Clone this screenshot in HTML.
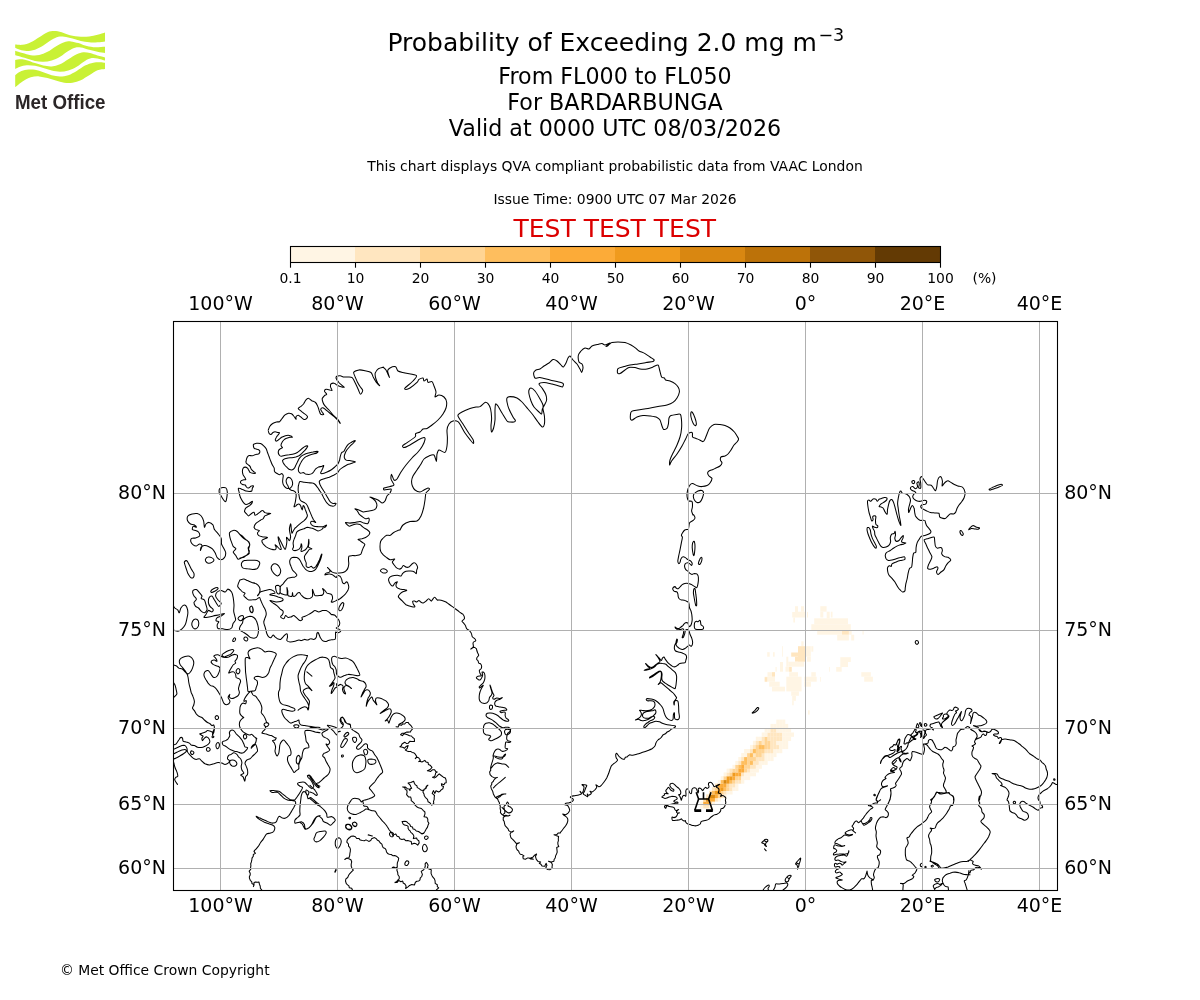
<!DOCTYPE html>
<html lang="en"><head><meta charset="utf-8"><title>Probability of Exceeding 2.0 mg m-3</title>
<style>
html,body{margin:0;padding:0;background:#fff}
body{width:1200px;height:1000px;overflow:hidden;position:relative}
svg{position:absolute;left:0;top:0;display:block;will-change:transform;-webkit-font-smoothing:antialiased}
text{font-family:"DejaVu Sans","Liberation Sans",sans-serif;fill:#000}
.logo text{font-family:"Liberation Sans","DejaVu Sans",sans-serif;font-weight:700;fill:#2b2627}
.ax text{font-size:19px}
.grid line{stroke:#b0b0b0;stroke-width:1;shape-rendering:crispEdges}
.coast{fill:none;stroke:#000;stroke-width:1.05;stroke-linejoin:round;stroke-linecap:round}
</style></head><body>
<svg width="1200" height="1000" viewBox="0 0 1200 1000">
<g class="logo"><g fill="#c9f135"><path d="M15.2 44.5C16.4 44.5 19.9 45.1 22.5 44.8C25.1 44.4 28.1 43.5 30.8 42.2C33.6 41.0 36.4 38.9 39.2 37.2C41.9 35.6 45.0 33.3 47.5 32.2C50.0 31.2 51.8 31.0 54.2 31.0C56.5 31.0 59.0 31.6 61.7 32.2C64.3 32.9 66.8 34.4 70.0 35.2C73.2 35.9 77.6 36.5 80.8 36.7C84.0 36.9 86.4 36.7 89.2 36.4C91.9 36.1 94.9 35.4 97.5 34.8C100.1 34.1 103.8 32.9 105.0 32.5L105.0 41.4C103.8 41.6 100.1 42.1 97.5 42.2C94.9 42.4 91.9 42.5 89.2 42.2C86.4 42.0 83.6 41.6 80.8 41.0C78.1 40.4 75.3 39.2 72.5 38.5C69.7 37.8 66.5 36.9 64.2 36.7C61.8 36.4 60.4 36.3 58.3 36.8C56.2 37.3 54.2 38.3 51.7 39.8C49.2 41.2 46.1 43.9 43.3 45.6C40.6 47.2 37.8 48.8 35.0 49.8C32.2 50.7 29.2 51.0 26.7 51.0C24.2 51.0 21.9 50.3 20.0 49.8C18.1 49.2 16.0 48.2 15.2 47.8Z"/><path d="M15.2 50.8C16.4 51.2 19.9 52.4 22.5 53.1C25.1 53.8 28.1 54.8 30.8 55.2C33.6 55.5 36.4 55.6 39.2 55.0C41.9 54.4 44.7 53.3 47.5 51.8C50.3 50.4 53.1 48.0 55.8 46.4C58.6 44.8 61.7 43.1 64.2 42.2C66.7 41.4 68.5 41.3 70.8 41.4C73.2 41.6 76.0 42.4 78.3 43.1C80.7 43.8 82.5 44.9 85.0 45.6C87.5 46.3 90.0 47.0 93.3 47.2C96.7 47.5 103.1 46.9 105.0 46.8L105.0 53.1C103.8 52.9 100.1 52.4 97.5 51.8C94.9 51.3 91.9 50.5 89.2 49.8C86.4 49.0 83.2 47.8 80.8 47.5C78.5 47.2 77.1 47.2 75.0 47.8C72.9 48.4 70.8 49.5 68.3 51.0C65.8 52.5 62.8 55.2 60.0 56.8C57.2 58.4 54.4 59.8 51.7 60.6C48.9 61.4 46.1 61.8 43.3 61.8C40.6 61.9 37.8 61.6 35.0 61.0C32.2 60.4 29.4 59.3 26.7 58.5C23.9 57.7 20.3 56.6 18.3 56.0C16.4 55.4 15.7 55.3 15.2 55.2Z"/><path d="M15.2 60.0C16.1 59.9 18.9 59.3 20.8 59.3C22.8 59.4 24.3 59.5 26.7 60.2C29.0 60.8 32.2 62.2 35.0 63.1C37.8 64.0 40.6 65.0 43.3 65.6C46.1 66.1 48.9 66.6 51.7 66.4C54.4 66.2 57.2 65.5 60.0 64.3C62.8 63.2 65.6 61.0 68.3 59.3C71.1 57.7 74.2 55.5 76.7 54.3C79.2 53.2 81.1 52.5 83.3 52.2C85.6 52.0 87.6 52.5 90.0 53.1C92.4 53.6 95.0 54.8 97.5 55.6C100.0 56.3 103.8 57.2 105.0 57.5L105.0 60.6C103.8 60.2 99.7 58.9 97.5 58.5C95.3 58.1 93.8 57.7 91.7 58.1C89.6 58.5 87.5 59.5 85.0 61.0C82.5 62.5 79.4 65.2 76.7 66.8C73.9 68.4 71.1 69.8 68.3 70.6C65.6 71.4 62.8 71.8 60.0 71.8C57.2 71.8 54.4 71.2 51.7 70.6C48.9 70.0 46.1 68.9 43.3 68.1C40.6 67.3 37.8 66.3 35.0 65.8C32.2 65.3 29.2 65.0 26.7 65.2C24.2 65.3 21.9 66.2 20.0 66.8C18.1 67.5 16.0 68.6 15.2 68.9Z"/><path d="M15.2 75.2C16.0 74.6 18.1 72.7 20.0 71.8C21.9 70.9 24.2 70.1 26.7 69.8C29.2 69.4 32.2 69.3 35.0 69.8C37.8 70.2 40.6 71.3 43.3 72.2C46.1 73.2 48.9 74.5 51.7 75.2C54.4 75.9 57.2 76.4 60.0 76.4C62.8 76.4 65.6 76.1 68.3 75.2C71.1 74.3 73.9 72.6 76.7 71.0C79.4 69.4 82.2 67.0 85.0 65.6C87.8 64.2 90.8 63.2 93.3 62.7C95.8 62.1 98.1 62.2 100.0 62.2C101.9 62.2 104.2 62.6 105.0 62.7L105.0 68.9C103.8 69.1 100.1 69.1 97.5 70.2C94.9 71.2 91.9 73.5 89.2 75.2C86.4 76.8 83.6 78.9 80.8 80.2C78.1 81.4 75.3 82.2 72.5 82.7C69.7 83.1 66.9 83.0 64.2 82.7C61.4 82.3 58.6 81.3 55.8 80.6C53.1 79.8 50.3 78.8 47.5 78.1C44.7 77.4 41.9 76.6 39.2 76.4C36.4 76.3 33.6 76.4 30.8 77.2C28.1 78.1 25.1 79.7 22.5 81.4C19.9 83.1 16.4 86.3 15.2 87.2Z"/></g>
<text x="15" y="108.9" font-size="20.6" textLength="90.5" lengthAdjust="spacingAndGlyphs">Met Office</text></g>
<g class="ttl" text-anchor="middle">
<text x="615.8" y="51" font-size="25">Probability of Exceeding 2.0 mg m<tspan dy="-10.2" dx="1.5" font-size="17.5">−3</tspan></text>
<text x="615" y="83.6" font-size="22.2">From FL000 to FL050</text>
<text x="615" y="109.8" font-size="22.2">For BARDARBUNGA</text>
<text x="615" y="136.4" font-size="22.2">Valid at 0000 UTC 08/03/2026</text>
<text x="615" y="171" font-size="13.9">This chart displays QVA compliant probabilistic data from VAAC London</text>
<text x="615" y="204.2" font-size="13.9">Issue Time: 0900 UTC 07 Mar 2026</text>
<text x="614.8" y="237" font-size="25" style="fill:#dc0000">TEST TEST TEST</text>
</g>
<g class="cb"><rect x="290.5" y="246.5" width="65.5" height="16.0" fill="#fff5e4"/><rect x="355.0" y="246.5" width="66.0" height="16.0" fill="#ffe6c0"/><rect x="420.0" y="246.5" width="66.0" height="16.0" fill="#ffd493"/><rect x="485.0" y="246.5" width="66.0" height="16.0" fill="#febe5e"/><rect x="550.0" y="246.5" width="66.0" height="16.0" fill="#fcab38"/><rect x="615.0" y="246.5" width="66.0" height="16.0" fill="#f09b1e"/><rect x="680.0" y="246.5" width="66.0" height="16.0" fill="#d98711"/><rect x="745.0" y="246.5" width="66.0" height="16.0" fill="#bc7209"/><rect x="810.0" y="246.5" width="66.0" height="16.0" fill="#905608"/><rect x="875.0" y="246.5" width="66.0" height="16.0" fill="#633a04"/><rect x="290.5" y="246.5" width="650.0" height="16.0" fill="none" stroke="#000" stroke-width="1.1"/><line x1="290.5" y1="262.5" x2="290.5" y2="267.7" stroke="#000" stroke-width="1.1"/><text x="290.5" y="283" font-size="13.9" text-anchor="middle">0.1</text><line x1="355.5" y1="262.5" x2="355.5" y2="267.7" stroke="#000" stroke-width="1.1"/><text x="355.5" y="283" font-size="13.9" text-anchor="middle">10</text><line x1="420.5" y1="262.5" x2="420.5" y2="267.7" stroke="#000" stroke-width="1.1"/><text x="420.5" y="283" font-size="13.9" text-anchor="middle">20</text><line x1="485.5" y1="262.5" x2="485.5" y2="267.7" stroke="#000" stroke-width="1.1"/><text x="485.5" y="283" font-size="13.9" text-anchor="middle">30</text><line x1="550.5" y1="262.5" x2="550.5" y2="267.7" stroke="#000" stroke-width="1.1"/><text x="550.5" y="283" font-size="13.9" text-anchor="middle">40</text><line x1="615.5" y1="262.5" x2="615.5" y2="267.7" stroke="#000" stroke-width="1.1"/><text x="615.5" y="283" font-size="13.9" text-anchor="middle">50</text><line x1="680.5" y1="262.5" x2="680.5" y2="267.7" stroke="#000" stroke-width="1.1"/><text x="680.5" y="283" font-size="13.9" text-anchor="middle">60</text><line x1="745.5" y1="262.5" x2="745.5" y2="267.7" stroke="#000" stroke-width="1.1"/><text x="745.5" y="283" font-size="13.9" text-anchor="middle">70</text><line x1="810.5" y1="262.5" x2="810.5" y2="267.7" stroke="#000" stroke-width="1.1"/><text x="810.5" y="283" font-size="13.9" text-anchor="middle">80</text><line x1="875.5" y1="262.5" x2="875.5" y2="267.7" stroke="#000" stroke-width="1.1"/><text x="875.5" y="283" font-size="13.9" text-anchor="middle">90</text><line x1="940.5" y1="262.5" x2="940.5" y2="267.7" stroke="#000" stroke-width="1.1"/><text x="940.5" y="283" font-size="13.9" text-anchor="middle">100</text><text x="984.5" y="283" font-size="13.9" text-anchor="middle">(%)</text></g>
<g class="ax"><text x="220.5" y="310" text-anchor="middle">100°W</text><text x="220.5" y="912" text-anchor="middle">100°W</text><text x="337.5" y="310" text-anchor="middle">80°W</text><text x="337.5" y="912" text-anchor="middle">80°W</text><text x="454.5" y="310" text-anchor="middle">60°W</text><text x="454.5" y="912" text-anchor="middle">60°W</text><text x="571.5" y="310" text-anchor="middle">40°W</text><text x="571.5" y="912" text-anchor="middle">40°W</text><text x="688.5" y="310" text-anchor="middle">20°W</text><text x="688.5" y="912" text-anchor="middle">20°W</text><text x="805.5" y="310" text-anchor="middle">0°</text><text x="805.5" y="912" text-anchor="middle">0°</text><text x="922.5" y="310" text-anchor="middle">20°E</text><text x="922.5" y="912" text-anchor="middle">20°E</text><text x="1039.5" y="310" text-anchor="middle">40°E</text><text x="1039.5" y="912" text-anchor="middle">40°E</text><text x="166" y="873.7" text-anchor="end">60°N</text><text x="1064.2" y="873.7">60°N</text><text x="166" y="809.7" text-anchor="end">65°N</text><text x="1064.2" y="809.7">65°N</text><text x="166" y="733.7" text-anchor="end">70°N</text><text x="1064.2" y="733.7">70°N</text><text x="166" y="635.7" text-anchor="end">75°N</text><text x="1064.2" y="635.7">75°N</text><text x="166" y="498.7" text-anchor="end">80°N</text><text x="1064.2" y="498.7">80°N</text></g>
<clipPath id="mc"><rect x="173.5" y="321.5" width="884.0" height="569.0"/></clipPath>
<g clip-path="url(#mc)">
<g class="pl"><rect x="700.2" y="804.9" width="3.1" height="3.6" fill="#fff5e4"/><rect x="700.2" y="801.5" width="3.1" height="3.6" fill="#fff5e4"/><rect x="703.2" y="804.9" width="3.1" height="3.6" fill="#ffe6c0"/><rect x="703.2" y="801.5" width="3.1" height="3.6" fill="#fcab38"/><rect x="703.2" y="797.9" width="3.1" height="3.7" fill="#ffd493"/><rect x="706.1" y="804.9" width="3.1" height="3.6" fill="#ffe6c0"/><rect x="706.1" y="801.5" width="3.1" height="3.6" fill="#fcab38"/><rect x="706.1" y="797.9" width="3.1" height="3.7" fill="#d88812"/><rect x="706.1" y="794.4" width="3.1" height="3.7" fill="#ffe6c0"/><rect x="709.0" y="804.9" width="3.1" height="3.6" fill="#fff5e4"/><rect x="709.0" y="801.5" width="3.1" height="3.6" fill="#ffd493"/><rect x="709.0" y="797.9" width="3.1" height="3.7" fill="#fcab38"/><rect x="709.0" y="794.4" width="3.1" height="3.7" fill="#d88812"/><rect x="709.0" y="790.8" width="3.1" height="3.7" fill="#ffe6c0"/><rect x="711.9" y="801.5" width="3.1" height="3.6" fill="#fff5e4"/><rect x="711.9" y="797.9" width="3.1" height="3.7" fill="#fcab38"/><rect x="711.9" y="794.4" width="3.1" height="3.7" fill="#d88812"/><rect x="711.9" y="790.8" width="3.1" height="3.7" fill="#febe5e"/><rect x="711.9" y="787.2" width="3.1" height="3.8" fill="#ffe6c0"/><rect x="714.9" y="797.9" width="3.1" height="3.7" fill="#ffe6c0"/><rect x="714.9" y="794.4" width="3.1" height="3.7" fill="#fcab38"/><rect x="714.9" y="790.8" width="3.1" height="3.7" fill="#f09b1e"/><rect x="714.9" y="787.2" width="3.1" height="3.8" fill="#ffd493"/><rect x="714.9" y="783.6" width="3.1" height="3.8" fill="#ffe6c0"/><rect x="717.8" y="797.9" width="3.1" height="3.7" fill="#fff5e4"/><rect x="717.8" y="794.4" width="3.1" height="3.7" fill="#ffd493"/><rect x="717.8" y="790.8" width="3.1" height="3.7" fill="#f09b1e"/><rect x="717.8" y="787.2" width="3.1" height="3.8" fill="#fcab38"/><rect x="717.8" y="783.6" width="3.1" height="3.8" fill="#fcab38"/><rect x="717.8" y="779.9" width="3.1" height="3.8" fill="#fff5e4"/><rect x="720.7" y="794.4" width="3.1" height="3.7" fill="#ffe6c0"/><rect x="720.7" y="790.8" width="3.1" height="3.7" fill="#ffd493"/><rect x="720.7" y="787.2" width="3.1" height="3.8" fill="#f09b1e"/><rect x="720.7" y="783.6" width="3.1" height="3.8" fill="#fcab38"/><rect x="720.7" y="779.9" width="3.1" height="3.8" fill="#febe5e"/><rect x="720.7" y="776.2" width="3.1" height="3.9" fill="#fff5e4"/><rect x="723.6" y="794.4" width="3.1" height="3.7" fill="#fff5e4"/><rect x="723.6" y="790.8" width="3.1" height="3.7" fill="#ffe6c0"/><rect x="723.6" y="787.2" width="3.1" height="3.8" fill="#febe5e"/><rect x="723.6" y="783.6" width="3.1" height="3.8" fill="#fcab38"/><rect x="723.6" y="779.9" width="3.1" height="3.8" fill="#d88812"/><rect x="723.6" y="776.2" width="3.1" height="3.9" fill="#ffd493"/><rect x="723.6" y="772.4" width="3.1" height="3.9" fill="#fff5e4"/><rect x="726.6" y="790.8" width="3.1" height="3.7" fill="#fff5e4"/><rect x="726.6" y="787.2" width="3.1" height="3.8" fill="#ffd493"/><rect x="726.6" y="783.6" width="3.1" height="3.8" fill="#ffd493"/><rect x="726.6" y="779.9" width="3.1" height="3.8" fill="#f09b1e"/><rect x="726.6" y="776.2" width="3.1" height="3.9" fill="#f09b1e"/><rect x="726.6" y="772.4" width="3.1" height="3.9" fill="#ffe6c0"/><rect x="726.6" y="768.6" width="3.1" height="3.9" fill="#fff5e4"/><rect x="729.5" y="790.8" width="3.1" height="3.7" fill="#fff5e4"/><rect x="729.5" y="787.2" width="3.1" height="3.8" fill="#ffe6c0"/><rect x="729.5" y="783.6" width="3.1" height="3.8" fill="#ffe6c0"/><rect x="729.5" y="779.9" width="3.1" height="3.8" fill="#febe5e"/><rect x="729.5" y="776.2" width="3.1" height="3.9" fill="#f09b1e"/><rect x="729.5" y="772.4" width="3.1" height="3.9" fill="#ffd493"/><rect x="729.5" y="768.6" width="3.1" height="3.9" fill="#ffe6c0"/><rect x="732.4" y="787.2" width="3.1" height="3.8" fill="#fff5e4"/><rect x="732.4" y="783.6" width="3.1" height="3.8" fill="#ffe6c0"/><rect x="732.4" y="779.9" width="3.1" height="3.8" fill="#ffd493"/><rect x="732.4" y="776.2" width="3.1" height="3.9" fill="#fcab38"/><rect x="732.4" y="772.4" width="3.1" height="3.9" fill="#f09b1e"/><rect x="732.4" y="768.6" width="3.1" height="3.9" fill="#ffd493"/><rect x="732.4" y="764.8" width="3.1" height="4.0" fill="#fff5e4"/><rect x="735.3" y="787.2" width="3.1" height="3.8" fill="#fff5e4"/><rect x="735.3" y="783.6" width="3.1" height="3.8" fill="#fff5e4"/><rect x="735.3" y="779.9" width="3.1" height="3.8" fill="#ffe6c0"/><rect x="735.3" y="776.2" width="3.1" height="3.9" fill="#ffd493"/><rect x="735.3" y="772.4" width="3.1" height="3.9" fill="#fcab38"/><rect x="735.3" y="768.6" width="3.1" height="3.9" fill="#ffd493"/><rect x="735.3" y="764.8" width="3.1" height="4.0" fill="#ffd493"/><rect x="735.3" y="760.9" width="3.1" height="4.0" fill="#fff5e4"/><rect x="738.3" y="779.9" width="3.1" height="3.8" fill="#ffe6c0"/><rect x="738.3" y="776.2" width="3.1" height="3.9" fill="#ffd493"/><rect x="738.3" y="772.4" width="3.1" height="3.9" fill="#fcab38"/><rect x="738.3" y="768.6" width="3.1" height="3.9" fill="#fcab38"/><rect x="738.3" y="764.8" width="3.1" height="4.0" fill="#febe5e"/><rect x="738.3" y="760.9" width="3.1" height="4.0" fill="#ffe6c0"/><rect x="738.3" y="757.0" width="3.1" height="4.1" fill="#fff5e4"/><rect x="741.2" y="779.9" width="3.1" height="3.8" fill="#fff5e4"/><rect x="741.2" y="776.2" width="3.1" height="3.9" fill="#fff5e4"/><rect x="741.2" y="772.4" width="3.1" height="3.9" fill="#ffe6c0"/><rect x="741.2" y="768.6" width="3.1" height="3.9" fill="#fcab38"/><rect x="741.2" y="764.8" width="3.1" height="4.0" fill="#fcab38"/><rect x="741.2" y="760.9" width="3.1" height="4.0" fill="#febe5e"/><rect x="741.2" y="757.0" width="3.1" height="4.1" fill="#ffe6c0"/><rect x="741.2" y="753.0" width="3.1" height="4.1" fill="#fff5e4"/><rect x="744.1" y="776.2" width="3.1" height="3.9" fill="#fff5e4"/><rect x="744.1" y="772.4" width="3.1" height="3.9" fill="#fff5e4"/><rect x="744.1" y="768.6" width="3.1" height="3.9" fill="#ffd493"/><rect x="744.1" y="764.8" width="3.1" height="4.0" fill="#ffd493"/><rect x="744.1" y="760.9" width="3.1" height="4.0" fill="#febe5e"/><rect x="744.1" y="757.0" width="3.1" height="4.1" fill="#febe5e"/><rect x="744.1" y="753.0" width="3.1" height="4.1" fill="#fff5e4"/><rect x="744.1" y="749.0" width="3.1" height="4.2" fill="#fff5e4"/><rect x="747.1" y="776.2" width="3.1" height="3.9" fill="#fff5e4"/><rect x="747.1" y="772.4" width="3.1" height="3.9" fill="#fff5e4"/><rect x="747.1" y="768.6" width="3.1" height="3.9" fill="#ffe6c0"/><rect x="747.1" y="764.8" width="3.1" height="4.0" fill="#ffd493"/><rect x="747.1" y="760.9" width="3.1" height="4.0" fill="#ffd493"/><rect x="747.1" y="757.0" width="3.1" height="4.1" fill="#ffd493"/><rect x="747.1" y="753.0" width="3.1" height="4.1" fill="#ffd493"/><rect x="747.1" y="749.0" width="3.1" height="4.2" fill="#fff5e4"/><rect x="750.0" y="772.4" width="3.1" height="3.9" fill="#fff5e4"/><rect x="750.0" y="768.6" width="3.1" height="3.9" fill="#fff5e4"/><rect x="750.0" y="764.8" width="3.1" height="4.0" fill="#ffe6c0"/><rect x="750.0" y="760.9" width="3.1" height="4.0" fill="#febe5e"/><rect x="750.0" y="757.0" width="3.1" height="4.1" fill="#ffd493"/><rect x="750.0" y="753.0" width="3.1" height="4.1" fill="#febe5e"/><rect x="750.0" y="749.0" width="3.1" height="4.2" fill="#ffe6c0"/><rect x="750.0" y="744.9" width="3.1" height="4.2" fill="#fff5e4"/><rect x="752.9" y="772.4" width="3.1" height="3.9" fill="#fff5e4"/><rect x="752.9" y="768.6" width="3.1" height="3.9" fill="#fff5e4"/><rect x="752.9" y="764.8" width="3.1" height="4.0" fill="#ffe6c0"/><rect x="752.9" y="760.9" width="3.1" height="4.0" fill="#ffe6c0"/><rect x="752.9" y="757.0" width="3.1" height="4.1" fill="#ffd493"/><rect x="752.9" y="753.0" width="3.1" height="4.1" fill="#ffe6c0"/><rect x="752.9" y="749.0" width="3.1" height="4.2" fill="#febe5e"/><rect x="752.9" y="744.9" width="3.1" height="4.2" fill="#ffe6c0"/><rect x="752.9" y="740.8" width="3.1" height="4.3" fill="#fff5e4"/><rect x="755.8" y="768.6" width="3.1" height="3.9" fill="#fff5e4"/><rect x="755.8" y="764.8" width="3.1" height="4.0" fill="#fff5e4"/><rect x="755.8" y="760.9" width="3.1" height="4.0" fill="#ffe6c0"/><rect x="755.8" y="757.0" width="3.1" height="4.1" fill="#ffe6c0"/><rect x="755.8" y="753.0" width="3.1" height="4.1" fill="#ffd493"/><rect x="755.8" y="749.0" width="3.1" height="4.2" fill="#ffd493"/><rect x="755.8" y="744.9" width="3.1" height="4.2" fill="#ffd493"/><rect x="755.8" y="740.8" width="3.1" height="4.3" fill="#ffe6c0"/><rect x="755.8" y="736.7" width="3.1" height="4.3" fill="#fff5e4"/><rect x="758.8" y="764.8" width="3.1" height="4.0" fill="#fff5e4"/><rect x="758.8" y="760.9" width="3.1" height="4.0" fill="#fff5e4"/><rect x="758.8" y="757.0" width="3.1" height="4.1" fill="#ffe6c0"/><rect x="758.8" y="753.0" width="3.1" height="4.1" fill="#ffd493"/><rect x="758.8" y="749.0" width="3.1" height="4.2" fill="#ffd493"/><rect x="758.8" y="744.9" width="3.1" height="4.2" fill="#febe5e"/><rect x="758.8" y="740.8" width="3.1" height="4.3" fill="#ffd493"/><rect x="758.8" y="736.7" width="3.1" height="4.3" fill="#fff5e4"/><rect x="761.7" y="760.9" width="3.1" height="4.0" fill="#fff5e4"/><rect x="761.7" y="757.0" width="3.1" height="4.1" fill="#ffe6c0"/><rect x="761.7" y="753.0" width="3.1" height="4.1" fill="#ffe6c0"/><rect x="761.7" y="749.0" width="3.1" height="4.2" fill="#ffd493"/><rect x="761.7" y="744.9" width="3.1" height="4.2" fill="#febe5e"/><rect x="761.7" y="740.8" width="3.1" height="4.3" fill="#ffe6c0"/><rect x="761.7" y="736.7" width="3.1" height="4.3" fill="#ffe6c0"/><rect x="761.7" y="732.5" width="3.1" height="4.3" fill="#fff5e4"/><rect x="764.6" y="760.9" width="3.1" height="4.0" fill="#fff5e4"/><rect x="764.6" y="757.0" width="3.1" height="4.1" fill="#fff5e4"/><rect x="764.6" y="753.0" width="3.1" height="4.1" fill="#fff5e4"/><rect x="764.6" y="749.0" width="3.1" height="4.2" fill="#ffe6c0"/><rect x="764.6" y="744.9" width="3.1" height="4.2" fill="#ffd493"/><rect x="764.6" y="740.8" width="3.1" height="4.3" fill="#ffd493"/><rect x="764.6" y="736.7" width="3.1" height="4.3" fill="#ffd493"/><rect x="764.6" y="732.5" width="3.1" height="4.3" fill="#fff5e4"/><rect x="764.6" y="728.2" width="3.1" height="4.4" fill="#fff5e4"/><rect x="767.5" y="757.0" width="3.1" height="4.1" fill="#fff5e4"/><rect x="767.5" y="753.0" width="3.1" height="4.1" fill="#fff5e4"/><rect x="767.5" y="749.0" width="3.1" height="4.2" fill="#ffe6c0"/><rect x="767.5" y="744.9" width="3.1" height="4.2" fill="#ffd493"/><rect x="767.5" y="740.8" width="3.1" height="4.3" fill="#ffd493"/><rect x="767.5" y="736.7" width="3.1" height="4.3" fill="#ffe6c0"/><rect x="767.5" y="732.5" width="3.1" height="4.3" fill="#ffe6c0"/><rect x="767.5" y="728.2" width="3.1" height="4.4" fill="#fff5e4"/><rect x="770.5" y="757.0" width="3.1" height="4.1" fill="#fff5e4"/><rect x="770.5" y="753.0" width="3.1" height="4.1" fill="#fff5e4"/><rect x="770.5" y="749.0" width="3.1" height="4.2" fill="#ffe6c0"/><rect x="770.5" y="744.9" width="3.1" height="4.2" fill="#ffe6c0"/><rect x="770.5" y="740.8" width="3.1" height="4.3" fill="#ffe6c0"/><rect x="770.5" y="736.7" width="3.1" height="4.3" fill="#ffe6c0"/><rect x="770.5" y="732.5" width="3.1" height="4.3" fill="#ffe6c0"/><rect x="770.5" y="728.2" width="3.1" height="4.4" fill="#ffe6c0"/><rect x="770.5" y="723.9" width="3.1" height="4.4" fill="#fff5e4"/><rect x="773.4" y="753.0" width="3.1" height="4.1" fill="#fff5e4"/><rect x="773.4" y="749.0" width="3.1" height="4.2" fill="#fff5e4"/><rect x="773.4" y="744.9" width="3.1" height="4.2" fill="#ffe6c0"/><rect x="773.4" y="740.8" width="3.1" height="4.3" fill="#ffe6c0"/><rect x="773.4" y="736.7" width="3.1" height="4.3" fill="#ffe6c0"/><rect x="773.4" y="732.5" width="3.1" height="4.3" fill="#ffe6c0"/><rect x="773.4" y="728.2" width="3.1" height="4.4" fill="#ffe6c0"/><rect x="773.4" y="723.9" width="3.1" height="4.4" fill="#fff5e4"/><rect x="776.3" y="749.0" width="3.1" height="4.2" fill="#fff5e4"/><rect x="776.3" y="744.9" width="3.1" height="4.2" fill="#ffe6c0"/><rect x="776.3" y="740.8" width="3.1" height="4.3" fill="#fff5e4"/><rect x="776.3" y="736.7" width="3.1" height="4.3" fill="#ffe6c0"/><rect x="776.3" y="732.5" width="3.1" height="4.3" fill="#ffe6c0"/><rect x="776.3" y="728.2" width="3.1" height="4.4" fill="#fff5e4"/><rect x="776.3" y="723.9" width="3.1" height="4.4" fill="#fff5e4"/><rect x="776.3" y="719.6" width="3.1" height="4.5" fill="#fff5e4"/><rect x="779.2" y="749.0" width="3.1" height="4.2" fill="#fff5e4"/><rect x="779.2" y="744.9" width="3.1" height="4.2" fill="#fff5e4"/><rect x="779.2" y="740.8" width="3.1" height="4.3" fill="#fff5e4"/><rect x="779.2" y="736.7" width="3.1" height="4.3" fill="#ffe6c0"/><rect x="779.2" y="732.5" width="3.1" height="4.3" fill="#ffe6c0"/><rect x="779.2" y="728.2" width="3.1" height="4.4" fill="#fff5e4"/><rect x="779.2" y="723.9" width="3.1" height="4.4" fill="#fff5e4"/><rect x="779.2" y="719.6" width="3.1" height="4.5" fill="#fff5e4"/><rect x="782.2" y="744.9" width="3.1" height="4.2" fill="#fff5e4"/><rect x="782.2" y="740.8" width="3.1" height="4.3" fill="#fff5e4"/><rect x="782.2" y="736.7" width="3.1" height="4.3" fill="#fff5e4"/><rect x="782.2" y="732.5" width="3.1" height="4.3" fill="#fff5e4"/><rect x="782.2" y="728.2" width="3.1" height="4.4" fill="#fff5e4"/><rect x="782.2" y="723.9" width="3.1" height="4.4" fill="#fff5e4"/><rect x="782.2" y="719.6" width="3.1" height="4.5" fill="#fff5e4"/><rect x="785.1" y="744.9" width="3.1" height="4.2" fill="#fff5e4"/><rect x="785.1" y="740.8" width="3.1" height="4.3" fill="#fff5e4"/><rect x="785.1" y="736.7" width="3.1" height="4.3" fill="#fff5e4"/><rect x="785.1" y="732.5" width="3.1" height="4.3" fill="#fff5e4"/><rect x="785.1" y="728.2" width="3.1" height="4.4" fill="#fff5e4"/><rect x="785.1" y="723.9" width="3.1" height="4.4" fill="#fff5e4"/><rect x="788.0" y="736.7" width="3.1" height="4.3" fill="#fff5e4"/><rect x="788.0" y="732.5" width="3.1" height="4.3" fill="#fff5e4"/><rect x="788.0" y="728.2" width="3.1" height="4.4" fill="#fff5e4"/><rect x="790.9" y="732.5" width="3.1" height="4.3" fill="#fff5e4"/><rect x="795.0" y="606.2" width="3.0" height="11.3" fill="#fff5e4"/><rect x="798.0" y="611.7" width="7.0" height="5.8" fill="#fff5e4"/><rect x="801.0" y="606.2" width="3.0" height="5.5" fill="#fff5e4"/><rect x="792.2" y="612.0" width="2.8" height="5.5" fill="#fff5e4"/><rect x="793.3" y="617.5" width="1.7" height="5.0" fill="#fff5e4"/><rect x="807.0" y="612.0" width="1.0" height="5.5" fill="#fff5e4"/><rect x="820.3" y="606.2" width="6.3" height="5.5" fill="#fff5e4"/><rect x="820.3" y="611.7" width="3.0" height="5.8" fill="#fff5e4"/><rect x="826.7" y="611.7" width="3.0" height="6.7" fill="#fff5e4"/><rect x="830.8" y="611.7" width="1.7" height="5.8" fill="#fff5e4"/><rect x="814.2" y="618.3" width="33.8" height="5.8" fill="#fff5e4"/><rect x="811.3" y="624.2" width="39.5" height="5.8" fill="#fff5e4"/><rect x="817.2" y="630.0" width="34.5" height="4.7" fill="#fff5e4"/><rect x="837.2" y="634.7" width="11.7" height="5.8" fill="#fff5e4"/><rect x="851.2" y="634.7" width="3.0" height="5.8" fill="#fff5e4"/><rect x="842.0" y="630.8" width="6.8" height="3.8" fill="#ffe6c0"/><rect x="862.5" y="630.8" width="1.2" height="3.8" fill="#fff5e4"/><rect x="805.0" y="646.2" width="5.8" height="10.5" fill="#fff5e4"/><rect x="801.3" y="641.3" width="2.3" height="4.8" fill="#fff5e4"/><rect x="811.3" y="646.2" width="2.0" height="5.5" fill="#fff5e4"/><rect x="807.0" y="656.7" width="3.8" height="5.0" fill="#fff5e4"/><rect x="798.0" y="646.2" width="7.0" height="15.5" fill="#ffe6c0"/><rect x="791.2" y="652.5" width="6.8" height="4.2" fill="#ffe6c0"/><rect x="795.0" y="656.7" width="9.2" height="5.0" fill="#ffe6c0"/><rect x="767.2" y="652.2" width="2.5" height="4.5" fill="#fff5e4"/><rect x="773.0" y="652.2" width="1.7" height="4.5" fill="#fff5e4"/><rect x="782.2" y="646.2" width="0.8" height="10.5" fill="#fff5e4"/><rect x="786.3" y="656.7" width="2.0" height="10.0" fill="#fff5e4"/><rect x="788.3" y="661.7" width="15.8" height="5.0" fill="#fff5e4"/><rect x="780.0" y="662.0" width="3.0" height="9.7" fill="#fff5e4"/><rect x="775.5" y="667.0" width="1.2" height="4.7" fill="#fff5e4"/><rect x="785.5" y="666.7" width="6.2" height="5.0" fill="#fff5e4"/><rect x="789.2" y="667.0" width="2.5" height="4.7" fill="#ffe6c0"/><rect x="767.5" y="672.2" width="7.5" height="4.5" fill="#fff5e4"/><rect x="772.0" y="672.2" width="3.0" height="4.5" fill="#ffe6c0"/><rect x="764.7" y="676.7" width="10.3" height="5.0" fill="#fff5e4"/><rect x="764.7" y="677.2" width="2.5" height="4.5" fill="#ffe6c0"/><rect x="769.2" y="681.7" width="10.5" height="5.0" fill="#fff5e4"/><rect x="772.0" y="686.7" width="13.0" height="4.7" fill="#fff5e4"/><rect x="789.2" y="672.2" width="8.8" height="4.5" fill="#fff5e4"/><rect x="786.3" y="676.7" width="15.3" height="14.7" fill="#fff5e4"/><rect x="791.2" y="691.3" width="7.7" height="4.5" fill="#fff5e4"/><rect x="792.2" y="695.8" width="3.7" height="5.0" fill="#fff5e4"/><rect x="792.2" y="700.8" width="1.5" height="4.5" fill="#fff5e4"/><rect x="804.2" y="676.7" width="12.5" height="5.0" fill="#fff5e4"/><rect x="811.3" y="672.2" width="4.5" height="4.5" fill="#fff5e4"/><rect x="804.2" y="681.7" width="6.7" height="5.0" fill="#fff5e4"/><rect x="820.0" y="677.0" width="0.8" height="4.7" fill="#fff5e4"/><rect x="840.3" y="657.2" width="10.5" height="4.8" fill="#fff5e4"/><rect x="840.3" y="662.0" width="7.7" height="5.0" fill="#fff5e4"/><rect x="836.2" y="667.0" width="5.5" height="4.7" fill="#fff5e4"/><rect x="829.2" y="667.0" width="0.8" height="4.7" fill="#fff5e4"/><rect x="861.3" y="672.2" width="9.5" height="4.5" fill="#fff5e4"/><rect x="864.2" y="676.7" width="8.7" height="5.0" fill="#fff5e4"/><rect x="808.0" y="710.3" width="1.7" height="4.3" fill="#fff5e4"/></g>
<path class="coast" d="M383.0 367.2C383.4 367.6 385.1 368.5 386.0 370.0C386.9 371.5 389.2 377.3 389.4 377.4C389.6 377.5 387.5 372.3 387.6 371.0C387.7 369.7 388.9 368.6 390.0 368.0C391.1 367.4 394.5 366.4 395.6 366.8C396.7 367.2 396.7 370.1 398.0 371.0C399.3 371.9 402.4 372.3 405.0 373.0C407.6 373.7 415.3 374.5 416.4 375.6C417.5 376.7 414.6 379.2 413.0 381.0C411.4 382.8 406.0 386.8 405.0 388.0C404.0 389.2 405.3 389.4 406.0 389.4C406.7 389.4 408.4 389.0 410.0 388.0C411.6 387.0 415.7 383.6 417.0 382.4C418.3 381.2 418.1 380.0 419.0 379.4C419.9 378.8 422.3 377.8 423.0 378.0C423.7 378.2 423.4 380.9 424.0 381.0C424.6 381.1 426.4 378.8 427.0 379.0C427.6 379.2 427.3 382.0 428.0 382.4C428.7 382.8 431.1 381.1 432.0 381.6C432.9 382.1 433.4 384.5 434.0 386.0C434.6 387.5 435.9 390.4 436.0 392.0C436.1 393.6 434.6 396.6 435.0 397.0C435.4 397.4 437.7 395.0 439.0 395.0C440.3 395.0 442.9 396.0 444.0 397.0C445.1 398.0 446.3 400.4 446.6 402.0C446.9 403.6 446.5 406.3 446.0 408.0C445.5 409.7 444.1 412.3 443.0 414.0C441.9 415.7 439.6 418.4 438.0 420.0C436.4 421.6 433.6 423.8 432.0 425.0C430.4 426.2 428.3 427.8 427.0 428.4C425.7 429.0 424.0 428.5 423.0 429.0C422.0 429.5 421.1 431.3 420.0 432.0C418.9 432.7 416.3 432.9 415.6 433.6C414.9 434.3 416.5 435.5 415.0 437.0C413.5 438.5 406.8 442.7 405.0 444.0C403.2 445.3 402.7 445.5 402.6 446.0C402.5 446.5 402.9 447.7 404.0 447.6C405.1 447.5 408.0 446.1 410.0 445.0C412.0 443.9 416.0 441.1 418.0 440.0C420.0 438.9 423.0 437.7 424.0 437.6C425.0 437.5 425.2 438.4 425.0 439.6C424.8 440.8 423.4 444.2 422.4 446.0C421.4 447.8 419.5 450.3 418.0 452.0C416.5 453.7 413.7 456.1 412.0 458.0C410.3 459.9 407.6 463.0 406.0 465.0C404.4 467.0 402.3 470.0 401.0 472.0C399.7 474.0 398.0 477.9 397.0 479.0C396.0 480.1 394.8 480.7 394.0 480.0C393.2 479.3 392.0 474.5 391.6 474.4C391.2 474.3 390.7 477.5 391.0 479.0C391.3 480.5 394.1 483.9 394.0 485.0C393.9 486.1 391.4 486.0 390.0 486.4C388.6 486.8 384.8 487.5 384.0 488.0C383.2 488.5 383.4 489.9 384.4 490.0C385.4 490.1 390.2 488.6 391.0 489.0C391.8 489.4 390.6 492.0 390.0 493.0C389.4 494.0 387.7 494.9 387.0 496.0C386.3 497.1 385.7 500.0 385.0 501.0C384.3 502.0 383.0 503.1 382.0 503.0C381.0 502.9 379.3 500.7 378.0 500.0C376.7 499.3 374.1 498.4 373.0 498.0C371.9 497.6 370.4 497.1 370.0 497.0M400.0 530.0C400.4 529.3 401.6 526.2 403.0 525.0C404.4 523.8 408.0 522.2 410.0 521.6C412.0 521.0 415.4 521.8 417.0 521.0C418.6 520.2 420.1 517.9 421.0 516.0C421.9 514.1 423.0 510.3 423.6 508.0C424.2 505.7 424.7 502.1 425.0 500.0C425.3 497.9 425.4 494.5 426.0 493.0C426.6 491.5 429.1 490.1 429.4 489.4C429.7 488.7 428.8 487.9 428.0 488.0C427.2 488.1 425.1 489.4 424.0 490.0C422.9 490.6 421.3 492.0 420.0 492.0C418.7 492.0 416.1 490.9 415.0 490.0C413.9 489.1 412.9 487.3 412.4 486.0C411.9 484.7 411.5 482.4 411.6 481.0C411.7 479.6 412.2 477.6 413.0 476.0C413.8 474.4 415.9 471.7 417.0 470.0C418.1 468.3 420.0 465.6 421.0 464.0C422.0 462.4 422.9 460.1 424.0 459.0C425.1 457.9 427.6 456.6 429.0 456.0C430.4 455.4 432.9 454.2 434.0 455.0C435.1 455.8 436.0 461.5 436.4 461.4C436.8 461.3 436.6 455.6 437.0 454.0C437.4 452.4 437.9 450.2 439.0 450.0C440.1 449.8 443.9 453.0 445.0 452.4C446.1 451.8 446.7 448.1 447.0 446.0C447.3 443.9 447.4 440.3 447.4 438.0C447.4 435.7 446.8 432.0 447.0 430.0C447.2 428.0 448.1 425.3 449.0 424.0C449.9 422.7 451.7 421.3 453.0 421.0C454.3 420.7 456.9 420.9 458.0 421.6C459.1 422.3 460.0 424.4 461.0 426.0C462.0 427.6 463.7 431.1 465.0 433.0C466.3 434.9 468.8 438.1 470.0 439.6C471.2 441.1 473.0 443.4 473.4 443.4C473.8 443.4 473.8 441.2 473.0 439.6C472.2 438.0 469.4 434.2 468.0 432.0C466.6 429.8 464.3 426.0 463.0 424.0C461.7 422.0 459.7 419.3 459.0 418.0C458.3 416.7 457.6 415.9 458.0 415.0C458.4 414.1 460.3 412.9 462.0 412.0C463.7 411.1 468.0 409.3 470.0 408.6C472.0 407.9 474.6 407.3 476.0 407.0C477.4 406.7 478.7 407.3 480.0 406.6C481.3 405.9 483.9 402.8 485.0 402.4C486.1 402.0 487.2 402.7 488.0 403.6C488.8 404.5 490.1 406.9 490.6 409.0C491.1 411.1 491.5 415.6 491.6 418.0C491.7 420.4 491.0 424.0 491.0 426.0C491.0 428.0 491.2 431.7 491.6 432.0C492.0 432.3 493.1 429.7 493.6 428.0C494.1 426.3 494.8 422.6 495.0 420.0C495.2 417.4 494.9 412.3 495.0 410.0C495.1 407.7 495.2 404.6 495.6 404.0C496.0 403.4 497.1 404.7 498.0 406.0C498.9 407.3 500.7 410.9 502.0 413.0C503.3 415.1 505.9 419.7 507.0 421.0C508.1 422.3 509.0 421.9 510.0 422.0C511.0 422.1 513.2 422.2 514.0 422.0C514.8 421.8 515.5 421.3 515.4 420.6C515.3 419.9 513.9 418.7 513.0 417.0C512.1 415.3 509.9 411.1 509.0 409.0C508.1 406.9 507.3 403.6 507.0 402.0C506.7 400.4 506.6 398.8 507.0 398.0C507.4 397.2 508.6 396.6 510.0 396.6C511.4 396.6 515.3 397.2 517.0 398.0C518.7 398.8 520.4 400.4 522.0 402.0C523.6 403.6 526.4 407.1 528.0 409.0C529.6 410.9 531.6 413.1 533.0 415.0C534.4 416.9 536.7 420.3 538.0 422.0C539.3 423.7 541.5 426.7 542.4 427.0C543.3 427.3 544.1 425.6 544.4 424.0C544.7 422.4 544.6 418.1 544.4 416.0C544.2 413.9 543.2 410.6 543.0 409.0C542.8 407.4 543.4 406.4 543.0 405.0C542.6 403.6 541.1 401.0 540.0 399.0C538.9 397.0 536.3 392.6 535.0 391.0C533.7 389.4 531.9 388.1 531.0 388.0C530.1 387.9 529.3 389.1 529.0 390.0C528.7 390.9 528.7 392.4 529.0 394.0C529.3 395.6 530.3 399.1 531.0 401.0C531.7 402.9 532.9 405.4 534.0 407.0C535.1 408.6 537.9 411.0 539.0 412.0C540.1 413.0 541.1 414.4 541.6 414.0C542.1 413.6 541.9 410.4 542.4 409.0C542.9 407.6 544.4 405.3 545.0 404.0C545.6 402.7 546.5 401.4 546.6 400.0C546.7 398.6 546.3 395.7 545.6 394.0C544.9 392.3 542.9 389.4 542.0 388.0C541.1 386.6 538.7 384.8 539.0 384.0C539.3 383.2 542.1 382.4 544.0 382.4C545.9 382.4 549.9 383.5 552.0 384.0C554.1 384.5 557.5 385.6 559.0 386.0C560.5 386.4 561.8 387.3 562.4 387.0C563.0 386.7 563.6 384.7 563.4 384.0C563.2 383.3 562.9 383.0 561.0 382.4C559.1 381.8 553.0 380.7 550.0 380.0C547.0 379.3 542.1 377.9 540.0 377.6C537.9 377.3 535.9 378.7 535.0 378.0C534.1 377.3 533.5 374.1 533.6 373.0C533.7 371.9 535.1 370.6 536.0 370.0C536.9 369.4 538.9 369.6 540.0 369.0C541.1 368.4 542.7 366.9 544.0 366.0C545.3 365.1 547.7 363.9 549.0 363.0C550.3 362.1 551.9 359.9 553.0 359.6C554.1 359.3 555.9 360.2 557.0 361.0C558.1 361.8 560.1 364.1 561.0 365.0C561.9 365.9 562.7 367.3 563.4 367.0C564.1 366.7 565.3 364.3 566.0 363.0C566.7 361.7 567.4 359.0 568.0 358.0C568.6 357.0 569.3 355.7 570.0 356.0C570.7 356.3 572.0 358.9 573.0 360.0C574.0 361.1 576.0 362.7 577.0 364.0C578.0 365.3 579.3 367.8 580.0 369.0C580.7 370.2 581.2 372.5 581.6 372.4C582.0 372.3 582.9 369.2 583.0 368.0C583.1 366.8 582.6 364.9 582.0 364.0C581.4 363.1 579.5 363.3 579.0 362.0C578.5 360.7 578.1 356.6 578.4 355.0C578.7 353.4 580.1 352.0 581.0 351.0C581.9 350.0 583.9 348.3 585.0 348.0C586.1 347.7 588.0 349.3 589.0 349.0C590.0 348.7 590.7 346.7 592.0 346.0C593.3 345.3 596.6 344.7 598.0 344.4C599.4 344.1 601.0 343.5 602.0 343.6C603.0 343.7 603.9 345.1 605.0 345.0C606.1 344.9 609.3 343.3 610.0 343.0M610.0 343.0C609.7 343.4 608.6 345.1 608.0 345.6C607.4 346.1 605.9 346.6 606.0 346.4C606.1 346.2 608.1 344.9 609.0 344.4C609.9 343.9 610.7 342.9 612.0 342.6C613.3 342.3 616.1 342.0 618.0 342.0C619.9 342.0 623.1 342.0 625.0 342.4C626.9 342.8 629.4 344.1 631.0 345.0C632.6 345.9 634.9 347.5 636.0 348.4C637.1 349.3 637.7 350.3 639.0 351.0C640.3 351.7 643.4 352.7 645.0 353.6C646.6 354.5 648.7 356.1 650.0 357.0C651.3 357.9 653.6 359.0 654.0 359.6C654.4 360.2 654.1 361.0 653.0 361.4C651.9 361.8 648.1 362.2 646.0 362.6C643.9 363.0 640.3 363.7 638.0 364.0C635.7 364.3 632.0 364.6 630.0 365.0C628.0 365.4 625.7 366.1 624.0 366.6C622.3 367.1 618.9 367.7 618.0 368.6C617.1 369.5 617.3 372.3 617.6 373.0C617.9 373.7 618.9 374.0 620.0 373.6C621.1 373.2 623.7 370.9 625.0 370.0C626.3 369.1 627.6 367.7 629.0 367.4C630.4 367.1 633.4 367.4 635.0 367.6C636.6 367.8 638.3 368.8 640.0 369.0C641.7 369.2 645.1 369.3 647.0 369.0C648.9 368.7 651.4 367.6 653.0 367.0C654.6 366.4 657.1 364.6 658.0 365.0C658.9 365.4 659.1 368.3 659.6 370.0C660.1 371.7 660.9 375.9 661.6 377.0C662.3 378.1 663.8 377.6 664.4 378.0C665.0 378.4 664.8 379.6 665.6 380.0C666.4 380.4 668.7 380.5 670.0 381.0C671.3 381.5 673.8 382.7 675.0 383.6C676.2 384.5 677.8 386.4 678.4 387.6C679.0 388.8 679.6 390.5 679.4 392.0C679.2 393.5 677.9 396.5 677.0 398.0C676.1 399.5 674.4 401.4 673.0 402.4C671.6 403.4 669.1 404.4 667.0 405.0C664.9 405.6 660.7 406.1 658.0 406.6C655.3 407.1 650.9 407.9 648.0 408.4C645.1 408.9 640.3 409.6 638.0 410.0C635.7 410.4 632.7 410.7 631.6 411.4C630.5 412.1 630.5 413.9 630.4 415.0C630.3 416.1 630.3 418.7 630.6 419.4C630.9 420.1 631.5 420.3 632.4 420.0C633.3 419.7 635.5 417.6 637.0 417.0C638.5 416.4 641.1 415.7 643.0 415.6C644.9 415.5 648.0 415.7 650.0 416.0C652.0 416.3 655.6 416.8 657.0 417.4C658.4 418.0 659.3 418.8 660.0 420.0C660.7 421.2 661.5 424.7 662.0 426.0C662.5 427.3 662.9 429.1 663.6 429.4C664.3 429.7 666.3 429.2 667.0 428.4C667.7 427.6 668.1 425.5 668.4 424.0C668.7 422.5 668.6 419.2 669.0 418.0C669.4 416.8 669.9 416.1 671.0 415.6C672.1 415.1 675.7 414.6 677.0 414.4C678.3 414.2 679.8 413.7 680.4 414.4C681.0 415.1 681.2 417.1 681.4 419.0C681.6 420.9 681.8 425.4 681.6 428.0C681.4 430.6 680.7 434.6 680.0 437.0C679.3 439.4 678.0 442.7 677.0 445.0C676.0 447.3 674.0 450.9 673.0 453.0C672.0 455.1 670.5 458.3 670.0 460.0C669.5 461.7 669.4 464.9 669.6 465.0C669.8 465.1 670.5 462.6 671.6 461.0C672.7 459.4 675.5 456.1 677.0 454.0C678.5 451.9 680.8 448.1 682.0 446.0C683.2 443.9 684.7 440.7 685.6 439.0C686.5 437.3 687.3 434.9 688.0 434.0C688.7 433.1 689.8 432.5 690.4 432.4C691.0 432.3 692.1 432.3 692.4 433.0C692.7 433.7 692.1 436.2 692.6 437.0C693.1 437.8 695.1 438.0 696.0 438.4C696.9 438.8 698.0 439.1 699.0 439.6C700.0 440.1 702.1 441.7 703.0 441.6C703.9 441.5 704.4 440.1 705.0 439.0C705.6 437.9 706.3 435.6 707.0 434.0C707.7 432.4 708.6 429.4 709.6 428.0C710.6 426.6 712.5 424.9 714.0 424.4C715.5 423.9 718.4 424.4 720.0 424.6C721.6 424.8 723.6 425.1 725.0 425.6C726.4 426.1 728.7 427.1 730.0 428.0C731.3 428.9 733.4 430.9 734.4 432.0C735.4 433.1 736.4 435.0 737.0 436.0C737.6 437.0 738.6 438.1 738.6 439.0C738.6 439.9 737.7 441.1 737.0 442.0C736.3 442.9 734.9 443.9 734.0 445.0C733.1 446.1 731.9 448.7 731.0 450.0C730.1 451.3 728.9 453.1 728.0 454.0C727.1 454.9 726.0 455.6 725.0 456.0C724.0 456.4 721.7 456.4 721.0 457.0C720.3 457.6 720.3 459.1 720.4 460.0C720.5 460.9 722.1 462.1 722.0 463.0C721.9 463.9 720.9 465.3 720.0 466.0C719.1 466.7 717.0 467.5 716.0 468.0C715.0 468.5 714.0 469.2 713.0 469.6C712.0 470.0 709.8 470.5 709.0 471.0C708.2 471.5 707.6 472.3 707.6 473.0C707.6 473.7 708.4 475.2 709.0 476.0C709.6 476.8 711.9 477.4 712.0 478.4C712.1 479.4 710.7 482.0 710.0 483.0C709.3 484.0 708.1 485.1 707.0 485.6C705.9 486.1 703.3 486.5 702.0 486.6C700.7 486.7 699.4 486.4 698.0 486.0C696.6 485.6 693.5 483.7 692.4 483.6C691.3 483.5 690.6 484.2 690.0 485.0C689.4 485.8 688.4 487.7 688.0 489.0C687.6 490.3 687.1 492.6 687.0 494.0C686.9 495.4 687.3 498.0 687.6 499.0C687.9 500.0 688.4 500.6 689.0 501.0C689.6 501.4 691.5 500.7 692.0 501.6C692.5 502.5 692.5 505.7 692.4 507.0C692.3 508.3 691.5 509.9 691.6 511.0C691.7 512.1 692.8 514.4 693.0 515.0M691.0 412.4C691.2 411.7 691.8 411.6 692.4 412.4C693.0 413.2 694.4 416.3 695.0 418.0C695.6 419.7 696.4 422.9 696.4 424.0C696.4 425.1 695.5 425.7 695.0 425.6C694.5 425.5 693.6 424.2 693.0 423.0C692.4 421.8 691.3 418.5 691.0 417.0C690.7 415.5 690.8 413.1 691.0 412.4ZM694.0 494.0C694.7 493.1 696.9 491.5 698.0 491.0C699.1 490.5 701.2 490.3 702.0 490.6C702.8 490.9 703.5 491.9 703.6 493.0C703.7 494.1 702.9 496.7 702.4 498.0C701.9 499.3 700.8 501.4 700.0 502.0C699.2 502.6 697.8 502.7 697.0 502.4C696.2 502.1 694.9 500.8 694.4 500.0C693.9 499.2 693.5 497.9 693.4 497.0C693.3 496.1 693.3 494.9 694.0 494.0ZM693.0 514.6C693.1 514.7 693.5 514.5 693.8 515.0C694.1 515.5 695.1 517.2 695.0 518.0C694.9 518.8 694.0 519.7 693.2 520.4C692.4 521.1 690.2 521.9 689.6 522.8C689.0 523.7 689.0 526.1 688.8 527.0C688.6 527.9 688.7 528.7 688.2 529.2C687.6 529.6 685.6 529.5 684.8 530.0C684.0 530.5 682.9 532.2 682.4 533.0C681.9 533.8 681.4 534.8 681.4 535.4C681.4 536.0 682.4 536.2 682.4 537.2C682.4 538.2 681.8 540.8 681.4 542.6C681.1 544.4 680.4 547.8 680.0 549.8C679.6 551.8 678.9 554.8 678.6 556.4C678.3 558.0 677.8 560.2 677.8 561.2C677.9 562.2 678.5 563.4 678.8 563.6C679.1 563.8 679.7 563.1 680.0 562.4C680.3 561.7 680.5 559.6 681.0 558.8C681.4 558.0 682.4 556.9 683.0 556.8C683.6 556.6 684.7 557.2 685.4 557.6C686.1 558.0 687.0 559.1 687.8 559.6C688.6 560.2 690.2 560.6 690.8 561.2C691.4 561.8 692.2 563.0 692.2 563.6C692.3 564.2 691.8 565.4 691.4 565.4C691.0 565.4 690.2 564.0 689.6 563.6C689.0 563.2 687.9 562.7 687.2 562.8C686.5 562.8 685.4 563.7 685.0 564.2C684.7 564.7 684.5 565.8 684.6 566.6C684.7 567.4 685.2 568.9 685.8 569.6C686.3 570.3 687.6 570.9 688.2 571.4C688.7 571.9 689.1 572.8 689.6 573.2C690.1 573.6 691.3 574.4 692.0 574.4C692.7 574.4 693.7 573.5 694.4 573.4C695.1 573.4 696.3 573.4 696.8 573.8C697.3 574.2 698.0 575.3 698.2 576.2C698.5 577.1 698.4 579.2 698.4 580.4C698.3 581.6 698.0 583.6 697.8 584.6C697.5 585.6 697.3 587.3 696.8 587.6C696.3 587.9 695.2 586.8 694.4 586.4C693.6 586.0 692.3 585.0 691.4 584.6C690.5 584.2 689.3 583.6 688.4 583.4C687.5 583.2 685.7 583.2 684.8 583.4C683.9 583.6 682.8 584.1 682.2 584.6C681.5 585.1 680.6 586.4 680.0 587.0C679.4 587.6 678.7 588.6 678.2 588.8C677.7 589.0 676.9 588.5 676.4 588.2C675.9 587.9 675.4 586.7 675.0 586.6C674.5 586.6 673.5 587.2 673.2 587.6C672.9 588.0 672.6 588.9 672.8 589.4C673.0 589.9 673.8 591.1 674.4 591.4C674.9 591.8 676.1 591.5 676.6 591.8C677.1 592.1 677.6 592.9 677.8 593.6C678.1 594.3 678.0 595.8 678.2 596.6C678.4 597.4 678.9 598.5 679.4 599.0C679.9 599.5 680.8 599.8 681.4 600.0C682.1 600.1 683.5 600.0 684.2 600.2C684.9 600.4 686.0 600.9 686.6 601.2C687.2 601.5 688.3 601.8 688.6 602.4C689.0 602.9 689.0 604.2 689.1 605.0C689.3 605.8 689.3 607.1 689.6 608.0C689.9 608.9 690.7 610.1 691.0 611.0C691.3 611.9 691.7 614.1 691.8 614.6M693.4 541.6C693.7 541.4 694.2 541.0 694.4 541.6C694.6 542.3 695.0 544.7 695.0 546.2C695.0 547.7 694.8 550.9 694.6 552.2C694.5 553.5 694.0 555.4 693.8 555.6C693.6 555.7 693.2 554.6 693.0 553.4C692.7 552.2 692.3 548.9 692.2 547.4C692.2 545.9 692.4 544.0 692.6 543.2C692.8 542.4 693.2 541.9 693.4 541.6ZM701.0 557.4C701.3 557.2 701.9 557.4 702.0 558.0C702.0 558.5 701.9 560.3 701.6 561.2C701.3 562.1 700.6 563.5 700.2 564.0C699.7 564.4 698.8 564.4 698.6 564.2C698.4 564.0 698.4 563.1 698.6 562.4C698.8 561.7 699.5 559.9 699.8 559.2C700.1 558.4 700.7 557.5 701.0 557.4ZM693.8 589.2C694.0 588.6 694.7 588.1 695.0 588.8C695.3 589.5 695.6 592.4 695.8 594.2C696.1 596.0 696.5 599.8 696.6 601.4C696.7 603.0 696.7 605.1 696.6 605.6C696.4 606.1 695.9 605.9 695.6 605.0C695.3 604.1 694.7 600.7 694.4 599.0C694.1 597.3 693.5 594.4 693.4 593.0C693.4 591.6 693.6 589.8 693.8 589.2ZM694.6 622.8C694.9 621.9 695.7 621.3 696.2 621.2C696.7 621.1 697.5 621.9 698.0 621.8C698.5 621.7 699.1 620.4 699.4 620.4C699.8 620.3 700.2 620.6 700.4 621.2C700.6 621.8 700.7 624.1 701.0 624.8C701.3 625.5 702.4 625.6 702.8 626.0C703.2 626.4 703.6 627.3 703.6 627.8C703.6 628.3 703.4 629.0 702.8 629.2C702.2 629.5 700.2 629.6 699.2 629.6C698.2 629.6 696.3 629.6 695.6 629.2C694.9 628.9 694.5 628.1 694.4 627.2C694.3 626.3 694.4 623.6 694.6 622.8ZM691.8 614.6C691.9 615.4 692.2 618.5 692.2 619.8C692.1 621.1 691.8 623.0 691.4 624.0C691.1 625.0 690.2 626.5 689.8 626.6C689.3 626.8 688.8 625.7 688.6 625.2C688.3 624.7 688.3 623.6 688.0 623.2C687.7 622.8 686.9 622.4 686.4 622.4C685.9 622.5 685.1 623.0 684.6 623.4C684.1 623.8 683.3 625.0 682.8 625.6C682.3 626.1 681.5 626.6 681.0 627.0C680.5 627.4 679.8 628.3 679.2 628.4C678.6 628.6 677.4 628.4 676.8 628.2C676.2 628.0 675.0 626.8 675.0 627.0C675.0 627.2 676.4 629.0 677.0 629.4C677.7 629.8 679.0 629.7 679.8 629.6C680.6 629.6 682.2 628.7 682.8 628.8C683.4 628.9 683.7 629.3 683.8 630.0C683.8 630.7 683.6 632.5 683.4 633.6C683.2 634.7 682.2 636.9 682.2 637.4C682.2 638.0 683.1 637.7 683.4 637.2C683.7 636.7 684.3 635.1 684.6 634.2C684.9 633.3 685.1 631.3 685.4 630.6C685.8 629.9 686.5 629.6 687.0 629.6C687.5 629.6 688.4 629.9 688.8 630.6C689.2 631.3 689.6 633.1 690.0 634.2C690.4 635.3 691.4 637.3 691.8 638.4C692.2 639.5 692.6 641.1 692.6 642.0C692.7 642.9 692.4 644.4 692.2 645.0C691.9 645.6 691.4 646.4 691.0 646.4C690.6 646.4 689.9 645.0 689.4 645.0C688.9 645.0 688.2 646.0 687.6 646.4C687.0 646.9 685.9 647.9 685.2 648.4C684.5 648.8 683.6 649.4 682.8 649.4C682.0 649.5 680.6 649.0 679.8 648.6C679.0 648.2 677.6 647.0 677.0 646.4C676.5 645.8 676.0 645.0 676.0 644.4C676.0 643.8 676.8 642.7 677.0 642.0C677.2 641.3 677.5 640.0 677.4 639.6C677.3 639.2 676.8 638.9 676.6 639.4C676.4 639.8 676.2 641.7 676.0 642.6C675.7 643.5 674.9 644.7 674.6 645.6C674.4 646.5 674.3 647.8 674.4 648.6C674.5 649.4 675.0 650.5 675.6 651.0C676.2 651.5 677.6 651.7 678.6 652.0C679.6 652.3 681.8 652.7 682.8 653.2C683.8 653.6 685.3 654.3 685.8 654.8C686.3 655.4 686.6 656.5 686.6 657.2C686.6 658.0 686.0 659.6 685.8 660.4C685.6 661.1 685.6 662.3 685.2 662.6C684.8 663.0 683.6 662.9 682.8 663.0C682.0 663.1 680.6 663.3 679.8 663.6C679.0 663.9 678.1 664.9 677.4 665.4C676.7 665.9 675.7 666.7 675.0 666.8C674.3 667.0 673.4 666.7 672.6 666.4C671.8 666.0 670.4 664.9 669.6 664.2C668.8 663.5 667.8 662.5 667.2 661.8C666.6 661.1 665.9 660.1 665.4 659.4C664.9 658.7 664.4 657.2 664.0 657.0C663.5 656.8 662.8 657.7 662.4 658.2C662.0 658.7 661.9 660.3 661.4 660.4C661.0 660.4 659.9 659.0 659.4 658.4C658.9 657.9 658.1 656.9 657.6 656.4C657.1 655.9 655.7 654.4 655.8 654.6C655.9 654.8 657.6 656.7 658.2 657.6C658.8 658.5 660.0 660.4 660.0 661.2C660.0 662.0 658.8 662.5 658.2 663.0C657.6 663.5 656.5 664.3 655.8 664.8C655.1 665.3 654.1 666.2 653.4 666.6C652.7 667.0 651.6 667.4 651.0 667.4C650.4 667.4 650.0 667.1 649.2 666.6C648.4 666.1 645.8 663.6 645.6 663.6C645.4 663.6 647.4 665.9 648.0 666.6C648.6 667.3 650.0 668.0 649.8 668.4C649.6 668.8 647.6 669.0 646.8 669.2C646.0 669.5 644.2 670.1 644.2 670.2C644.2 670.3 645.8 670.2 646.8 670.0C647.8 669.8 649.9 669.2 651.0 668.8C652.1 668.3 653.7 667.5 654.6 666.8C655.5 666.2 656.3 664.9 657.0 664.4C657.7 663.9 658.6 663.5 659.4 663.4C660.2 663.2 661.5 663.3 662.4 663.4C663.3 663.4 664.5 663.5 665.4 664.0C666.3 664.4 667.5 665.8 668.4 666.6C669.3 667.4 671.0 668.7 672.0 669.6C673.0 670.5 674.7 671.7 675.4 672.6C676.0 673.5 676.4 674.8 676.6 676.2C676.7 677.6 676.5 680.7 676.3 682.2C676.2 683.7 675.8 686.1 675.6 687.0C675.4 687.9 675.4 688.7 675.0 688.8C674.6 688.9 673.5 688.1 672.6 687.6C671.7 687.1 669.5 685.9 668.4 685.2C667.3 684.5 665.7 683.5 664.8 682.8C663.9 682.1 662.6 681.2 662.2 680.4C661.7 679.6 661.8 678.3 661.8 677.4C661.8 676.5 662.2 674.7 662.0 673.8C661.9 672.9 661.4 671.7 661.0 671.4C660.5 671.1 659.7 671.5 658.8 672.0C657.9 672.5 655.7 674.2 654.6 675.0C653.5 675.8 651.7 677.0 651.0 677.4C650.3 677.8 649.5 678.1 649.4 678.0C649.4 677.9 649.7 677.3 650.4 676.8C651.1 676.3 652.9 675.1 654.0 674.4C655.1 673.7 657.3 672.1 658.2 671.6C659.1 671.2 660.1 670.9 660.6 671.2C661.1 671.5 661.4 672.7 661.4 673.8C661.5 674.9 661.2 677.4 661.0 678.6C660.8 679.8 660.4 681.4 660.0 682.2C659.6 683.0 658.3 684.2 658.2 684.4C658.1 684.6 659.0 683.9 659.4 683.6C659.8 683.4 660.2 682.5 661.0 682.8C661.7 683.1 663.6 684.8 664.8 685.8C666.0 686.8 668.4 689.0 669.6 690.0C670.8 691.0 672.4 692.2 673.2 693.0C674.0 693.8 674.5 694.7 675.0 695.4C675.5 696.1 676.6 697.1 676.6 697.8C676.6 698.5 675.4 699.6 675.0 700.2C674.6 700.8 673.9 701.3 673.8 702.0C673.7 702.7 674.0 705.1 674.2 705.0C674.3 704.9 674.3 702.1 674.6 701.4C674.9 700.7 675.7 700.4 676.2 700.4C676.7 700.4 677.7 700.6 678.0 701.4C678.3 702.2 678.5 704.7 678.6 706.2C678.7 707.7 678.7 710.7 678.8 712.2C679.0 713.7 679.5 716.0 679.4 717.0C679.4 718.0 679.1 718.8 678.6 719.2C678.1 719.5 676.8 719.8 676.2 719.6C675.6 719.5 674.9 719.2 674.6 718.2C674.4 717.2 674.6 713.3 674.4 712.8C674.2 712.3 673.6 713.7 673.4 714.6C673.2 715.5 673.3 718.6 673.0 719.4C672.7 720.2 672.1 720.4 671.4 720.4C670.7 720.4 669.2 719.9 668.4 719.4C667.6 718.9 666.6 717.9 666.0 717.0C665.4 716.1 664.6 714.0 664.2 712.8C663.8 711.6 663.5 709.7 663.0 708.6C662.5 707.5 661.4 705.9 660.6 705.0C659.8 704.1 658.5 702.7 657.6 702.0C656.7 701.3 655.5 700.4 654.6 700.0C653.7 699.5 652.0 699.2 651.0 699.0C650.0 698.8 648.1 698.6 647.4 698.6C646.7 698.7 646.2 699.3 646.2 699.6C646.2 699.9 646.7 700.6 647.4 700.8C648.1 701.0 650.1 700.7 651.0 700.8C651.9 700.9 653.4 701.1 654.0 701.6C654.6 702.2 655.0 703.6 655.0 704.4C655.0 705.2 654.5 706.7 654.0 707.4C653.5 708.1 652.5 709.1 651.6 709.6C650.7 710.0 649.2 710.5 648.0 710.6C646.8 710.8 644.4 710.7 643.2 710.6C642.0 710.6 639.9 710.0 639.6 710.2C639.3 710.3 640.5 711.3 640.8 712.0C641.1 712.6 641.5 713.9 641.4 714.6C641.3 715.3 640.7 716.4 640.2 717.0C639.7 717.6 638.5 718.4 637.8 718.8C637.1 719.2 635.3 719.9 635.4 720.0C635.5 720.1 637.5 719.1 638.4 719.2C639.3 719.2 640.5 720.4 641.4 720.6C642.3 720.8 644.1 720.5 645.0 720.4C645.9 720.2 647.1 719.8 648.0 719.4C648.9 719.0 650.1 718.2 651.0 717.6C651.9 717.0 653.3 715.9 654.0 715.2C654.7 714.5 655.6 713.6 655.8 712.8C656.0 712.0 655.5 710.1 655.2 709.8C654.9 709.5 654.1 710.2 653.4 710.4C652.7 710.6 651.3 710.8 650.4 711.0C649.5 711.2 647.7 711.3 646.8 711.6C645.9 711.9 644.4 712.4 643.8 712.8C643.2 713.2 642.7 714.0 642.6 714.6C642.5 715.2 642.5 716.5 643.0 717.0C643.4 717.5 644.7 718.1 645.6 718.2C646.5 718.3 648.3 718.2 649.2 718.0C650.1 717.7 651.4 716.5 652.2 716.4C653.0 716.3 654.4 716.6 654.6 717.0C654.8 717.4 654.0 718.9 653.4 719.4C652.8 719.9 651.2 720.2 650.4 720.6C649.6 721.0 648.7 721.9 648.0 722.4C647.3 722.9 646.2 723.6 645.6 724.2C645.0 724.8 643.9 726.1 643.8 726.6C643.7 727.1 644.2 727.9 644.6 727.8C645.1 727.7 646.1 726.6 646.8 726.0C647.5 725.4 648.4 724.1 649.2 723.6C650.0 723.1 651.3 722.7 652.2 722.4C653.1 722.1 654.8 721.3 655.8 721.2C656.8 721.1 658.4 721.5 659.4 721.8C660.4 722.1 661.9 723.2 663.0 723.6C664.1 724.0 666.0 724.6 667.2 724.8C668.4 725.0 670.2 725.0 671.4 725.2C672.6 725.3 674.9 725.6 675.4 726.0C675.8 726.4 675.0 727.4 674.4 727.8C673.8 728.2 672.1 728.6 671.4 729.0C670.7 729.4 670.2 730.4 669.6 730.8C669.0 731.2 667.8 731.6 667.2 732.0C666.6 732.4 666.0 733.4 665.4 733.8C664.8 734.2 663.3 734.8 663.0 735.0M662.9 734.9C662.6 735.4 661.4 737.3 660.7 738.0C660.0 738.7 658.7 739.3 658.0 740.0C657.3 740.7 656.4 741.8 656.0 742.7C655.6 743.5 655.5 745.1 654.9 746.0C654.4 746.9 653.0 748.0 652.0 748.7C651.0 749.3 649.3 749.9 648.0 750.4C646.7 750.9 644.2 751.8 642.7 752.3C641.1 752.8 638.8 753.6 637.3 754.0C635.9 754.4 633.8 755.2 632.7 755.3C631.5 755.5 630.1 754.7 629.3 754.9C628.6 755.1 627.9 756.3 627.3 756.7C626.8 757.0 625.8 757.0 625.3 757.3C624.9 757.7 624.9 759.1 624.4 759.3C623.9 759.5 622.7 759.0 622.0 758.7C621.3 758.3 620.1 757.4 619.3 756.7C618.6 755.9 617.2 753.6 616.7 753.3C616.2 753.1 615.8 754.3 615.7 754.9C615.7 755.6 616.0 757.3 616.3 758.0C616.5 758.7 617.6 759.4 617.6 760.0C617.6 760.6 616.6 761.4 616.0 762.0C615.4 762.6 614.0 763.4 613.3 764.0C612.7 764.6 611.8 765.2 611.3 766.0C610.9 766.8 610.4 768.3 610.0 769.3C609.6 770.4 609.1 772.1 608.7 773.3C608.2 774.6 607.3 776.8 606.7 778.0C606.0 779.2 604.8 781.0 604.0 782.0C603.2 783.0 602.1 784.7 601.3 785.3C600.6 786.0 599.4 786.8 598.7 786.7C597.9 786.6 596.3 784.6 596.0 784.7C595.7 784.8 596.9 786.6 596.7 787.3C596.5 788.1 595.3 789.3 594.7 790.0C594.0 790.7 592.7 791.8 592.0 792.0C591.3 792.2 590.1 791.1 590.0 791.3C589.9 791.5 591.5 792.8 591.3 793.3C591.1 793.9 589.2 795.2 588.7 795.3C588.1 795.4 587.5 793.8 587.3 794.0C587.2 794.2 588.0 796.5 587.7 796.7C587.4 796.9 586.0 795.7 585.3 795.3C584.7 795.0 583.4 794.7 583.3 794.0C583.2 793.3 584.3 791.6 584.7 790.7C585.0 789.7 585.7 788.1 586.0 787.3C586.3 786.6 587.0 785.7 586.7 785.3C586.4 785.0 584.7 784.8 584.0 784.7C583.3 784.6 582.0 784.4 582.0 784.7C582.0 785.0 583.8 785.8 584.0 786.7C584.2 787.5 583.6 789.7 583.3 790.7C583.0 791.6 582.5 793.2 582.0 793.3C581.5 793.4 580.1 791.2 580.0 791.3C579.9 791.4 581.5 793.5 581.3 794.0C581.1 794.5 579.6 794.7 578.7 794.9C577.7 795.2 575.7 795.5 574.7 795.7C573.6 795.9 571.9 796.0 571.3 796.3C570.7 796.5 570.2 797.0 570.4 797.3C570.6 797.7 572.2 798.2 572.7 798.7C573.1 799.1 573.5 799.8 573.3 800.3C573.1 800.7 572.0 801.6 571.3 802.0C570.7 802.4 569.4 802.7 568.7 802.9C567.9 803.1 566.6 803.1 566.0 803.3C565.4 803.6 564.5 804.4 564.7 804.7C564.9 805.0 566.7 804.9 567.3 805.3C568.0 805.8 568.7 807.2 569.1 808.0C569.4 808.8 569.8 809.9 569.6 810.7C569.4 811.4 568.6 812.5 568.0 813.1C567.4 813.6 566.1 814.5 565.3 814.7C564.6 814.8 562.8 813.8 562.7 814.0C562.6 814.2 564.0 815.2 564.7 815.7C565.3 816.3 566.9 817.2 567.3 818.0C567.8 818.8 567.9 820.3 567.7 821.3C567.5 822.4 566.6 824.3 566.0 825.3C565.4 826.4 564.0 827.8 563.3 828.7C562.7 829.5 561.8 830.7 561.3 831.3C560.9 832.0 560.2 832.8 560.0 833.1M560.0 832.9L558.1 833.1L556.8 834.6L554.0 834.8L556.6 835.7L558.6 836.4L558.3 838.5L558.4 840.7L557.8 842.6L558.0 844.7L558.8 846.6L556.7 847.4L557.0 850.1L557.2 852.1L556.5 854.0L555.6 855.9L555.2 858.0L554.1 859.5L553.9 861.3L551.3 861.9L548.5 861.3L551.4 862.6L552.4 864.7L552.1 866.3L552.1 868.0L550.0 869.7L547.3 869.4L545.8 867.3L546.9 865.4L546.2 863.3L544.7 866.2L542.0 865.9L540.9 864.3L539.3 863.3L540.6 861.9L538.0 861.4L536.3 859.4L535.5 856.6L536.6 854.0L534.6 855.2L532.7 857.3L530.6 857.9L533.3 859.3L530.7 859.0L529.2 858.0L527.3 858.1L525.4 859.2L523.3 858.8L522.8 856.6L524.0 855.9L522.0 854.6L520.3 854.2L519.2 852.8L518.7 851.1L517.3 850.0L516.4 848.4L516.0 846.7L516.8 844.0L519.4 842.8L517.7 843.3L516.0 843.2L514.6 841.4L512.7 839.3L511.3 838.2L510.6 836.7L510.0 834.0L511.4 832.0L513.7 830.9L512.3 832.0L510.6 831.9L508.7 830.6L508.1 828.8L506.7 827.3L505.1 825.6L504.5 823.3L504.2 821.5L503.2 819.9L503.3 817.3L505.9 815.9L508.1 816.1L510.0 815.3L508.0 815.9L506.0 815.2L503.9 815.7L502.1 814.6L500.4 812.7L500.7 810.6L500.1 808.7L500.3 806.0L499.5 804.4L499.4 802.7L498.4 801.0L497.8 799.3L496.0 797.3L498.6 795.9L500.4 795.3L501.9 794.2L503.9 794.0L505.8 793.9L504.2 794.1L502.7 794.6L501.2 795.4L500.0 796.7L498.4 797.3L497.3 798.7L495.9 797.8L494.7 796.6L493.4 794.0L492.7 791.3L491.3 788.7L490.7 786.0L491.7 784.5L491.8 782.6L493.2 781.5L493.9 780.0L495.5 778.4L497.4 777.4L494.6 777.9L492.0 776.6L490.1 774.6L489.6 772.0L490.8 770.1M493.3 788.0C493.8 787.5 495.6 785.6 496.7 784.7C497.7 783.7 499.4 782.4 500.7 781.3C501.9 780.3 504.7 777.9 505.3 777.3M502.0 807.3C502.4 807.7 503.8 809.2 504.7 810.0C505.5 810.8 507.0 812.4 508.0 812.7C509.0 813.0 510.7 812.5 511.3 812.0C512.0 811.5 512.5 810.0 512.4 809.3C512.3 808.7 511.3 807.8 510.7 807.3C510.0 806.9 508.3 806.5 508.0 806.0C507.7 805.5 508.8 804.6 508.7 804.0C508.6 803.4 507.7 801.9 507.3 802.0C507.0 802.1 506.5 804.0 506.0 804.7C505.5 805.3 504.2 805.5 504.0 806.7C503.8 807.8 505.1 811.5 504.9 812.7C504.7 813.8 503.0 814.4 502.7 814.7M490.7 770.0C490.7 769.6 490.5 768.4 490.7 767.3C490.9 766.3 491.6 764.0 492.0 762.7C492.4 761.3 493.2 759.0 493.3 758.0C493.5 757.0 492.9 756.3 493.1 755.3C493.3 754.4 494.2 752.2 494.7 751.3C495.2 750.5 496.0 749.6 496.7 749.3C497.3 749.0 498.6 749.0 499.3 749.3C500.1 749.6 501.1 751.1 502.0 751.3C502.9 751.5 504.5 751.0 505.3 750.7C506.2 750.3 507.7 749.0 507.7 748.7C507.7 748.3 505.7 748.6 505.3 748.0C505.0 747.4 505.2 745.5 505.3 744.7C505.4 743.8 505.4 742.3 506.0 742.0C506.6 741.7 508.7 742.5 509.3 742.4C510.0 742.3 510.9 741.8 510.7 741.6C510.5 741.4 508.6 741.1 508.0 740.7C507.4 740.2 506.7 739.7 506.7 738.7C506.6 737.6 507.3 734.4 507.7 733.3C508.2 732.3 509.6 732.0 510.0 731.3C510.4 730.7 510.7 729.2 510.4 728.7C510.1 728.1 508.7 727.5 508.0 727.3C507.3 727.1 506.1 727.3 505.3 727.3C504.6 727.4 503.5 727.9 502.7 727.7C501.8 727.5 500.2 726.6 499.3 726.0C498.5 725.4 497.5 724.1 496.7 723.3C495.8 722.6 494.3 721.3 493.3 720.7C492.4 720.0 490.9 719.1 490.0 718.7C489.1 718.2 487.9 717.8 487.3 717.3C486.8 716.9 486.0 715.9 486.0 715.3C486.0 714.8 486.7 713.7 487.3 713.3C488.0 713.0 489.6 713.0 490.7 713.1C491.7 713.2 493.6 713.6 494.7 714.0C495.7 714.4 497.1 715.2 498.0 715.7C498.9 716.3 499.9 717.4 500.7 718.0C501.4 718.6 502.5 719.5 503.3 720.0C504.2 720.5 505.9 721.2 506.7 721.3C507.4 721.4 508.5 721.0 508.7 720.7C508.9 720.4 508.4 719.7 508.0 719.3C507.6 719.0 506.4 718.6 506.0 718.0C505.6 717.4 505.2 716.1 505.1 715.3C505.0 714.6 505.5 713.1 505.3 712.7C505.2 712.2 504.6 712.0 504.0 712.0C503.4 712.0 501.9 712.8 501.3 712.7C500.8 712.6 499.8 711.7 500.0 711.3C500.2 711.0 501.7 710.6 502.7 710.4C503.6 710.2 506.3 710.3 506.7 710.0C507.0 709.7 506.0 708.4 505.3 708.0C504.7 707.6 503.0 707.5 502.0 707.3C501.0 707.1 499.6 706.9 498.7 706.7C497.8 706.5 496.3 706.4 495.7 706.0C495.2 705.6 494.7 704.6 494.7 704.0C494.6 703.4 495.0 702.2 495.3 701.6C495.7 701.0 496.7 700.3 497.3 700.0C498.0 699.7 499.3 699.7 500.0 699.3C500.7 699.0 502.3 697.7 502.3 697.6C502.3 697.5 500.8 698.3 500.0 698.4C499.2 698.5 497.5 697.9 496.7 698.0C495.8 698.1 494.6 699.3 494.0 699.3C493.4 699.3 492.7 698.6 492.7 698.0C492.7 697.4 494.0 696.1 494.0 695.3C494.0 694.6 493.0 693.6 492.7 692.7C492.3 691.7 491.7 689.8 491.3 688.7C491.0 687.6 490.1 685.2 490.0 685.1C489.9 685.0 490.4 686.9 490.7 688.0C491.0 689.1 491.9 691.6 492.0 692.7C492.1 693.7 491.7 694.7 491.3 695.3C491.0 696.0 490.0 696.6 489.6 697.3C489.2 698.1 489.1 699.9 488.7 700.7C488.2 701.5 487.4 702.6 486.7 702.9C485.9 703.3 484.2 703.5 483.3 703.3C482.5 703.2 481.2 702.6 480.7 702.0C480.1 701.4 479.5 700.3 479.3 699.3C479.1 698.4 479.2 696.4 479.3 695.3C479.4 694.3 479.7 693.0 480.0 692.0C480.3 691.0 480.9 689.6 481.3 688.7C481.8 687.7 483.3 685.6 483.3 685.3C483.3 685.0 481.8 686.3 481.3 686.7C480.8 687.0 480.0 688.0 479.7 688.0C479.4 688.0 479.1 687.1 479.3 686.7C479.6 686.2 480.8 685.2 481.3 684.7C481.9 684.1 482.9 683.4 483.3 682.7C483.8 681.9 484.4 680.4 484.7 679.3C484.9 678.3 485.0 676.3 484.9 675.3C484.8 674.4 484.4 673.1 484.0 672.7C483.6 672.2 482.2 671.7 482.0 672.0C481.8 672.3 482.7 674.1 482.7 674.9C482.6 675.8 482.0 677.3 481.6 678.0C481.2 678.7 480.5 679.8 480.0 680.0C479.5 680.2 478.5 679.7 478.0 679.3C477.5 679.0 476.3 678.2 476.3 677.7C476.3 677.3 477.3 676.6 478.0 676.3C478.7 676.0 481.0 676.2 481.3 675.7C481.6 675.3 480.3 674.1 480.0 673.3C479.7 672.6 479.2 671.3 479.3 670.7C479.5 670.0 480.7 669.3 481.1 668.7C481.4 668.0 481.7 666.7 481.6 666.0C481.5 665.3 481.1 664.4 480.7 664.0C480.2 663.6 479.0 663.4 478.7 662.9C478.3 662.5 478.3 661.2 478.0 660.7C477.7 660.2 476.8 659.8 476.7 659.3C476.6 658.8 477.0 657.6 477.3 657.1C477.6 656.5 478.6 656.0 478.7 655.3C478.7 654.7 477.9 653.4 477.6 652.7C477.3 651.9 476.8 650.4 476.7 650.0M491.3 768.0C491.7 767.5 493.1 765.4 494.0 764.7C494.9 763.9 496.2 763.0 497.3 762.9C498.5 762.8 500.9 763.8 502.0 764.0C503.1 764.2 504.4 763.8 505.3 764.3C506.3 764.7 508.2 766.9 508.7 767.3M493.3 755.7C493.9 755.9 496.2 756.4 497.3 756.7C498.5 756.9 500.3 757.4 501.3 757.3C502.4 757.2 504.1 756.5 504.7 756.0C505.3 755.5 505.7 754.1 505.6 754.0C505.5 753.9 504.5 754.7 504.0 755.3C503.5 756.0 502.8 758.2 502.0 758.7C501.2 759.1 499.6 758.9 498.7 758.7C497.7 758.5 495.8 757.5 495.3 757.3M489.6 706.0C489.7 705.5 490.3 705.0 490.7 704.9C491.0 704.9 492.0 705.2 492.3 705.6C492.5 706.0 492.5 707.5 492.4 708.0C492.3 708.5 491.7 709.2 491.3 709.3C491.0 709.4 490.0 709.1 489.7 708.7C489.5 708.2 489.5 706.5 489.6 706.0ZM484.0 725.3C484.4 724.5 485.2 723.7 486.0 723.3C486.8 723.0 488.4 722.6 489.3 722.7C490.3 722.8 491.7 723.4 492.7 724.0C493.6 724.6 495.0 725.9 496.0 726.7C497.0 727.4 498.6 728.6 499.3 729.3C500.1 730.1 501.1 731.1 501.3 732.0C501.6 732.9 501.4 734.6 501.1 735.3C500.7 736.1 499.6 736.8 498.7 737.3C497.8 737.9 495.7 738.9 494.7 739.3C493.6 739.8 492.2 740.7 491.3 740.7C490.5 740.7 488.8 739.9 488.7 739.3C488.6 738.8 490.6 737.2 490.7 736.7C490.8 736.1 490.0 735.6 489.3 735.3C488.7 735.0 486.8 735.0 486.0 734.7C485.2 734.3 484.1 733.4 483.7 732.7C483.4 731.9 483.3 730.4 483.3 729.3C483.4 728.3 483.6 726.2 484.0 725.3ZM505.1 730.0C505.4 729.5 506.6 729.1 507.3 729.1C508.0 729.1 509.6 729.6 510.0 730.0C510.4 730.4 510.6 731.4 510.4 732.0C510.2 732.6 509.3 733.6 508.7 734.0C508.0 734.4 506.6 734.9 506.0 734.7C505.4 734.5 504.8 733.3 504.7 732.7C504.5 732.0 504.7 730.5 505.1 730.0ZM476.7 650.0C476.6 649.8 476.6 649.0 476.3 648.7C475.9 648.3 474.8 647.3 474.0 647.3C473.2 647.4 470.8 649.2 470.7 649.1C470.6 649.0 473.0 647.6 473.3 646.7C473.7 645.8 472.7 643.5 473.1 642.7C473.4 641.8 475.5 641.2 475.7 640.7C476.0 640.1 475.2 639.2 474.7 638.7C474.2 638.1 472.7 637.4 472.3 636.7C471.8 635.9 471.8 634.2 471.3 633.3C470.9 632.5 470.0 631.3 469.3 630.7C468.7 630.0 467.2 629.4 466.7 628.7C466.1 627.9 465.8 626.2 465.3 625.3C464.9 624.5 463.8 623.3 463.3 622.7C462.9 622.1 461.8 621.6 462.0 621.1C462.2 620.5 464.2 619.6 464.4 618.7C464.6 617.8 463.8 615.4 463.3 614.7C462.9 613.9 462.0 613.8 461.3 613.3C460.7 612.9 459.5 612.0 458.7 611.3C457.8 610.7 456.3 609.4 455.3 608.7C454.4 608.0 453.0 607.1 452.0 606.4C451.0 605.7 449.5 604.6 448.7 604.0C447.8 603.4 446.9 602.5 446.0 602.0C445.1 601.5 443.6 601.0 442.7 600.7C441.7 600.4 440.1 600.1 439.3 600.0C438.6 599.9 438.0 600.4 437.3 600.0C436.7 599.6 435.3 597.4 434.7 597.3C434.0 597.2 433.1 598.8 432.7 599.3C432.2 599.9 431.9 601.2 431.3 601.1C430.8 601.0 429.4 598.7 428.7 598.7C427.9 598.7 426.8 600.5 426.0 601.1C425.2 601.7 424.1 602.8 423.3 602.9C422.6 603.1 421.3 602.4 420.7 602.0C420.0 601.6 419.5 600.4 418.9 600.4C418.4 600.4 417.3 601.9 416.7 602.0C416.1 602.1 415.2 601.2 414.7 601.1C414.1 601.0 412.9 600.9 412.7 601.3C412.5 601.8 413.0 603.2 413.3 604.0C413.7 604.8 415.1 606.3 414.9 606.7C414.7 607.0 413.3 607.0 412.0 606.7C410.7 606.4 407.4 605.5 406.0 604.7C404.6 603.8 403.1 601.8 402.0 600.7C400.9 599.6 398.8 597.9 398.4 597.1C398.0 596.2 398.8 595.4 399.3 594.7C399.8 594.0 401.0 592.9 402.0 592.3C403.0 591.7 406.4 590.8 406.7 590.4C407.0 590.0 405.0 589.8 404.0 589.6C403.0 589.4 401.0 589.4 400.0 589.1C399.0 588.7 397.2 588.0 396.7 587.3C396.1 586.7 395.9 585.5 396.0 584.7C396.1 583.9 397.5 581.9 397.3 581.7C397.1 581.5 395.3 582.7 394.7 583.3C394.0 583.9 393.3 585.9 392.7 586.0C392.1 586.1 391.0 585.0 390.4 584.3C389.8 583.5 388.9 581.6 388.7 580.7C388.5 579.8 388.6 578.7 389.1 578.0C389.5 577.3 390.8 576.4 392.0 576.0C393.2 575.6 396.0 575.3 397.3 575.3C398.6 575.3 400.3 576.3 401.1 576.0C401.8 575.7 402.0 574.0 402.7 573.3C403.4 572.7 404.9 571.7 406.0 571.3C407.1 571.0 409.5 571.0 410.7 571.1C411.9 571.2 413.6 571.6 414.4 572.0C415.2 572.4 415.9 573.9 416.3 573.6C416.6 573.3 416.5 570.9 416.7 570.0C416.9 569.1 417.7 568.2 417.6 567.3C417.5 566.5 416.7 564.9 416.3 564.3C415.8 563.6 415.0 562.7 414.4 562.7C413.8 562.6 412.7 563.4 412.0 564.0C411.3 564.6 410.1 566.2 409.3 566.7C408.6 567.1 407.5 567.5 406.7 567.3C405.8 567.2 404.1 565.5 403.3 565.6C402.6 565.7 402.2 567.5 401.6 568.0C401.0 568.5 400.1 569.2 399.3 569.1C398.5 569.0 396.8 568.0 396.0 567.3C395.2 566.7 394.5 565.4 394.0 564.7C393.5 563.9 392.2 562.8 392.3 562.0C392.4 561.2 394.6 559.4 394.7 559.1C394.7 558.7 393.3 559.2 392.7 559.3C392.0 559.4 390.9 560.0 390.0 559.7C389.1 559.5 387.6 558.3 386.7 557.6C385.7 556.9 384.2 555.8 383.3 554.9C382.5 554.0 381.1 552.5 380.7 551.3C380.2 550.2 380.0 548.1 380.0 546.7C380.0 545.2 380.2 542.6 380.7 541.3C381.1 540.1 382.5 538.9 383.3 538.0C384.2 537.1 385.7 535.7 386.7 535.3C387.7 535.0 389.4 535.7 390.4 535.3C391.4 535.0 392.3 533.3 393.3 532.7C394.3 532.0 396.4 531.0 397.3 530.7C398.3 530.3 399.6 530.1 400.0 530.0M380.7 570.0C381.0 569.6 382.2 568.7 382.9 568.7C383.7 568.6 385.4 569.2 386.0 569.6C386.6 570.0 387.4 570.9 387.3 571.3C387.3 571.8 386.3 572.7 385.6 572.9C384.9 573.1 383.4 572.9 382.7 572.7C382.0 572.4 381.0 571.7 380.7 571.3C380.4 571.0 380.3 570.4 380.7 570.0ZM710.2 782.2C710.6 782.2 711.4 782.4 711.8 782.8C712.2 783.1 712.7 784.1 713.0 784.6C713.3 785.1 713.6 786.4 714.0 786.6C714.4 786.8 715.3 786.2 715.8 786.0C716.3 785.7 717.3 785.2 717.8 785.0C718.3 784.8 719.6 784.3 719.6 784.4C719.6 784.5 718.3 785.3 717.8 785.6C717.3 786.0 716.4 786.6 716.4 787.0C716.5 787.4 717.8 787.8 718.2 788.2C718.6 788.6 718.9 789.3 719.0 789.8C719.1 790.3 718.7 791.3 718.6 791.8C718.5 792.3 718.0 792.8 718.2 793.0C718.4 793.2 719.7 793.2 720.2 793.4C720.7 793.6 721.3 794.2 721.4 794.6C721.5 795.0 720.4 796.2 720.6 796.4C720.8 796.5 722.0 795.4 722.6 795.4C723.2 795.4 724.1 796.2 724.6 796.6C725.1 797.0 725.7 797.4 725.8 798.0C725.9 798.5 725.4 799.5 725.4 800.2C725.4 800.9 725.8 802.0 725.8 802.6C725.8 803.2 725.6 803.6 725.4 804.2C725.2 804.8 724.9 806.0 724.6 806.6C724.3 807.2 723.5 807.9 723.0 808.2C722.5 808.5 721.3 808.4 721.0 808.8C720.7 809.2 720.9 810.4 720.6 811.0C720.3 811.6 719.5 812.5 719.0 813.0C718.5 813.5 717.6 813.9 717.0 814.2C716.4 814.5 715.3 814.5 714.6 814.8C713.9 815.0 712.8 815.8 712.2 816.2C711.6 816.6 710.7 817.3 710.2 817.8C709.7 818.3 709.2 819.1 708.6 819.4C708.0 819.7 707.0 820.0 706.2 820.2C705.4 820.4 703.7 820.8 703.0 821.0C702.3 821.2 701.4 821.4 701.0 821.8C700.6 822.2 700.8 823.3 700.4 823.8C700.1 824.3 699.2 824.7 698.6 825.0C698.0 825.3 696.9 825.7 696.2 825.8C695.5 825.9 694.3 825.8 693.4 825.6C692.5 825.5 691.1 824.9 690.2 824.6C689.3 824.3 688.0 824.1 687.4 823.8C686.8 823.5 686.1 822.7 685.8 822.2C685.5 821.7 685.6 820.8 685.4 820.6C685.2 820.4 684.7 821.1 684.2 821.0C683.7 820.9 682.6 820.1 682.2 819.8C681.8 819.5 681.7 818.8 681.4 818.8C681.1 818.8 680.5 819.6 679.8 819.8C679.1 820.0 677.6 820.1 676.6 820.2C675.6 820.3 673.3 820.6 672.6 820.4C671.9 820.1 672.0 819.1 672.0 818.6C671.9 818.1 671.9 817.1 672.2 817.0C672.5 816.9 673.3 817.6 673.8 817.6C674.3 817.6 675.3 817.4 675.8 817.0C676.3 816.6 677.0 815.5 677.2 815.0C677.5 814.5 677.5 813.7 677.8 813.4C678.1 813.1 679.5 812.9 679.4 812.8C679.3 812.8 677.8 813.1 677.4 813.0C677.0 812.9 676.4 812.1 676.4 811.8C676.4 811.5 677.1 810.9 677.4 810.6C677.7 810.3 678.7 809.4 678.6 809.4C678.5 809.4 677.1 810.5 676.6 810.6C676.1 810.7 675.3 810.2 675.0 809.8C674.7 809.4 674.6 808.2 674.2 807.8C673.8 807.4 672.9 807.2 672.2 807.0C671.5 806.8 670.1 806.8 669.4 806.6C668.7 806.4 667.5 805.6 667.0 805.8C666.5 806.0 666.1 808.0 665.8 808.2C665.5 808.4 664.7 807.3 664.6 807.0C664.5 806.7 664.5 806.1 665.0 805.8C665.5 805.5 666.9 805.2 667.8 805.0C668.7 804.8 670.1 804.4 671.0 804.2C671.9 804.0 673.2 803.5 674.2 803.4C675.2 803.3 677.3 803.4 677.8 803.2C678.3 803.0 677.7 802.1 677.4 802.0C677.1 801.8 675.9 802.3 675.4 802.2C674.9 802.1 673.9 801.7 673.8 801.4C673.7 801.1 674.5 800.5 675.0 800.2C675.5 799.9 676.8 799.4 677.0 799.0C677.2 798.6 677.0 797.7 676.6 797.4C676.2 797.1 674.9 796.7 674.2 796.6C673.5 796.5 672.1 796.3 671.4 796.4C670.7 796.4 669.6 796.8 669.0 797.0C668.4 797.2 667.6 797.8 667.0 798.0C666.4 798.2 665.6 798.5 665.0 798.4C664.4 798.4 663.5 797.8 663.0 797.6C662.5 797.4 661.8 797.3 661.8 797.0C661.8 796.7 662.6 796.1 663.0 795.8C663.4 795.5 664.4 795.3 664.6 795.0C664.8 794.7 664.0 794.0 664.2 793.8C664.4 793.6 665.2 793.4 665.8 793.4C666.4 793.4 668.1 793.9 668.2 793.8C668.3 793.7 666.9 793.1 666.6 792.6C666.3 792.1 665.7 791.1 665.8 790.6C665.9 790.1 666.7 789.5 667.0 789.0C667.3 788.5 667.9 787.5 668.2 787.4C668.5 787.3 669.0 787.8 669.4 788.2C669.8 788.6 670.4 789.8 671.0 790.2C671.6 790.6 673.0 791.3 673.4 791.2C673.8 791.2 674.0 790.2 673.8 789.8C673.6 789.4 672.7 789.0 672.2 788.6C671.7 788.2 670.9 787.5 670.6 787.0C670.3 786.5 669.7 785.5 669.8 785.0C669.9 784.5 670.5 783.8 671.0 783.6C671.5 783.3 672.5 783.3 673.0 783.4C673.5 783.5 674.1 784.1 674.6 784.6C675.1 785.1 676.0 786.1 676.6 786.6C677.2 787.1 678.1 787.7 678.6 788.2C679.1 788.7 679.9 789.6 680.2 790.2C680.5 790.8 680.8 792.0 680.8 792.6C680.8 793.2 680.5 794.1 680.2 794.4C679.9 794.7 678.7 794.5 678.6 794.8C678.5 795.0 679.5 795.7 679.8 796.2C680.1 796.7 680.5 798.0 680.8 798.6C681.0 799.2 681.2 800.4 681.4 800.2C681.6 800.0 682.0 798.0 682.2 797.4C682.4 796.8 682.7 796.1 683.0 795.8C683.3 795.5 684.2 795.3 684.6 795.4C685.0 795.5 685.6 796.4 685.8 796.2C686.0 796.0 686.0 794.5 686.0 793.8C686.0 793.1 685.7 791.7 685.8 791.0C685.9 790.3 686.3 789.3 686.6 789.0C686.9 788.7 687.5 788.7 687.8 789.0C688.1 789.3 688.7 790.4 689.0 791.0C689.3 791.6 689.5 792.7 689.8 793.0C690.1 793.3 691.1 793.7 691.4 793.4C691.7 793.1 691.7 791.2 691.8 790.6C691.9 790.0 691.9 789.4 692.2 789.0C692.5 788.6 693.7 787.9 694.2 787.8C694.7 787.7 695.4 787.9 695.8 788.2C696.2 788.5 696.7 789.5 697.0 790.2C697.3 790.9 697.6 792.8 697.8 793.0C698.0 793.2 698.5 792.0 698.6 791.4C698.7 790.8 698.1 789.5 698.2 789.0C698.3 788.5 699.0 788.1 699.4 788.0C699.8 788.0 700.5 788.2 701.0 788.6C701.5 789.0 702.2 790.5 702.6 790.6C703.0 790.7 703.4 789.5 703.8 789.0C704.2 788.5 704.9 787.5 705.4 787.4C705.9 787.3 706.6 788.3 707.0 788.4C707.4 788.4 708.2 788.1 708.4 787.8C708.7 787.5 709.0 787.0 709.0 786.4C709.0 785.9 708.4 784.7 708.4 784.2C708.4 783.7 708.7 783.0 709.0 782.8C709.3 782.5 709.8 782.2 710.2 782.2ZM900.8 491.1C900.4 490.9 900.1 491.2 899.7 492.2C899.3 493.2 898.6 496.2 898.3 497.8C898.0 499.4 897.6 501.8 897.6 503.4C897.6 505.0 898.1 507.2 898.3 509.0C898.5 510.8 899.0 514.2 899.3 516.0C899.6 517.8 900.2 520.2 900.4 521.6C900.6 523.0 901.0 525.5 900.8 525.5C900.6 525.5 899.6 523.2 899.0 521.6C898.4 520.0 897.5 516.6 896.9 514.6C896.3 512.6 895.6 509.4 895.1 507.6C894.6 505.8 893.9 503.1 893.4 502.0C892.9 500.9 892.2 499.8 891.7 499.6C891.2 499.4 890.4 499.9 889.9 500.6C889.4 501.3 888.8 503.5 888.5 504.8C888.2 506.1 887.7 508.3 887.5 509.7C887.3 511.1 887.5 514.0 887.1 514.3C886.7 514.6 885.5 512.7 885.0 511.8C884.5 510.9 883.9 509.0 883.3 508.3C882.8 507.6 881.7 507.1 881.1 506.9C880.5 506.7 879.2 507.0 879.1 506.6C879.1 506.2 880.1 504.8 880.8 504.1C881.5 503.4 883.5 502.6 884.3 502.0C885.1 501.4 886.3 500.5 886.7 499.9C887.0 499.3 887.0 498.1 886.7 497.8C886.3 497.5 885.0 497.4 884.3 497.5C883.6 497.6 882.2 498.3 881.5 498.5C880.8 498.7 879.7 498.8 879.1 499.2C878.5 499.6 877.8 501.3 877.3 501.3C876.8 501.3 876.5 499.5 875.9 499.2C875.3 498.9 873.8 498.6 873.1 498.9C872.4 499.2 871.3 501.2 870.7 501.3C870.1 501.4 869.4 499.9 868.9 499.9C868.4 499.9 867.6 500.4 867.5 501.3C867.4 502.2 867.7 504.7 867.9 506.2C868.1 507.7 868.6 510.3 868.9 511.8C869.2 513.3 869.9 515.4 870.3 516.7C870.7 518.0 871.3 520.5 871.7 520.9C872.1 521.3 873.0 520.1 873.1 519.5C873.2 518.9 872.5 517.2 872.7 516.7C872.9 516.2 874.0 515.7 874.5 515.7C875.0 515.7 875.8 516.1 875.9 516.7C876.0 517.3 875.5 519.1 875.5 520.2C875.5 521.3 875.6 523.6 875.9 524.4C876.2 525.2 877.5 525.3 877.7 525.8C877.9 526.3 877.8 527.4 877.3 527.6C876.8 527.8 875.2 527.4 874.5 527.2C873.8 527.0 872.6 525.9 872.4 526.1C872.2 526.3 872.8 527.8 873.1 528.6C873.4 529.4 874.2 530.5 874.5 531.4C874.8 532.3 874.6 533.9 874.9 534.9C875.2 535.9 876.1 537.3 876.6 538.4C877.1 539.5 878.1 541.5 878.7 542.6C879.3 543.7 880.2 545.4 880.8 546.1C881.4 546.8 882.1 547.4 882.9 547.5C883.7 547.6 885.3 547.4 886.1 547.1C887.0 546.8 888.3 546.1 888.9 545.4C889.6 544.7 890.4 543.0 890.6 541.9C890.8 540.8 890.2 538.8 890.3 537.7C890.5 536.6 891.2 534.8 891.7 534.2C892.3 533.6 893.6 533.9 894.1 533.5C894.6 533.1 894.9 531.2 895.1 531.4C895.3 531.6 895.5 533.9 895.5 534.9C895.5 535.9 894.7 537.5 894.8 538.4C894.9 539.3 895.6 540.9 896.2 541.2C896.8 541.5 898.3 541.0 899.0 540.5C899.7 540.0 900.5 538.4 901.1 537.7C901.7 537.0 902.9 535.5 903.2 535.6C903.5 535.7 903.2 537.6 902.9 538.4C902.7 539.2 901.5 540.6 901.5 541.2C901.5 541.8 902.3 542.4 902.9 542.6C903.5 542.8 905.6 542.7 905.7 542.9C905.9 543.1 904.7 543.7 903.9 544.0C903.1 544.3 901.4 544.4 900.4 544.7C899.4 545.0 897.9 545.6 896.9 546.1C895.9 546.6 894.4 547.5 893.4 548.2C892.4 548.9 890.9 550.1 889.9 550.7C888.9 551.3 887.3 551.8 886.7 552.4C886.0 553.0 885.4 554.3 885.3 555.2C885.2 556.1 885.7 557.9 886.1 558.7C886.6 559.5 887.7 560.3 888.5 560.5C889.3 560.7 890.9 560.4 892.0 560.1C893.1 559.8 895.0 559.1 896.2 558.7C897.4 558.3 899.2 557.8 900.4 557.6C901.6 557.3 904.0 556.6 904.6 556.9C905.2 557.2 905.2 559.2 904.6 559.7C904.0 560.2 901.6 560.2 900.4 560.5C899.2 560.8 897.4 561.4 896.2 561.9C895.0 562.4 892.7 563.2 892.0 563.9C891.3 564.5 891.7 566.1 891.3 566.4C890.9 566.7 889.7 565.5 889.2 565.7C888.7 565.9 887.7 566.9 887.5 567.8C887.3 568.7 887.6 570.9 887.8 572.0C888.0 573.1 888.6 574.6 889.2 575.5C889.8 576.4 891.2 577.4 892.0 578.3C892.8 579.2 894.0 580.6 894.8 581.8C895.6 583.0 896.8 585.5 897.6 586.7C898.4 587.9 899.7 589.5 900.4 590.2C901.1 590.9 901.9 591.8 902.5 591.9C903.1 592.0 904.5 591.5 904.9 590.9C905.3 590.3 905.1 588.5 905.3 587.4C905.5 586.3 905.7 584.4 906.0 583.2C906.3 582.0 906.8 580.4 907.1 579.0C907.4 577.6 907.8 574.9 908.1 573.4C908.4 571.9 909.0 569.4 909.5 568.5C910.0 567.6 911.2 568.0 911.6 567.1C912.0 566.2 912.1 563.6 912.3 562.2C912.5 560.8 912.5 558.6 912.7 557.3C912.9 556.0 913.3 553.8 913.7 553.1C914.1 552.4 915.5 553.2 915.8 552.4C916.1 551.6 915.9 548.9 916.1 547.5C916.3 546.1 916.7 543.8 917.2 542.6C917.7 541.4 918.7 540.0 919.3 539.1C919.9 538.2 920.5 536.8 921.4 536.3C922.3 535.8 924.4 535.7 925.6 535.3C926.8 534.9 929.0 534.1 929.8 533.5C930.6 532.9 931.0 532.1 930.9 531.4C930.8 530.7 929.7 529.4 929.1 528.6C928.5 527.8 927.2 526.6 926.7 525.8C926.2 525.0 925.9 523.8 925.6 523.0C925.3 522.2 925.3 520.9 924.9 520.5C924.5 520.1 923.4 520.2 922.8 520.2C922.2 520.2 921.4 520.7 920.7 520.5C920.0 520.3 918.6 519.4 917.9 518.8C917.2 518.2 916.0 516.9 915.5 516.0C915.1 515.1 914.9 513.6 914.7 512.5C914.5 511.4 914.5 509.3 914.1 508.3C913.8 507.3 912.8 505.6 912.3 505.5C911.8 505.4 911.4 506.6 910.9 507.6C910.4 508.6 909.1 512.3 908.8 512.5C908.5 512.7 908.4 510.1 908.5 509.0C908.6 507.9 909.2 506.0 909.5 504.8C909.8 503.6 910.5 501.7 910.5 500.6C910.5 499.5 909.9 497.9 909.5 497.1C909.1 496.3 908.1 495.2 907.4 494.7C906.7 494.2 905.3 493.8 904.6 493.6C903.9 493.4 903.0 493.7 902.5 493.3C902.0 493.0 901.2 491.2 900.8 491.1ZM921.4 476.5C921.8 476.4 922.2 477.4 922.8 478.2C923.4 479.0 924.9 481.4 925.6 482.4C926.3 483.4 926.9 484.5 927.7 484.9C928.5 485.3 930.4 484.8 931.2 485.2C932.0 485.6 932.7 487.2 933.3 488.0C933.9 488.8 934.9 491.0 935.4 490.8C935.9 490.6 936.5 488.0 936.8 486.6C937.1 485.2 937.2 482.3 937.5 481.0C937.8 479.7 938.4 478.1 938.9 477.5C939.4 476.9 940.5 476.3 941.0 476.8C941.5 477.3 942.2 479.7 942.4 481.0C942.6 482.3 941.9 485.5 942.1 485.9C942.3 486.3 943.3 484.4 943.8 483.8C944.3 483.2 945.3 482.1 945.9 481.7C946.5 481.3 947.3 480.6 948.0 480.7C948.7 480.8 949.9 481.9 950.8 482.4C951.7 482.9 953.3 484.0 954.3 484.5C955.3 485.0 956.7 485.6 957.8 485.9C958.9 486.2 961.1 486.4 962.0 486.9C962.9 487.4 963.7 488.4 964.1 489.4C964.5 490.4 965.1 492.4 965.1 493.6C965.1 494.8 964.5 496.7 964.1 497.8C963.7 498.9 962.7 500.3 962.0 501.3C961.3 502.3 959.9 503.8 959.2 504.8C958.5 505.8 957.6 507.3 957.1 508.3C956.6 509.3 956.2 511.3 955.7 512.1C955.2 512.9 954.4 513.6 953.6 513.9C952.8 514.2 951.0 513.5 950.1 513.9C949.2 514.3 948.0 516.0 947.3 516.7C946.6 517.4 946.0 518.3 945.2 518.5C944.4 518.7 942.5 518.4 941.7 518.1C940.9 517.8 940.0 517.4 939.6 516.7C939.2 516.0 939.6 513.7 938.9 513.2C938.2 512.7 935.9 513.0 934.7 512.9C933.5 512.8 931.7 512.8 930.5 512.5C929.3 512.2 927.4 511.2 926.3 510.7C925.2 510.2 923.6 509.5 922.8 509.0C922.0 508.5 920.8 507.5 920.7 506.9C920.6 506.3 921.4 505.2 922.1 504.8C922.8 504.4 924.9 504.6 925.6 504.1C926.3 503.6 926.9 501.8 926.7 501.3C926.5 500.8 925.1 500.3 924.2 500.3C923.3 500.3 921.7 501.2 920.7 501.3C919.7 501.4 918.1 501.3 917.2 501.0C916.3 500.7 914.8 499.8 914.1 499.2C913.5 498.6 912.8 497.4 912.7 496.7C912.7 496.0 913.3 494.8 913.7 494.3C914.1 493.8 915.7 493.3 915.8 492.9C915.9 492.5 915.3 491.9 914.7 491.5C914.1 491.1 912.2 490.6 911.6 490.1C911.0 489.6 910.3 488.2 910.5 487.7C910.6 487.2 912.0 486.5 912.7 486.6C913.4 486.7 914.8 488.7 915.5 488.7C916.2 488.7 917.3 487.4 917.5 486.6C917.7 485.8 916.8 483.8 916.9 483.1C917.1 482.4 918.3 481.5 918.6 481.7C918.9 481.9 919.3 483.6 919.3 484.5C919.3 485.4 918.4 487.2 918.6 487.7C918.8 488.2 920.4 488.7 920.7 488.0C921.0 487.3 920.8 484.4 920.7 483.1C920.6 481.8 919.9 479.8 920.0 478.9C920.1 478.0 921.0 476.6 921.4 476.5ZM912.3 481.0C912.6 480.8 913.4 480.5 913.7 480.6C914.0 480.7 914.6 481.3 914.7 481.7C914.7 482.1 914.4 483.1 914.1 483.4C913.8 483.6 912.9 483.6 912.6 483.4C912.3 483.2 911.9 482.5 911.9 482.1C911.8 481.8 912.0 481.2 912.3 481.0ZM867.1 528.2C867.3 527.5 868.4 527.4 868.9 527.6C869.4 527.9 870.0 529.1 870.3 530.0C870.6 530.9 870.7 533.0 871.0 534.2C871.3 535.4 871.9 537.2 872.4 538.4C872.9 539.6 873.9 541.5 874.5 542.6C875.1 543.7 876.1 545.3 876.3 546.1C876.5 546.9 876.3 548.2 875.9 548.2C875.5 548.2 874.5 547.1 873.8 546.1C873.1 545.1 871.7 542.6 871.0 541.2C870.3 539.8 869.4 537.6 868.9 536.3C868.4 535.0 867.8 533.3 867.5 532.1C867.2 530.9 866.9 528.8 867.1 528.2ZM924.2 539.8C924.6 539.0 927.0 538.8 928.4 538.4C929.8 538.0 933.1 536.6 934.0 537.0C934.9 537.4 934.5 539.9 934.7 541.2C934.9 542.5 935.0 545.1 935.4 546.1C935.8 547.1 936.7 548.0 937.5 548.2C938.3 548.4 940.3 547.2 941.0 547.5C941.7 547.8 942.3 549.4 942.4 550.3C942.5 551.2 941.4 552.9 941.7 553.8C942.0 554.7 943.6 556.1 944.5 556.6C945.4 557.1 947.1 556.8 948.0 557.3C948.9 557.8 950.8 559.3 950.8 560.1C950.8 560.9 948.7 562.1 948.0 562.9C947.3 563.7 946.5 564.7 945.9 565.7C945.3 566.7 944.5 569.0 943.8 569.9C943.1 570.8 941.8 571.3 941.0 572.0C940.2 572.7 938.8 574.5 938.2 574.5C937.6 574.5 936.6 572.9 936.5 572.0C936.5 571.1 937.8 569.3 937.9 568.5C938.0 567.7 937.6 566.7 937.1 566.7C936.5 566.6 934.9 567.7 934.0 568.1C933.1 568.4 931.4 569.1 930.5 569.2C929.6 569.3 928.0 569.1 927.7 568.5C927.4 567.9 928.0 566.1 928.4 565.0C928.8 563.9 930.0 562.0 930.5 560.8C931.0 559.6 932.0 557.8 931.9 556.6C931.8 555.4 930.4 553.6 929.8 552.4C929.2 551.2 928.3 549.4 927.7 548.2C927.1 547.0 926.4 545.2 925.9 544.0C925.4 542.8 923.8 540.6 924.2 539.8ZM960.3 530.7C960.5 530.5 961.2 530.6 961.6 531.0C962.0 531.4 963.0 532.9 963.1 533.5C963.3 534.1 963.0 535.1 962.7 535.3C962.4 535.5 961.7 535.3 961.3 534.9C960.9 534.5 960.2 533.1 960.0 532.5C959.9 531.9 960.1 530.9 960.3 530.7ZM968.7 529.7C968.6 529.5 970.0 527.8 970.7 527.2C971.3 526.6 972.4 525.6 973.2 525.5C974.0 525.5 975.1 526.6 976.0 526.9C976.9 527.3 979.2 527.6 979.5 527.9C979.8 528.2 978.8 529.2 978.1 529.3C977.4 529.4 975.5 529.0 974.6 528.9C973.7 528.8 972.4 528.5 971.5 528.6C970.7 528.7 968.8 529.9 968.7 529.7ZM989.3 489.1C989.7 488.7 991.7 487.8 992.8 487.3C993.9 486.8 995.8 486.1 997.0 485.6C998.2 485.2 1000.4 484.2 1001.2 484.2C1002.0 484.2 1002.7 485.0 1002.3 485.5C1001.9 485.9 999.6 486.8 998.4 487.3C997.2 487.8 995.4 488.3 994.2 488.7C993.0 489.1 991.0 490.0 990.3 490.1C989.6 490.2 988.9 489.5 989.3 489.1ZM923.5 744.0C923.6 744.4 923.9 745.8 924.0 746.5C924.1 747.2 924.5 748.2 924.5 749.0C924.5 749.8 924.2 751.2 924.0 752.0C923.8 752.8 923.6 754.3 923.0 754.5C922.4 754.7 920.4 753.8 919.5 753.5C918.6 753.2 917.7 752.7 917.0 752.5C916.3 752.3 915.1 751.9 914.5 751.8C913.9 751.7 912.9 751.3 912.5 751.5C912.1 751.7 911.9 752.4 911.8 753.0C911.7 753.6 912.1 755.1 912.0 756.0C911.9 756.9 911.3 758.3 911.0 759.0C910.7 759.7 910.4 760.6 910.0 760.7C909.6 760.8 908.9 759.8 908.5 759.5C908.1 759.2 907.5 758.4 907.0 758.5C906.5 758.6 905.5 759.6 905.0 760.0C904.5 760.4 903.9 760.9 903.5 761.5C903.1 762.1 902.7 763.3 902.5 764.0C902.3 764.7 902.2 765.9 901.8 766.5C901.4 767.1 900.3 767.6 900.0 768.0C899.7 768.4 899.7 769.0 899.8 769.5C899.9 770.0 900.8 770.9 901.0 771.5C901.2 772.1 901.6 773.3 901.5 774.0C901.4 774.7 900.4 775.8 900.0 776.5C899.6 777.2 899.0 778.3 898.5 779.0C898.0 779.7 897.2 780.9 896.8 781.5C896.4 782.1 895.6 782.9 895.5 783.5C895.4 784.1 896.3 785.0 896.2 785.5C896.1 786.0 895.5 786.6 895.0 787.0C894.5 787.4 893.6 787.8 893.0 788.0C892.4 788.2 891.4 788.2 891.0 788.5C890.6 788.8 890.5 789.4 890.5 790.0C890.5 790.6 891.0 792.1 891.0 793.0C891.0 793.9 890.6 795.5 890.5 796.5C890.4 797.5 890.1 799.5 890.0 800.0M923.5 744.0C923.9 744.0 925.4 743.8 926.0 743.7C926.6 743.6 927.6 743.5 928.0 743.0C928.4 742.5 928.2 741.0 928.5 740.5C928.8 740.0 929.5 739.6 930.0 739.5C930.5 739.4 931.5 739.6 932.0 740.0C932.5 740.4 933.1 741.7 933.5 742.5C933.9 743.3 934.6 744.6 935.0 745.5C935.4 746.4 935.9 747.9 936.5 748.5C937.1 749.1 938.3 749.3 939.0 749.5C939.7 749.7 940.9 749.9 941.5 749.8C942.1 749.7 943.0 748.9 943.5 748.5C944.0 748.1 944.5 747.3 945.0 747.2C945.5 747.1 946.4 747.7 947.0 748.0C947.6 748.3 948.4 749.1 949.0 749.5C949.6 749.9 950.7 751.0 951.2 751.0C951.7 751.0 952.2 750.1 952.5 749.5C952.8 748.9 952.6 747.5 953.0 747.0C953.4 746.5 954.5 746.5 955.0 746.0C955.5 745.5 956.1 744.4 956.2 743.5C956.3 742.6 955.9 741.0 956.0 740.0C956.1 739.0 956.6 737.4 956.8 736.5C957.0 735.6 957.2 734.2 957.5 733.5C957.8 732.8 958.5 732.1 959.0 731.5C959.5 730.9 960.1 729.9 960.8 729.5C961.5 729.1 963.3 729.3 964.0 729.0C964.7 728.7 965.5 727.9 966.0 727.5C966.5 727.1 967.0 726.5 967.5 726.5C968.0 726.5 969.0 727.1 969.5 727.5C970.0 727.9 970.4 729.0 971.0 729.5C971.6 730.0 972.9 730.6 973.5 731.0C974.1 731.4 975.0 732.0 975.5 732.5C976.0 733.0 976.6 733.9 976.8 734.5C977.0 735.1 977.2 736.3 977.0 737.0C976.8 737.7 975.9 738.8 975.5 739.5C975.1 740.2 974.5 741.4 974.5 742.0C974.5 742.6 975.6 743.1 975.5 743.5C975.4 743.9 974.5 744.6 974.0 745.0C973.5 745.4 972.1 745.7 972.0 746.0C971.9 746.3 973.4 746.5 973.5 747.0C973.6 747.5 973.2 748.8 973.0 749.5C972.8 750.2 972.1 751.2 972.0 752.0C971.9 752.8 971.9 754.3 972.0 755.0C972.1 755.7 972.6 756.5 973.0 757.0C973.4 757.5 974.4 758.1 975.0 758.5C975.6 758.9 976.5 759.0 977.0 759.5C977.5 760.0 978.1 761.3 978.5 762.0C978.9 762.7 979.6 763.9 980.0 764.5C980.4 765.1 981.0 765.4 981.0 766.0C981.0 766.6 980.4 768.1 980.0 769.0C979.6 769.9 978.6 771.1 978.0 772.0C977.4 772.9 976.4 774.3 976.0 775.0C975.6 775.7 975.0 776.3 975.0 777.0C975.0 777.7 975.6 779.1 976.0 780.0C976.4 780.9 977.1 782.1 977.5 783.0C977.9 783.9 978.6 785.1 979.0 786.0C979.4 786.9 980.1 788.1 980.5 789.0C980.9 789.9 981.4 791.1 981.5 792.0C981.6 792.9 981.2 794.3 981.0 795.0C980.8 795.7 980.2 796.3 980.0 797.0C979.8 797.7 979.6 799.6 979.5 800.0M975.5 739.5C975.7 739.4 976.3 739.2 976.8 739.0C977.3 738.8 978.4 738.3 979.0 738.0C979.6 737.7 980.6 737.4 981.0 737.0C981.4 736.6 981.6 735.4 982.0 735.0C982.4 734.6 983.1 733.9 983.5 734.0C983.9 734.1 984.6 735.4 985.0 735.5C985.4 735.6 986.3 735.0 986.5 734.5C986.7 734.0 986.9 732.5 986.5 732.0C986.1 731.5 984.6 731.0 984.0 731.0C983.4 731.0 982.6 731.9 982.0 731.8C981.4 731.7 980.4 730.3 980.0 730.0C979.6 729.7 979.1 729.6 979.0 729.5M924.5 744.0C924.9 744.1 926.4 744.6 927.0 745.0C927.6 745.4 928.0 746.4 928.5 747.0C929.0 747.6 929.9 748.9 930.5 749.5C931.1 750.1 931.9 750.8 932.5 751.2C933.1 751.6 934.2 752.1 935.0 752.5C935.8 752.9 937.3 753.5 938.0 754.0C938.7 754.5 939.5 755.4 940.0 756.0C940.5 756.6 941.0 757.8 941.5 758.5C942.0 759.2 943.3 760.2 943.5 761.0C943.7 761.8 942.9 763.1 942.8 764.0C942.7 764.9 942.8 766.1 943.0 767.0C943.2 767.9 943.9 769.1 944.0 770.0C944.1 770.9 943.4 772.2 943.5 773.0C943.6 773.8 944.2 774.8 944.5 775.5C944.8 776.2 945.5 777.2 945.5 778.0C945.5 778.8 945.0 780.2 944.8 781.0C944.6 781.8 944.0 782.8 943.8 783.5C943.6 784.2 943.4 785.4 943.5 786.0C943.6 786.6 944.2 787.4 944.5 788.0C944.8 788.6 945.5 789.8 945.8 790.5C946.1 791.2 946.4 792.6 946.5 793.0M930.5 800.0C930.8 799.8 931.9 799.0 932.5 798.5C933.1 798.0 934.1 797.1 934.5 796.5C934.9 795.9 935.2 794.6 935.5 794.0C935.8 793.4 936.1 792.4 936.5 792.2C936.9 792.0 937.6 792.3 938.0 792.5C938.4 792.7 938.6 793.3 939.0 793.5C939.4 793.7 940.3 794.0 941.0 794.0C941.7 794.0 943.2 793.6 944.0 793.5C944.8 793.4 945.8 793.1 946.5 793.0C947.2 792.9 948.5 792.3 949.0 792.5C949.5 792.7 949.6 794.1 950.0 794.5C950.4 794.9 951.5 795.1 952.0 795.5C952.5 795.9 953.3 796.9 953.5 797.5C953.7 798.1 953.5 799.6 953.5 800.0M876.0 800.0C876.2 799.4 877.1 797.1 877.5 796.0C877.9 794.9 878.6 793.4 879.0 792.5C879.4 791.6 880.1 790.1 880.5 789.5C880.9 788.9 881.4 788.4 882.0 788.0C882.6 787.6 883.7 787.3 884.5 787.0C885.3 786.7 887.4 785.9 887.5 785.8C887.6 785.7 885.7 786.4 885.0 786.5C884.3 786.6 883.0 786.8 882.5 786.5C882.0 786.2 881.6 785.1 881.5 784.5C881.4 783.9 881.7 782.6 882.0 782.0C882.3 781.4 882.9 780.5 883.5 780.0C884.1 779.5 885.8 778.9 886.0 778.5C886.2 778.1 884.9 777.9 885.0 777.5C885.1 777.1 886.0 776.0 886.5 775.5C887.0 775.0 887.9 774.4 888.5 774.0C889.1 773.6 890.1 773.2 891.0 773.0C891.9 772.8 894.3 772.7 894.5 772.5C894.7 772.3 893.1 771.7 892.5 771.5C891.9 771.3 890.6 771.4 890.5 771.0C890.4 770.6 891.1 769.5 891.5 769.0C891.9 768.5 892.8 767.5 893.5 767.5C894.2 767.5 895.7 769.1 896.2 769.0C896.7 768.9 897.2 767.4 897.0 767.0C896.8 766.6 895.5 766.3 895.0 766.0C894.5 765.7 893.9 765.3 893.5 765.0C893.1 764.7 892.7 764.4 892.5 764.0C892.3 763.6 892.0 763.0 892.2 762.5C892.4 762.0 893.4 761.0 894.0 760.5C894.6 760.0 895.5 759.2 896.2 758.8C896.9 758.4 898.4 757.3 899.0 757.5C899.6 757.7 900.2 759.4 900.5 760.0C900.8 760.6 901.1 762.0 901.0 762.0C900.9 762.0 899.8 760.6 899.5 760.0C899.2 759.4 898.9 758.1 899.0 757.5C899.1 756.9 899.9 756.5 900.5 756.0C901.1 755.5 902.2 754.3 903.0 754.0C903.8 753.7 905.3 754.1 906.0 754.0C906.7 753.9 908.3 753.1 908.0 753.0C907.7 752.9 904.9 753.6 904.0 753.5C903.1 753.4 902.1 752.9 902.0 752.5C901.9 752.1 903.0 751.4 903.5 751.0C904.0 750.6 905.0 750.0 905.5 749.5C906.0 749.0 906.6 748.1 907.0 747.5C907.4 746.9 907.8 745.6 908.0 745.0C908.2 744.4 908.2 743.4 908.5 743.0C908.8 742.6 909.6 742.4 910.0 742.0C910.4 741.6 911.0 740.9 911.5 740.5C912.0 740.1 912.9 739.7 913.5 739.5C914.1 739.3 915.4 739.3 915.5 739.0C915.6 738.7 914.0 737.9 914.0 737.5C914.0 737.1 915.0 736.4 915.5 736.0C916.0 735.6 917.1 735.0 917.5 734.5C917.9 734.0 917.7 732.9 918.0 732.5C918.3 732.1 919.1 731.7 919.5 732.0C919.9 732.3 920.6 733.8 920.8 734.5C921.0 735.2 920.8 737.0 921.0 737.0C921.2 737.0 921.9 735.3 922.0 734.5C922.1 733.7 921.7 732.1 921.8 731.5C921.9 730.9 922.6 730.1 923.0 730.0C923.4 729.9 924.2 730.0 924.5 730.5C924.8 731.0 924.9 732.7 924.8 733.5C924.7 734.3 924.2 735.3 924.0 736.0C923.8 736.7 923.4 738.4 923.5 738.5C923.6 738.6 924.6 737.0 925.0 736.5C925.4 736.0 926.4 735.5 926.5 735.0C926.6 734.5 925.6 733.7 925.5 733.0C925.4 732.3 925.6 730.5 926.0 730.0C926.4 729.5 927.4 729.6 928.0 729.5C928.6 729.4 929.5 729.1 930.0 729.0C930.5 728.9 931.0 728.4 931.5 728.5C932.0 728.6 933.4 730.1 933.5 730.0C933.6 729.9 932.9 728.4 932.5 728.0C932.1 727.6 930.9 727.4 930.5 727.0C930.1 726.6 929.9 725.9 930.0 725.5C930.1 725.1 930.5 724.3 931.0 724.0C931.5 723.7 932.8 723.7 933.5 723.5C934.2 723.3 935.3 722.7 936.0 722.5C936.7 722.3 937.9 721.9 938.5 722.0C939.1 722.1 939.7 723.0 940.0 723.5C940.3 724.0 940.3 725.0 940.5 725.5C940.7 726.0 941.2 726.7 941.5 727.0C941.8 727.3 942.5 727.8 942.5 727.5C942.5 727.2 941.6 725.6 941.5 725.0C941.4 724.4 941.6 723.6 942.0 723.0C942.4 722.4 943.4 721.5 944.0 721.0C944.6 720.5 945.4 719.9 946.0 719.5C946.6 719.1 947.6 718.5 948.0 718.0C948.4 717.5 949.1 716.4 949.0 716.0C948.9 715.6 947.8 715.4 947.5 715.0C947.2 714.6 946.9 713.6 947.0 713.0C947.1 712.4 948.1 711.4 948.5 711.0C948.9 710.6 949.5 710.1 950.0 710.0C950.5 709.9 951.5 710.6 952.0 710.5C952.5 710.4 953.2 709.9 953.5 709.5C953.8 709.1 953.6 708.1 954.0 707.8C954.4 707.5 955.4 707.0 956.0 707.2C956.6 707.4 958.4 708.5 958.5 709.0C958.6 709.5 957.4 710.2 957.0 710.5C956.6 710.8 955.6 710.7 955.5 711.0C955.4 711.3 956.6 712.1 956.5 712.5C956.4 712.9 955.4 713.5 955.0 714.0C954.6 714.5 954.3 715.4 954.0 716.0C953.7 716.6 953.3 717.7 953.0 718.5C952.7 719.3 952.2 720.7 952.0 721.5C951.8 722.3 951.4 723.4 951.5 724.0C951.6 724.6 952.1 725.4 952.5 725.5C952.9 725.6 953.6 724.9 954.0 724.5C954.4 724.1 955.1 723.2 955.5 722.5C955.9 721.8 956.6 720.3 957.0 719.5C957.4 718.7 958.1 717.8 958.5 717.0C958.9 716.2 959.6 714.8 960.0 714.0C960.4 713.2 961.4 711.4 961.5 711.5C961.6 711.6 960.7 714.1 960.5 715.0C960.3 715.9 959.9 717.2 960.0 718.0C960.1 718.8 960.6 720.2 961.0 720.5C961.4 720.8 962.1 720.5 962.5 720.0C962.9 719.5 963.6 717.9 964.0 717.0C964.4 716.1 964.8 714.9 965.0 714.0C965.2 713.1 965.3 711.7 965.5 711.0C965.7 710.3 966.1 709.4 966.5 709.0C966.9 708.6 967.9 708.2 968.5 708.2C969.1 708.2 970.5 708.6 971.0 709.0C971.5 709.4 972.1 710.5 972.0 711.0C971.9 711.5 970.4 711.9 970.0 712.5C969.6 713.1 969.0 714.6 969.0 715.0C969.0 715.4 969.7 715.1 970.0 715.5C970.3 715.9 971.1 717.1 971.2 718.0C971.3 718.9 970.9 720.7 970.8 721.5C970.7 722.3 970.4 723.7 970.5 723.5C970.6 723.3 971.2 721.0 971.5 720.0C971.8 719.0 972.3 717.4 972.5 716.5C972.7 715.6 972.7 714.1 973.0 713.5C973.3 712.9 974.0 712.3 974.5 712.2C975.0 712.1 975.9 712.6 976.5 713.0C977.1 713.4 977.9 714.6 978.5 715.0C979.1 715.4 980.4 715.6 981.0 716.0C981.6 716.4 982.4 717.0 983.0 717.5C983.6 718.0 985.0 718.9 985.5 719.5C986.0 720.1 986.7 720.9 986.8 721.5C986.9 722.1 986.5 723.0 986.0 723.5C985.5 724.0 983.9 724.6 983.5 724.8M880.5 763.5C880.4 763.6 880.6 761.7 881.0 761.0C881.4 760.3 882.4 759.1 883.0 758.5C883.6 757.9 884.4 756.9 885.0 756.5C885.6 756.1 886.8 755.9 887.5 756.0C888.2 756.1 889.3 757.5 890.0 757.5C890.7 757.5 891.8 756.4 892.5 756.0C893.2 755.6 894.3 754.9 895.0 754.5C895.7 754.1 896.8 753.4 897.5 753.0C898.2 752.6 899.4 752.3 900.0 752.0C900.6 751.7 901.9 751.4 902.0 751.0C902.1 750.6 901.1 749.6 901.0 749.0C900.9 748.4 901.6 746.8 901.5 746.5C901.4 746.2 900.4 746.6 900.0 747.0C899.6 747.4 898.9 748.9 898.5 749.5C898.1 750.1 897.1 751.6 897.0 751.5C896.9 751.4 897.3 749.8 897.5 749.0C897.7 748.2 898.2 746.9 898.5 746.0C898.8 745.1 899.3 743.9 899.5 743.0C899.7 742.1 899.9 739.9 899.8 739.5C899.7 739.1 898.9 739.6 898.5 740.0C898.1 740.4 897.4 741.8 897.0 742.5C896.6 743.2 895.9 744.7 895.5 745.0C895.1 745.3 894.4 744.3 894.0 744.5C893.6 744.7 893.0 746.1 892.5 746.5C892.0 746.9 890.9 747.1 890.5 747.5C890.1 747.9 889.5 748.6 889.5 749.0C889.5 749.4 890.0 750.1 890.5 750.3C891.0 750.5 892.4 750.6 893.0 750.5C893.6 750.4 894.8 749.3 895.0 749.5C895.2 749.7 894.9 751.4 894.5 752.0C894.1 752.6 893.1 753.1 892.5 753.5C891.9 753.9 890.7 754.2 890.0 754.5C889.3 754.8 888.2 755.3 887.5 755.5C886.8 755.7 885.6 755.6 885.0 756.0C884.4 756.4 883.5 757.4 883.0 758.0C882.5 758.6 881.9 759.7 881.5 760.5C881.1 761.3 880.6 763.4 880.5 763.5ZM904.0 743.5C903.9 743.1 904.4 741.7 904.5 741.0C904.6 740.3 904.7 739.2 905.0 738.5C905.3 737.8 906.1 736.6 906.5 736.0C906.9 735.4 907.5 734.6 908.0 734.5C908.5 734.4 909.5 734.7 910.0 735.0C910.5 735.3 911.4 736.0 911.5 736.5C911.6 737.0 910.8 737.9 910.5 738.5C910.2 739.1 909.8 739.9 909.5 740.5C909.2 741.1 908.9 742.1 908.5 742.5C908.1 742.9 906.9 742.8 906.5 743.0C906.1 743.2 905.9 743.9 905.5 744.0C905.1 744.1 904.1 743.9 904.0 743.5ZM916.2 727.5C916.0 727.0 917.1 723.5 917.5 723.5C917.9 723.5 919.0 726.6 918.8 727.2C918.6 727.8 916.4 728.0 916.2 727.5ZM924.5 724.0C924.6 723.7 925.2 723.5 925.5 723.5C925.8 723.5 926.5 724.0 926.7 724.3C926.9 724.6 926.9 725.2 926.7 725.5C926.5 725.8 925.8 726.2 925.5 726.2C925.2 726.2 924.6 725.8 924.5 725.5C924.4 725.2 924.4 724.3 924.5 724.0ZM934.0 716.5C934.3 716.1 935.6 715.9 936.5 715.5C937.4 715.1 939.1 714.4 940.0 714.0C940.9 713.6 942.3 712.9 942.5 713.0C942.7 713.1 941.9 714.0 941.5 714.5C941.1 715.0 940.5 715.9 940.0 716.5C939.5 717.1 938.6 718.1 938.0 718.5C937.4 718.9 936.5 719.1 936.0 719.0C935.5 718.9 934.8 718.4 934.5 718.0C934.2 717.6 933.7 716.9 934.0 716.5ZM943.5 715.0C943.9 714.6 945.3 713.9 946.0 714.0C946.7 714.1 948.4 715.0 948.5 715.5C948.6 716.0 947.6 717.0 947.0 717.5C946.4 718.0 945.1 718.9 944.5 719.0C943.9 719.1 942.6 718.9 942.5 718.5C942.4 718.1 943.4 717.0 943.5 716.5C943.6 716.0 943.1 715.4 943.5 715.0ZM893.0 764.0C893.3 763.8 894.5 763.0 895.0 762.5C895.5 762.0 896.3 760.8 896.5 760.5M890.5 770.0C890.9 770.1 892.6 770.6 893.5 770.5C894.4 770.4 896.1 769.2 896.5 769.0M983.5 724.8C983.0 724.9 981.0 725.6 980.0 725.8C979.0 726.0 977.4 726.2 976.5 726.2C975.6 726.2 973.6 725.4 973.5 725.5C973.4 725.6 975.3 726.5 976.0 726.8C976.7 727.1 978.1 727.4 978.5 727.8C978.9 728.2 978.8 729.0 979.0 729.5C979.2 730.0 979.6 730.7 980.0 731.0C980.4 731.3 981.0 731.7 981.5 731.8C982.0 731.9 982.8 731.5 983.5 731.5C984.2 731.5 985.5 731.4 986.2 731.5C986.9 731.6 987.9 732.5 988.5 732.5C989.1 732.5 990.0 731.9 990.5 731.5C991.0 731.1 991.4 729.8 991.8 729.5C992.2 729.2 993.0 729.1 993.5 729.2C994.0 729.3 994.9 729.7 995.5 730.0C996.1 730.3 997.1 730.8 997.5 731.2C997.9 731.6 998.6 732.6 998.5 733.0C998.4 733.4 997.6 733.9 997.0 734.0C996.4 734.1 995.0 733.9 994.5 734.0C994.0 734.1 993.4 734.7 993.5 735.0C993.6 735.3 994.4 735.7 995.0 736.0C995.6 736.3 997.0 736.4 997.5 736.8C998.0 737.2 998.1 738.4 998.5 738.5C998.9 738.6 999.6 737.6 1000.0 737.5C1000.4 737.4 1001.0 737.4 1001.2 737.8C1001.4 738.2 1001.6 739.3 1001.5 740.0C1001.4 740.7 1000.8 742.0 1000.5 742.5C1000.2 743.0 999.3 743.7 999.3 743.5C999.3 743.3 1000.1 741.6 1000.5 741.0C1000.9 740.4 1001.4 739.8 1002.0 739.5C1002.6 739.2 1004.1 739.0 1005.0 739.0C1005.9 739.0 1007.1 739.4 1008.0 739.5C1008.9 739.6 1010.1 739.9 1011.0 740.0C1011.9 740.1 1013.2 740.2 1014.0 740.5C1014.8 740.8 1015.8 741.5 1016.5 742.0C1017.2 742.5 1018.3 743.3 1019.0 743.8C1019.7 744.3 1020.8 745.2 1021.5 745.8C1022.2 746.4 1023.3 747.2 1024.0 747.8C1024.7 748.4 1025.6 749.2 1026.2 749.8C1026.8 750.4 1027.5 751.4 1028.0 752.0C1028.5 752.6 1029.4 753.5 1030.0 754.0C1030.6 754.5 1031.8 755.0 1032.5 755.5C1033.2 756.0 1034.3 756.7 1035.0 757.2C1035.7 757.7 1036.9 758.7 1037.5 759.0C1038.1 759.3 1038.6 759.3 1039.0 759.5C1039.4 759.7 1040.1 760.1 1040.5 760.5C1040.9 760.9 1041.5 762.0 1042.0 762.5C1042.5 763.0 1043.5 763.5 1044.0 764.0C1044.5 764.5 1045.2 765.3 1045.5 766.0C1045.8 766.7 1046.0 768.2 1046.2 769.0C1046.4 769.8 1047.0 770.7 1047.2 771.5C1047.4 772.3 1047.6 773.6 1047.5 774.5C1047.4 775.4 1047.1 776.7 1046.8 777.5C1046.5 778.3 1045.9 779.3 1045.5 780.0C1045.1 780.7 1044.3 781.8 1043.8 782.5C1043.3 783.2 1042.4 784.2 1041.8 784.8C1041.2 785.4 1040.2 786.1 1039.5 786.5C1038.8 786.9 1037.7 787.5 1037.0 787.8C1036.3 788.1 1035.3 788.6 1034.5 788.8C1033.7 789.0 1032.4 789.3 1031.5 789.3C1030.6 789.3 1029.4 789.2 1028.5 789.0C1027.6 788.8 1026.3 788.4 1025.5 788.0C1024.7 787.6 1023.8 786.9 1023.0 786.5C1022.2 786.1 1020.9 785.7 1020.0 785.5C1019.1 785.3 1017.9 785.2 1017.0 785.0C1016.1 784.8 1014.8 784.3 1014.0 784.0C1013.2 783.7 1012.2 783.2 1011.5 782.8C1010.8 782.4 1009.7 781.5 1009.0 781.2C1008.3 780.9 1007.2 780.7 1006.5 780.5C1005.8 780.3 1004.7 779.8 1004.0 779.5C1003.3 779.2 1002.1 778.8 1001.5 778.5C1000.9 778.2 1000.0 777.9 999.5 777.5C999.0 777.1 998.4 776.0 998.0 775.5C997.6 775.0 997.5 774.3 997.0 774.0C996.5 773.7 995.2 773.6 994.5 773.5C993.8 773.4 992.0 773.4 992.0 773.5C992.0 773.6 994.0 773.8 994.5 774.2C995.0 774.6 995.5 775.5 995.8 776.0C996.1 776.5 996.1 777.4 996.5 778.0C996.9 778.6 998.0 779.5 998.5 780.0C999.0 780.5 999.6 781.1 1000.0 781.5C1000.4 781.9 1001.2 782.5 1001.5 783.0C1001.8 783.5 1002.1 784.6 1002.0 785.0C1001.9 785.4 1000.4 785.3 1000.5 785.5C1000.6 785.7 1001.9 786.0 1002.5 786.2C1003.1 786.4 1003.9 786.7 1004.5 787.0C1005.1 787.3 1006.0 788.0 1006.5 788.5C1007.0 789.0 1007.6 789.9 1008.0 790.5C1008.4 791.1 1008.9 792.2 1009.0 793.0C1009.1 793.8 1008.7 795.2 1008.5 796.0C1008.3 796.8 1007.7 797.9 1007.5 798.5C1007.3 799.1 1007.1 799.8 1007.0 800.0M1038.5 800.0C1038.4 799.6 1037.9 798.2 1038.0 797.5C1038.1 796.8 1038.5 795.7 1039.0 795.0C1039.5 794.3 1040.8 793.1 1041.5 792.5C1042.2 791.9 1043.2 791.0 1044.0 790.5C1044.8 790.0 1046.2 789.5 1047.0 789.0C1047.8 788.5 1048.9 787.6 1049.5 787.0C1050.1 786.4 1051.1 785.1 1051.5 784.5C1051.9 783.9 1052.1 782.6 1052.5 782.5C1052.9 782.4 1054.0 783.2 1054.5 783.5C1055.0 783.8 1055.6 784.4 1056.0 784.5C1056.4 784.6 1057.3 784.5 1057.5 784.5M1053.7 779.0C1053.8 778.8 1054.5 778.9 1054.7 779.0C1054.9 779.1 1055.1 779.8 1055.0 780.0C1054.9 780.2 1054.2 780.4 1054.0 780.3C1053.8 780.2 1053.6 779.2 1053.7 779.0ZM890.8 790.0C890.8 790.6 891.1 792.9 891.0 794.1C890.9 795.2 890.6 797.0 890.3 798.2C890.0 799.3 889.3 801.1 888.8 802.2C888.3 803.4 887.2 805.3 886.7 806.3C886.2 807.3 885.2 808.7 885.2 809.4C885.2 810.0 886.3 810.4 886.7 810.9C887.2 811.4 888.1 812.2 888.3 813.0C888.4 813.7 888.3 815.4 888.0 816.0C887.7 816.7 886.9 817.4 886.2 817.6C885.5 817.7 884.0 816.8 883.2 816.7C882.4 816.7 881.3 816.9 880.6 817.3C879.9 817.8 878.9 818.8 878.4 819.6C877.8 820.3 877.1 821.7 876.7 822.7C876.4 823.6 875.9 825.3 875.7 826.2C875.5 827.1 875.4 828.0 875.5 828.8C875.6 829.6 876.3 830.8 876.3 831.8C876.4 832.9 876.0 834.8 876.0 835.9C876.1 837.1 876.5 839.0 876.7 840.0C876.9 841.0 877.3 842.1 877.3 843.1C877.3 844.0 876.6 845.8 876.7 846.6C876.8 847.4 877.6 848.2 878.1 848.7C878.5 849.2 879.7 849.7 880.1 850.2C880.5 850.7 880.7 851.6 880.6 852.2C880.5 852.9 880.0 854.3 879.6 854.8C879.2 855.3 877.8 855.3 877.6 855.8C877.3 856.3 877.5 857.6 877.8 858.4C878.0 859.2 878.9 860.6 879.1 861.4C879.3 862.3 879.2 863.6 879.1 864.5C878.9 865.4 878.6 866.9 878.1 867.6C877.6 868.2 876.0 868.5 875.5 869.1C875.0 869.7 874.6 870.8 874.3 871.6C874.0 872.4 873.5 873.8 873.5 874.7C873.5 875.6 874.4 877.0 874.3 877.8C874.2 878.6 873.1 879.9 873.0 880.3M850.0 890.0C850.3 889.9 851.5 889.3 852.0 889.0C852.6 888.6 853.5 888.0 854.1 887.4C854.7 886.9 855.5 886.1 856.1 885.4C856.7 884.8 857.6 883.6 858.2 882.9C858.7 882.1 859.7 880.9 860.2 880.3C860.7 879.7 861.2 879.0 861.7 878.8C862.2 878.6 863.3 879.1 863.8 878.8C864.3 878.5 864.9 877.5 865.3 876.7C865.7 876.0 866.1 874.5 866.3 873.7C866.6 872.9 867.0 871.1 867.1 871.1C867.3 871.1 867.2 872.9 867.3 873.7C867.5 874.4 868.0 875.6 868.4 876.2C868.7 876.8 869.5 877.4 869.9 877.8C870.3 878.1 871.0 878.4 871.4 878.8C871.9 879.1 873.0 880.1 873.0 880.3C873.0 880.5 871.6 879.8 871.4 880.3C871.2 880.8 871.3 882.9 871.4 883.9C871.5 884.9 872.1 886.5 872.2 887.4C872.4 888.4 872.6 890.1 872.7 890.5M879.6 791.5C879.4 791.8 878.9 792.9 878.6 793.6C878.3 794.2 877.7 795.4 877.3 796.1C877.0 796.9 876.4 798.0 876.3 798.7C876.2 799.3 876.4 800.3 876.7 800.7C877.1 801.1 878.0 801.4 878.6 801.2C879.1 801.1 880.3 799.9 880.6 799.7M876.7 800.7C876.9 801.0 877.8 802.4 877.6 802.8C877.3 803.1 875.7 802.8 875.0 803.1C874.3 803.3 873.2 803.9 872.4 804.3C871.7 804.7 870.5 805.6 869.9 805.8C869.3 806.0 868.2 805.4 868.4 805.5C868.5 805.6 870.3 806.0 870.9 806.3C871.6 806.6 873.0 807.2 873.0 807.6C873.0 807.9 871.6 808.3 870.9 808.9C870.3 809.4 869.1 810.6 868.4 811.4C867.6 812.2 866.5 813.5 865.8 814.5C865.1 815.4 863.9 817.2 863.3 818.1C862.6 818.9 861.4 820.0 861.2 820.6C861.0 821.3 861.7 822.0 862.0 822.7C862.4 823.3 863.2 825.0 863.8 825.2C864.4 825.4 865.6 824.6 866.3 824.2C867.1 823.8 868.2 823.0 868.9 822.4C869.5 821.9 870.5 821.2 870.9 820.6C871.4 820.0 872.0 818.5 871.9 818.1C871.9 817.6 870.7 817.3 870.4 817.6C870.1 817.8 870.3 819.0 869.9 819.6C869.5 820.2 868.5 821.1 867.9 821.6C867.2 822.1 866.0 822.9 865.3 823.2C864.7 823.5 863.6 823.6 863.3 823.7M861.2 820.6C860.9 820.9 859.3 822.6 858.7 822.7C858.0 822.7 857.2 821.2 856.6 821.1C856.0 821.0 855.1 821.6 854.6 822.1C854.1 822.7 853.4 824.1 853.1 824.7C852.7 825.3 852.0 825.7 852.0 826.2C852.1 826.7 853.4 827.6 853.6 828.3C853.7 828.9 852.8 830.2 853.1 830.8C853.4 831.5 855.2 832.6 855.6 832.9M874.0 794.6C874.1 794.4 874.8 794.3 875.0 794.4C875.2 794.5 875.4 795.2 875.3 795.4C875.2 795.6 874.5 795.8 874.3 795.7C874.1 795.6 873.9 794.8 874.0 794.6ZM931.6 800.2C931.6 800.6 931.4 802.4 931.1 803.3C930.8 804.1 929.7 805.5 929.6 806.3C929.5 807.2 930.3 808.6 930.6 809.4C930.9 810.2 931.9 811.2 931.6 811.9C931.4 812.7 929.7 813.7 929.1 814.5C928.5 815.3 928.0 816.7 927.6 817.6C927.1 818.4 926.7 819.4 926.0 820.1C925.4 820.8 923.8 822.0 923.0 822.7C922.2 823.3 921.1 824.2 920.4 824.7C919.7 825.2 918.6 825.7 917.9 826.2C917.1 826.8 916.0 827.9 915.3 828.6C914.7 829.2 913.8 830.2 913.3 830.8C912.8 831.4 912.2 832.3 911.7 832.9C911.3 833.4 910.6 834.3 910.2 834.9C909.8 835.5 909.7 836.5 909.2 836.9C908.7 837.4 907.2 837.4 906.9 838.0C906.7 838.5 907.5 839.8 907.7 840.5C907.8 841.2 908.2 842.3 908.2 843.1C908.1 843.8 907.5 844.9 907.1 845.6C906.8 846.3 905.9 847.2 905.6 848.2C905.3 849.1 905.3 851.1 905.3 852.2C905.3 853.4 905.4 855.2 905.6 856.3C905.8 857.4 906.1 859.2 906.6 859.9C907.1 860.6 908.5 860.6 909.2 860.9C909.8 861.3 910.6 861.9 911.2 862.4C911.8 863.0 912.7 863.8 913.3 864.5C913.8 865.1 914.8 866.4 915.3 867.0C915.8 867.7 916.8 868.4 916.8 869.1C916.9 869.7 916.2 871.0 915.8 871.6C915.5 872.3 914.8 873.2 914.3 873.7C913.8 874.2 912.3 874.8 912.2 875.2C912.2 875.6 913.7 875.8 913.8 876.2C913.8 876.7 913.3 877.8 912.8 878.3C912.2 878.8 911.0 879.4 910.2 879.8C909.4 880.2 908.0 880.8 907.1 881.3C906.3 881.8 905.0 883.1 904.1 883.4C903.1 883.7 900.7 883.2 900.5 883.4C900.4 883.5 902.7 883.9 903.1 884.4C903.4 884.9 903.1 886.1 903.1 886.9C903.0 887.8 902.9 890.0 902.9 890.5M931.6 800.2C931.9 799.8 933.1 798.0 933.7 797.1C934.3 796.3 935.3 794.7 935.7 794.1C936.2 793.4 936.2 792.8 936.7 792.6C937.3 792.3 938.8 792.5 939.8 792.6C940.8 792.6 942.9 793.1 943.9 793.1C944.8 793.1 945.8 792.6 946.4 792.6C947.1 792.6 947.9 792.8 948.5 793.1C949.1 793.4 949.9 794.2 950.5 794.6C951.2 795.0 952.6 795.5 953.1 796.1C953.5 796.7 953.8 797.8 953.9 798.7C954.0 799.5 953.8 801.3 953.6 802.2C953.4 803.2 953.0 804.8 952.6 805.3C952.1 805.8 950.9 805.4 950.5 805.8C950.1 806.3 949.9 807.5 949.5 808.4C949.1 809.2 948.0 811.0 947.4 811.9C946.9 812.9 946.1 814.1 945.4 815.0C944.8 815.9 943.6 817.3 942.9 818.1C942.1 818.9 941.0 820.0 940.3 820.6C939.6 821.3 938.3 822.0 937.8 822.7C937.2 823.3 936.6 824.5 936.2 825.2C935.9 825.9 935.7 827.3 935.2 827.8C934.7 828.2 933.4 828.5 932.7 828.6C931.9 828.6 930.2 827.8 930.1 828.0C930.0 828.1 931.6 829.2 931.6 829.8C931.7 830.3 931.0 831.3 930.6 831.8C930.2 832.4 929.4 833.2 929.1 833.9C928.8 834.5 928.5 835.6 928.6 836.4C928.6 837.2 929.4 838.5 929.6 839.5C929.8 840.4 929.9 842.2 930.1 843.1C930.3 843.9 930.9 844.7 931.1 845.6C931.3 846.5 931.6 848.1 931.6 849.2C931.7 850.3 931.7 852.2 931.6 853.3C931.5 854.3 931.0 855.4 930.8 856.3C930.7 857.3 930.7 859.2 930.6 859.9C930.5 860.6 929.8 861.1 930.1 861.4C930.4 861.7 931.9 861.7 932.7 861.9C933.4 862.2 934.5 862.7 935.2 863.0C935.9 863.3 936.7 863.5 937.2 864.0C937.8 864.4 938.8 865.4 939.3 866.0C939.8 866.6 940.2 867.8 940.8 868.1C941.5 868.4 942.9 868.2 943.9 868.1C944.9 867.9 946.8 867.4 948.0 867.0C949.1 866.6 950.9 865.8 952.0 865.3C953.2 864.8 955.0 864.0 956.1 863.5C957.3 863.0 959.2 862.2 960.2 861.9C961.2 861.6 962.3 861.5 963.3 861.4C964.2 861.4 965.9 861.6 966.8 861.4C967.8 861.2 969.5 860.1 970.0 859.9M945.9 790.0L946.4 792.6M920.4 864.5C920.6 864.1 921.3 863.2 921.6 863.3C922.0 863.3 922.6 864.5 922.7 865.0C922.7 865.5 922.2 866.3 921.9 866.5C921.6 866.7 920.8 866.6 920.6 866.3C920.4 866.0 920.3 864.9 920.4 864.5ZM925.0 866.5C925.1 866.4 925.9 866.4 926.0 866.5C926.2 866.7 926.2 867.4 926.0 867.6C925.9 867.7 925.1 867.7 925.0 867.6C924.9 867.4 924.9 866.7 925.0 866.5ZM931.4 865.5C931.6 865.3 932.6 865.2 932.9 865.3C933.1 865.5 933.3 866.3 933.2 866.5C933.0 866.7 931.9 866.9 931.6 866.7C931.4 866.6 931.3 865.7 931.4 865.5ZM930.6 860.9C931.0 861.2 932.4 862.1 933.2 862.7C933.9 863.2 935.1 864.0 935.7 864.5C936.4 865.0 937.3 865.6 937.8 866.0C938.2 866.5 938.6 867.3 938.8 867.6M931.6 861.9C932.1 862.2 933.9 863.5 934.7 864.0C935.5 864.5 936.9 865.1 937.2 865.3M942.9 877.8C943.3 877.3 944.9 875.3 945.9 874.7C946.9 874.0 948.7 873.5 950.0 873.2C951.3 872.8 953.8 872.2 955.1 872.1C956.4 872.1 958.0 872.4 959.2 872.7C960.3 872.9 962.1 873.9 963.3 874.2C964.4 874.5 966.4 874.6 967.3 874.7C968.3 874.8 969.6 874.7 970.0 874.7M942.9 877.8C942.8 878.2 942.3 879.9 942.3 880.8C942.4 881.7 942.9 883.1 943.4 883.9C943.8 884.7 944.8 886.0 945.4 886.4C946.1 886.9 947.5 886.4 948.0 886.9C948.4 887.5 948.4 890.0 948.5 890.5M934.7 889.5C934.5 889.0 933.2 886.6 933.2 885.9C933.2 885.2 934.0 884.8 934.7 884.4C935.3 884.0 937.0 883.4 937.8 883.4C938.5 883.4 939.1 884.4 939.8 884.4C940.5 884.4 942.2 883.2 942.3 883.4C942.5 883.5 941.4 884.9 940.8 885.4C940.2 885.9 939.0 886.6 938.3 886.9C937.5 887.3 936.2 887.6 935.7 888.0C935.2 888.3 934.8 889.3 934.7 889.5M934.7 879.8C934.8 879.3 936.5 878.6 937.2 878.6C937.9 878.5 939.4 878.9 939.6 879.3C939.8 879.7 939.3 881.0 938.8 881.3C938.3 881.7 936.8 882.1 936.2 881.8C935.6 881.6 934.5 880.3 934.7 879.8ZM968.9 870.6C968.8 871.2 968.7 873.4 968.4 874.7C968.0 876.0 966.9 878.9 966.3 879.8C965.7 880.7 964.4 880.2 964.3 880.8C964.1 881.4 964.9 882.5 965.3 883.9C965.7 885.3 967.1 889.6 967.3 890.5M979.4 796.0C979.3 796.6 978.6 799.4 978.7 800.4C978.7 801.4 979.8 802.4 979.8 803.2C979.8 803.9 978.4 804.6 978.7 805.4C978.9 806.1 980.9 807.7 981.4 808.7C981.9 809.6 981.6 811.1 982.0 812.0C982.3 812.8 983.9 813.8 984.2 814.7C984.4 815.6 984.3 817.1 983.8 818.0C983.4 818.9 981.0 820.4 980.9 821.3C980.7 822.2 982.3 823.3 983.1 824.1C983.8 824.8 985.5 826.0 986.4 826.8C987.2 827.6 988.6 828.8 989.1 829.6C989.7 830.3 990.3 831.3 990.2 832.3C990.1 833.3 989.2 835.4 988.6 836.7C987.9 838.0 986.7 839.8 985.8 841.1C984.9 842.4 983.4 844.2 982.5 845.5C981.6 846.8 980.2 848.6 979.2 849.9C978.2 851.2 976.5 853.1 975.4 854.3C974.3 855.5 972.5 857.1 971.5 858.2C970.5 859.2 968.7 861.0 968.2 861.5M970.0 859.9C970.2 860.0 971.0 860.1 971.5 860.4C972.0 860.6 973.0 861.0 973.2 861.5C973.3 861.9 972.3 863.1 972.6 863.7C972.9 864.2 974.5 865.0 975.4 865.3C976.2 865.6 977.8 865.3 978.7 865.9C979.5 866.4 981.4 868.9 981.4 869.2C981.4 869.4 979.4 867.7 978.7 867.5C977.9 867.3 976.6 867.2 975.9 867.5C975.2 867.8 974.4 869.3 973.7 869.7C973.0 870.1 971.5 869.8 971.0 870.3C970.4 870.7 970.2 872.9 969.9 873.0C969.6 873.2 969.0 871.6 968.9 871.4M1006.9 800.0C1007.1 800.2 1008.0 800.8 1008.4 801.5C1008.7 802.2 1009.0 803.9 1009.1 804.8C1009.3 805.7 1009.3 807.2 1009.5 808.1C1009.6 809.0 1009.6 810.2 1010.0 810.9C1010.4 811.5 1011.5 812.1 1012.2 812.5C1012.9 812.9 1014.3 813.2 1015.0 813.6C1015.6 814.0 1016.1 814.7 1016.6 815.3C1017.1 815.8 1017.6 817.0 1018.3 817.5C1018.9 817.9 1020.1 818.2 1021.0 818.6C1021.9 818.9 1023.4 820.1 1024.3 820.2C1025.2 820.3 1026.5 819.6 1027.1 819.1C1027.7 818.6 1028.4 817.7 1028.5 816.9C1028.6 816.1 1028.0 814.3 1027.6 813.6C1027.2 812.9 1026.0 812.3 1025.4 812.0C1024.8 811.6 1023.8 811.8 1023.2 811.4C1022.7 811.0 1022.0 809.9 1021.6 809.2C1021.1 808.5 1020.4 807.2 1020.1 806.5C1019.9 805.7 1019.7 804.4 1019.9 803.7C1020.1 803.0 1021.0 801.8 1021.6 801.5C1022.1 801.2 1023.1 801.3 1023.8 801.5C1024.4 801.7 1025.2 802.7 1026.0 803.2C1026.7 803.6 1027.8 804.3 1028.7 804.8C1029.6 805.3 1031.1 805.9 1032.0 806.5C1033.0 807.0 1034.4 808.1 1035.3 808.7C1036.2 809.2 1037.4 810.4 1038.1 810.3C1038.8 810.2 1039.6 808.5 1040.3 808.1C1040.9 807.7 1042.2 807.9 1042.5 807.6C1042.7 807.2 1042.2 805.8 1041.9 805.4C1041.6 804.9 1040.5 804.8 1040.3 804.3C1040.0 803.7 1040.2 802.1 1039.9 801.5C1039.7 800.9 1038.7 800.2 1038.5 800.0M1013.3 802.1C1013.4 801.7 1014.1 801.3 1014.4 801.3C1014.7 801.3 1015.4 801.7 1015.5 802.1C1015.6 802.4 1015.5 803.2 1015.3 803.5C1015.1 803.7 1014.1 803.9 1013.9 803.7C1013.6 803.5 1013.2 802.4 1013.3 802.1ZM855.3 832.6C855.1 832.4 854.0 831.6 853.5 831.2C853.0 830.8 852.3 829.9 851.6 829.8C851.0 829.7 849.6 830.2 848.8 830.5C848.1 830.8 847.0 831.3 846.5 831.6C846.0 832.0 845.0 832.6 845.1 833.0C845.2 833.4 846.3 834.2 847.0 834.4C847.6 834.7 849.0 834.9 849.8 834.9C850.6 834.9 852.6 834.3 852.6 834.4C852.6 834.6 850.5 835.6 849.8 835.8C849.0 836.0 848.2 835.9 847.4 835.8C846.7 835.7 845.3 834.8 844.7 834.9C844.0 835.0 843.3 835.9 842.8 836.3C842.3 836.7 841.5 837.3 840.9 837.7C840.3 838.0 839.2 838.3 838.6 838.6C838.0 838.9 837.2 839.6 836.7 840.0C836.3 840.4 835.6 840.9 835.3 841.4C835.1 841.9 834.6 842.9 834.9 843.3C835.1 843.6 836.5 843.5 837.2 843.7C837.9 844.0 839.3 844.8 840.0 845.1C840.7 845.4 841.7 846.0 842.3 846.0C843.0 846.1 844.7 845.5 844.7 845.6C844.6 845.6 842.7 846.4 841.9 846.5C841.1 846.6 839.8 846.2 839.1 846.0C838.3 845.9 837.3 845.8 836.7 845.6C836.1 845.4 835.3 844.6 834.9 844.7C834.5 844.7 834.1 845.5 834.0 846.0C833.8 846.6 833.6 848.0 833.8 848.4C834.0 848.8 834.9 848.5 835.3 848.8C835.8 849.2 836.7 850.2 836.7 850.7C836.8 851.2 836.2 851.8 835.8 852.1C835.4 852.4 834.3 852.6 834.0 853.0C833.6 853.4 833.2 854.7 833.5 854.9C833.8 855.1 835.0 854.6 835.8 854.4C836.6 854.3 838.1 854.0 839.1 854.0C840.0 853.9 841.4 853.9 842.3 854.0C843.3 854.0 844.7 854.3 845.6 854.1C846.4 854.0 847.9 853.5 848.4 853.0C848.8 852.5 848.9 850.6 848.8 850.7C848.8 850.8 848.2 853.2 847.9 854.0C847.6 854.8 847.0 856.1 846.5 856.3C846.0 856.4 844.9 855.0 844.2 854.9C843.5 854.8 842.2 855.2 841.4 855.3C840.6 855.5 839.3 855.6 838.6 855.8C837.9 856.0 836.8 856.3 836.3 856.7C835.7 857.1 835.0 858.1 834.9 858.6C834.8 859.1 835.3 860.3 835.8 860.5C836.3 860.7 837.4 859.9 838.1 860.0C838.9 860.1 840.1 861.1 840.9 861.4C841.7 861.7 843.0 862.3 843.7 862.3C844.5 862.4 846.0 861.7 846.0 861.9C846.1 862.0 844.7 862.8 844.2 863.3C843.7 863.7 842.8 865.0 842.3 865.1C841.9 865.2 841.4 864.0 840.9 863.7C840.5 863.5 839.6 863.2 839.1 863.3C838.5 863.3 837.7 864.2 837.2 864.2C836.7 864.2 835.7 863.1 835.3 863.3C835.0 863.4 834.4 864.6 834.4 865.1C834.4 865.6 834.9 866.8 835.3 867.0C835.8 867.2 837.0 866.5 837.7 866.5C838.3 866.5 839.9 866.6 840.0 867.0C840.1 867.3 839.1 868.4 838.6 868.8C838.1 869.2 836.7 869.4 836.3 869.8C835.8 870.2 835.3 871.2 835.3 871.6C835.4 872.1 836.1 873.0 836.7 873.0C837.3 873.1 838.9 872.0 839.5 872.1C840.2 872.2 841.0 873.2 841.4 873.5C841.8 873.8 842.5 874.1 842.3 874.4C842.2 874.8 841.1 875.5 840.5 875.8C839.9 876.1 838.8 876.5 838.1 876.7C837.5 877.0 835.9 877.4 835.8 877.7C835.7 877.9 837.1 878.3 837.7 878.6C838.3 878.9 839.3 879.3 840.0 879.5C840.7 879.7 842.4 879.9 842.3 880.0C842.3 880.1 840.2 880.1 839.5 880.2C838.9 880.3 838.0 880.6 837.7 880.9C837.3 881.3 837.1 882.3 837.2 882.8C837.3 883.3 837.7 884.1 838.1 884.7C838.5 885.2 839.4 886.0 840.0 886.5C840.6 887.0 841.7 887.5 842.3 887.9C843.0 888.3 844.0 889.0 844.7 889.3C845.3 889.6 846.2 890.0 847.0 890.0C847.7 890.1 849.5 890.0 850.0 890.0M383.7 367.2C383.0 367.5 379.7 367.9 378.5 368.7C377.3 369.6 375.6 371.9 375.2 373.2C374.8 374.6 375.4 377.1 375.8 378.5C376.2 379.9 377.2 382.0 377.7 383.0C378.3 384.0 379.9 385.8 379.7 385.7C379.5 385.6 377.2 383.5 376.2 382.2C375.3 381.0 374.0 378.4 373.2 377.0C372.5 375.6 372.2 373.4 371.0 372.5C369.8 371.6 366.7 371.1 365.0 370.7C363.3 370.3 360.6 369.7 359.0 369.9C357.4 370.2 354.3 371.2 353.7 372.2C353.2 373.2 354.7 375.6 355.2 377.0C355.8 378.4 356.8 380.9 357.5 382.2C358.2 383.6 359.4 385.6 360.2 386.7C360.9 387.9 362.7 389.4 362.7 390.5C362.8 391.6 361.1 394.2 360.5 394.2C359.9 394.2 359.2 391.7 358.7 390.5C358.2 389.3 357.3 387.3 356.7 386.0C356.1 384.7 355.1 382.7 354.5 381.5C353.9 380.3 353.1 378.4 352.2 377.7C351.4 377.1 349.7 377.1 348.5 377.0C347.3 376.9 345.2 377.2 344.0 377.0C342.8 376.8 341.3 375.9 340.2 375.8C339.2 375.7 337.4 375.9 336.8 376.2C336.2 376.6 335.9 377.6 336.2 378.5C336.5 379.4 338.0 381.3 338.7 382.2C339.5 383.2 341.0 384.5 341.7 385.2C342.5 386.0 344.4 387.0 344.3 387.2C344.2 387.4 342.0 387.0 341.0 386.7C340.0 386.5 338.2 385.7 337.2 385.2C336.3 384.8 335.1 383.5 334.2 383.3C333.4 383.1 331.8 383.3 331.2 383.7C330.7 384.2 330.4 385.8 330.5 386.7C330.6 387.7 332.2 390.1 332.0 390.5C331.8 390.9 329.9 389.9 329.0 389.7C328.1 389.6 326.6 389.1 326.0 389.3C325.4 389.5 324.4 390.5 324.5 391.2C324.6 392.0 326.7 393.6 326.7 394.2C326.7 394.9 325.1 395.1 324.5 395.7C323.9 396.4 322.5 397.8 322.2 398.7C322.0 399.7 322.6 401.4 323.0 402.5C323.4 403.6 324.4 405.2 325.2 406.2C326.1 407.3 327.9 408.8 329.0 410.0C330.1 411.2 331.7 413.3 332.7 414.5C333.8 415.7 335.6 417.4 336.5 418.2C337.4 419.1 338.2 419.7 338.7 420.5C339.3 421.2 340.4 423.5 340.2 423.5C340.1 423.5 338.9 421.5 338.0 420.5C337.1 419.5 335.4 417.8 334.2 416.7C333.1 415.7 330.9 414.0 329.7 413.0C328.6 412.0 327.0 410.7 326.0 410.0C325.0 409.2 323.7 407.9 323.0 407.7C322.2 407.6 320.9 408.6 320.7 409.2C320.6 409.9 321.8 411.5 322.2 412.2C322.7 413.0 324.0 414.2 323.7 414.5C323.5 414.8 321.4 414.7 320.7 414.2C320.1 413.7 319.7 411.9 319.2 410.7C318.8 409.6 318.3 407.4 317.7 406.2C317.2 405.1 316.4 403.3 315.5 402.5C314.6 401.7 312.8 401.3 311.7 400.7C310.7 400.1 309.2 398.4 308.3 398.3C307.4 398.2 306.4 399.4 305.7 400.2C305.1 401.1 304.2 403.1 303.5 404.0C302.7 404.9 301.2 406.1 300.5 406.7C299.7 407.3 298.2 407.9 298.2 408.5C298.2 409.1 299.7 410.1 300.5 410.7C301.2 411.4 302.5 412.2 303.5 413.0C304.5 413.7 306.8 415.2 307.2 416.0C307.7 416.8 307.0 418.2 306.5 418.7C306.0 419.2 304.4 419.6 303.5 419.3C302.6 419.0 301.2 417.3 300.5 416.7C299.7 416.2 298.9 415.2 298.2 415.2C297.6 415.2 296.3 416.2 296.0 416.7C295.7 417.3 296.3 419.4 296.0 419.3C295.7 419.2 294.4 416.8 293.7 416.0C293.1 415.2 292.2 414.1 291.5 413.7C290.7 413.4 289.5 413.1 288.5 413.3C287.5 413.5 285.7 414.4 284.7 415.2C283.8 416.1 282.5 418.1 281.7 419.0C281.0 419.9 280.2 421.3 279.5 421.7C278.7 422.1 277.5 421.7 276.5 422.0C275.5 422.3 273.7 422.9 272.7 423.5C271.8 424.1 270.4 425.5 269.7 426.5C269.1 427.5 268.5 429.7 268.2 430.2M268.4 431.4C268.5 431.7 269.0 433.4 269.5 433.9C269.9 434.3 270.8 434.5 271.3 434.3C271.8 434.1 272.4 432.8 272.9 432.5C273.5 432.1 274.4 431.7 275.1 431.7C275.8 431.7 277.1 432.3 277.8 432.5C278.4 432.6 279.6 432.4 279.6 432.8C279.6 433.2 278.3 434.4 277.8 435.2C277.3 435.9 276.3 437.2 276.0 437.9C275.6 438.6 275.2 439.6 275.3 440.0C275.4 440.5 276.2 441.2 276.7 441.1C277.2 441.0 278.2 440.0 278.9 439.5C279.6 439.0 280.7 437.9 281.6 437.3C282.5 436.8 284.3 436.0 285.4 435.7C286.5 435.4 288.2 435.2 289.2 435.4C290.2 435.6 292.3 436.8 292.4 437.1C292.5 437.4 290.6 437.2 289.7 437.3C288.9 437.5 287.3 437.8 286.5 438.2C285.6 438.6 284.4 439.4 283.8 440.0C283.1 440.7 282.2 442.0 281.8 442.8C281.4 443.5 281.0 444.8 281.0 445.5C281.1 446.2 282.5 447.2 282.5 447.6C282.4 448.1 281.0 448.3 280.5 448.7C280.0 449.1 279.0 449.7 278.7 450.3C278.4 451.0 278.2 452.3 278.3 453.0C278.5 453.8 279.2 455.1 279.6 455.5C280.1 456.0 280.8 456.3 281.6 456.3C282.4 456.2 284.3 455.4 285.4 455.2C286.5 455.0 288.0 454.8 289.2 454.7C290.3 454.5 292.3 454.4 293.5 454.1C294.7 453.8 296.4 453.0 297.3 452.5C298.2 452.0 299.2 451.0 300.0 450.3C300.8 449.7 301.9 448.5 302.7 448.0C303.5 447.4 304.7 446.5 305.4 446.2C306.1 445.9 307.7 445.7 307.8 446.0C308.0 446.3 307.0 447.7 306.5 448.4C306.0 449.1 305.0 450.1 304.3 450.9C303.6 451.6 302.4 452.9 301.6 453.6C300.9 454.3 299.8 455.3 298.9 455.8C298.1 456.2 296.7 456.8 295.7 457.1C294.7 457.3 293.0 457.6 291.9 457.7C290.8 457.8 289.1 457.8 288.1 457.9C287.1 458.1 285.6 458.4 284.8 458.8C284.1 459.1 282.9 459.7 282.7 460.3C282.4 460.9 282.9 462.1 283.2 462.8C283.6 463.5 284.4 464.8 285.1 465.5C285.7 466.2 286.9 467.3 287.5 467.9C288.2 468.5 289.0 469.3 289.7 469.6C290.4 469.9 291.8 470.0 292.4 469.8C293.1 469.6 293.9 468.8 294.4 468.2C294.8 467.6 295.3 466.4 295.7 465.5C296.1 464.7 296.8 463.2 297.3 462.3C297.8 461.3 298.4 459.9 298.9 459.0C299.5 458.2 300.3 456.9 301.1 456.3C301.9 455.6 303.3 454.9 304.3 454.5C305.4 454.0 307.4 453.4 308.7 453.0C309.9 452.7 311.7 452.2 313.0 452.0C314.3 451.7 317.3 451.3 317.9 451.4C318.4 451.6 317.5 452.7 316.8 453.0C316.1 453.4 314.1 453.8 313.0 454.1C311.9 454.4 310.2 454.9 309.2 455.2C308.2 455.6 306.8 456.1 306.0 456.6C305.1 457.2 304.0 458.2 303.3 459.0C302.6 459.8 301.6 461.3 301.1 462.3C300.5 463.2 299.9 464.6 299.5 465.5C299.1 466.4 298.5 467.9 298.4 468.8C298.3 469.6 298.4 470.8 298.7 471.5C299.0 472.1 299.9 473.1 300.5 473.3C301.2 473.5 302.6 472.5 303.3 472.5C304.0 472.6 304.6 473.7 305.4 474.0C306.2 474.2 307.7 474.4 308.7 474.4C309.6 474.3 311.2 474.0 311.9 473.6C312.7 473.2 313.3 472.2 313.9 471.5C314.4 470.8 315.1 469.4 315.7 468.8C316.4 468.1 317.6 467.5 318.4 467.1C319.3 466.8 320.9 466.6 321.7 466.4C322.4 466.1 323.7 465.2 323.8 465.5C324.0 465.8 323.1 467.4 322.8 468.2C322.4 469.0 321.8 470.2 321.5 470.9C321.1 471.6 320.4 472.7 320.6 473.1C320.8 473.5 321.8 473.8 322.8 473.6C323.7 473.5 325.9 472.5 327.1 472.0C328.3 471.5 330.3 470.5 331.4 469.8C332.5 469.1 333.7 468.0 334.7 467.1C335.6 466.3 337.2 464.9 337.9 463.9C338.6 462.9 339.2 461.2 339.6 460.1C339.9 459.0 340.0 457.4 340.3 456.3C340.6 455.2 341.2 453.2 341.7 452.5C342.2 451.8 343.3 452.0 343.9 451.4C344.4 450.8 344.9 449.2 345.5 448.2C346.1 447.2 347.4 445.2 348.2 444.4C349.1 443.5 350.5 442.8 351.5 442.2C352.5 441.7 355.0 440.4 355.3 440.6C355.5 440.7 353.9 442.4 353.1 443.3C352.3 444.1 350.8 445.5 349.8 446.5C348.9 447.5 347.3 449.2 346.6 450.3C345.8 451.5 345.0 453.6 344.6 454.7C344.3 455.8 344.2 457.1 344.4 457.9C344.6 458.7 345.3 459.7 346.1 460.1C346.8 460.5 348.5 460.4 349.8 460.6C351.2 460.9 355.0 461.3 355.3 461.7C355.6 462.1 353.1 462.9 352.0 463.3C350.9 463.8 348.9 464.1 347.7 464.6C346.4 465.2 344.5 466.4 343.3 467.1C342.2 467.9 340.4 469.0 339.6 469.8C338.7 470.7 338.2 472.1 337.4 472.9C336.5 473.6 334.8 474.6 333.6 475.3C332.4 475.9 330.5 476.7 329.3 477.2C328.0 477.7 326.1 478.1 324.9 478.5C323.8 478.9 321.9 479.4 321.1 479.8C320.3 480.2 319.4 480.9 319.3 481.5C319.1 482.2 319.7 483.6 320.0 484.5C320.4 485.3 321.1 486.8 321.7 487.7C322.2 488.6 323.2 490.0 323.8 491.0C324.5 492.0 325.4 493.7 326.0 494.8C326.6 495.8 327.6 497.5 328.2 498.5C328.8 499.6 329.6 501.1 330.3 501.8C331.0 502.5 332.2 503.2 333.0 503.4C333.9 503.7 335.7 503.1 336.0 503.4C336.2 503.7 335.2 505.2 334.7 505.6C334.1 506.0 332.8 506.3 332.0 506.1C331.1 506.0 329.6 505.3 328.7 504.7C327.9 504.1 326.7 502.8 326.0 501.8C325.3 500.8 324.5 499.2 323.8 498.0C323.2 496.8 322.3 494.8 321.7 493.7C321.1 492.6 320.1 491.4 319.5 490.4C318.9 489.5 318.0 488.0 317.3 487.2C316.7 486.3 315.9 485.1 315.2 484.5C314.5 483.9 313.4 483.3 312.5 483.1C311.5 482.8 309.8 482.9 308.7 482.8C307.5 482.7 305.6 482.5 304.3 482.3C303.1 482.1 300.8 481.2 300.0 481.5C299.2 481.8 299.0 483.5 298.7 484.5C298.4 485.4 298.2 487.2 298.2 488.3C298.1 489.3 298.2 491.0 298.4 492.0C298.5 493.1 298.9 494.8 299.1 495.8C299.3 496.8 299.4 498.3 299.8 499.1C300.1 499.9 300.9 500.7 301.6 501.3C302.4 501.8 304.1 502.3 304.9 502.9C305.7 503.4 306.5 504.2 307.0 505.0C307.6 505.9 308.2 507.8 308.7 508.8C309.1 509.9 309.8 511.5 310.3 512.6C310.8 513.7 311.5 515.4 311.9 516.4C312.4 517.4 313.0 518.8 313.5 519.7C314.1 520.5 315.6 522.1 315.7 522.4C315.8 522.7 314.6 522.0 314.1 521.8C313.5 521.7 312.4 521.2 311.9 521.3C311.4 521.4 310.7 521.9 310.6 522.4C310.5 522.8 310.9 524.0 311.4 524.6C311.9 525.1 313.1 525.9 314.1 526.2C315.1 526.5 317.2 526.6 318.4 526.7C319.7 526.8 321.6 526.9 322.8 526.7C323.9 526.5 326.2 525.0 326.5 525.1C326.9 525.2 325.5 526.8 324.9 527.3C324.4 527.7 323.1 527.9 322.8 528.0M253.4 444.4C253.9 444.2 255.7 443.4 256.7 443.3C257.7 443.2 259.5 443.3 260.5 443.6C261.5 444.0 262.9 445.1 263.7 445.8C264.5 446.5 265.7 447.8 266.2 448.7C266.7 449.7 267.1 451.3 267.5 452.5C267.9 453.7 268.7 455.6 269.1 456.8C269.6 458.1 270.3 460.0 270.8 461.2C271.2 462.3 271.9 464.0 272.4 465.0C272.9 466.0 273.9 467.3 274.2 468.2C274.5 469.1 274.2 470.7 274.5 471.5C274.9 472.2 276.0 472.8 276.7 473.3C277.4 473.8 278.7 474.7 279.4 474.7C280.1 474.8 281.0 473.6 281.6 473.6C282.1 473.7 283.0 474.6 283.2 475.3C283.4 476.0 283.0 477.5 282.9 478.5C282.8 479.5 282.5 481.3 282.7 482.3C282.8 483.3 283.3 484.8 283.8 485.5C284.2 486.3 285.3 487.3 285.9 487.7C286.6 488.1 288.0 488.7 288.3 488.5C288.6 488.2 288.3 486.7 288.1 486.1C287.9 485.4 287.1 484.7 286.8 483.9C286.5 483.1 286.1 481.5 286.1 480.7C286.2 479.9 286.6 478.8 287.0 478.3C287.4 477.8 288.6 477.3 289.2 477.4C289.8 477.5 290.9 478.4 291.3 479.0C291.8 479.7 292.3 480.9 292.4 481.8C292.6 482.6 292.7 484.2 292.4 485.0C292.2 485.9 291.3 487.2 290.8 487.7C290.3 488.3 289.1 488.4 289.2 488.8C289.2 489.2 290.6 489.9 291.3 490.2C292.0 490.5 293.4 490.6 294.0 491.0C294.7 491.3 295.4 492.1 295.7 492.8C296.0 493.5 296.2 494.9 296.2 495.8C296.2 496.8 295.8 498.6 295.7 499.6C295.5 500.6 295.4 501.9 295.1 502.9C294.9 503.9 294.0 506.2 294.0 506.7C294.1 507.1 295.2 506.4 295.7 506.1C296.1 505.8 296.8 504.8 297.3 504.5C297.8 504.2 298.5 503.8 298.9 504.0C299.4 504.1 300.2 505.0 300.5 505.6C300.9 506.1 301.1 507.1 301.3 507.8C301.5 508.4 302.0 509.9 302.2 509.9C302.4 509.9 302.6 508.4 302.7 507.8C302.9 507.1 303.0 505.7 303.3 505.6C303.5 505.4 304.0 506.1 304.3 506.7C304.6 507.3 305.1 509.0 305.4 509.9C305.8 510.9 306.4 512.3 306.7 513.2C307.0 514.0 307.5 515.1 307.4 515.9C307.3 516.7 306.5 517.9 306.0 518.6C305.5 519.3 304.5 520.1 303.8 520.8C303.1 521.4 301.9 522.3 301.1 522.9C300.3 523.5 299.1 524.5 298.4 525.1C297.7 525.7 296.5 526.9 296.2 527.3M253.4 444.4C253.4 444.6 253.3 445.4 253.4 446.0C253.5 446.6 253.7 447.9 254.3 448.4C254.8 448.9 256.5 449.0 257.2 449.3C257.9 449.5 259.0 449.9 259.4 450.3C259.7 450.8 259.9 452.0 259.7 452.5C259.5 453.0 258.9 453.8 258.3 454.1C257.7 454.4 256.4 454.2 255.6 454.5C254.7 454.7 253.3 455.6 252.3 455.8C251.4 455.9 249.8 455.3 249.1 455.5C248.3 455.8 247.6 456.6 247.1 457.4C246.7 458.2 246.2 460.3 246.1 461.2C245.9 462.0 246.0 462.8 246.4 463.3C246.7 463.9 248.0 464.5 248.5 465.0C249.1 465.4 249.8 466.0 250.2 466.6C250.6 467.2 250.8 468.6 251.3 469.3C251.7 470.0 252.8 470.9 253.4 471.5C254.0 472.0 255.7 472.8 255.6 473.1C255.5 473.4 253.7 473.4 252.9 473.3C252.1 473.2 250.7 473.0 250.2 472.5C249.6 472.1 249.3 471.0 248.9 470.4C248.5 469.8 248.0 468.7 247.5 468.2C246.9 467.7 245.9 467.1 245.3 467.1C244.7 467.1 243.5 467.6 243.1 468.2C242.7 468.8 242.4 470.5 242.4 471.5C242.4 472.4 242.8 473.9 243.1 474.7C243.5 475.6 244.4 476.7 244.8 477.4C245.1 478.1 246.0 479.2 245.8 479.6C245.7 479.9 244.3 479.7 243.7 479.8C243.0 480.0 241.7 480.2 241.3 480.7C240.9 481.1 240.4 482.3 240.6 482.8C240.8 483.4 241.9 484.2 242.6 484.5C243.2 484.8 244.8 484.6 245.3 485.0C245.8 485.4 245.9 486.5 246.4 487.0C246.8 487.4 247.8 488.2 248.5 488.0C249.2 487.9 250.5 486.4 251.3 486.1C252.0 485.8 253.5 485.6 253.6 485.9C253.8 486.2 252.6 487.5 252.3 488.3C252.1 489.0 252.3 490.5 251.8 491.0C251.3 491.4 249.9 491.5 249.1 491.5C248.2 491.5 246.8 491.2 245.8 491.0C244.9 490.7 243.5 489.9 242.6 489.6C241.7 489.2 240.0 488.4 239.3 488.3C238.7 488.1 238.3 488.3 238.3 488.8C238.2 489.3 238.9 491.0 239.1 492.0C239.3 493.1 239.5 494.8 239.9 495.8C240.2 496.9 241.0 498.6 241.5 499.6C242.0 500.6 243.0 502.2 243.7 502.9C244.3 503.6 245.1 504.4 245.8 504.5C246.6 504.6 248.2 503.9 249.1 503.4C250.0 503.0 251.9 501.3 252.3 501.3C252.7 501.3 252.2 502.8 251.8 503.4C251.4 504.0 250.3 505.0 249.6 505.6C248.9 506.1 247.5 506.8 246.9 507.2C246.3 507.7 245.6 508.2 245.3 508.8C245.0 509.5 244.4 510.9 244.5 511.5C244.7 512.2 245.8 513.1 246.4 513.7C246.9 514.3 247.8 515.9 248.5 515.9C249.2 515.9 250.5 514.2 251.3 513.7C252.0 513.2 253.4 512.1 254.0 512.3C254.5 512.5 254.6 515.1 255.0 515.3C255.5 515.6 256.5 514.7 257.2 514.3C257.9 513.8 259.1 512.6 259.9 512.1C260.7 511.5 261.9 510.4 262.6 510.5C263.3 510.5 264.1 512.2 264.8 512.6C265.5 513.0 266.7 513.1 267.5 513.2C268.4 513.3 270.8 513.2 270.8 513.4C270.8 513.6 268.4 514.4 267.5 514.8C266.7 515.2 265.4 515.3 264.8 515.9C264.2 516.4 263.8 518.0 263.2 518.6C262.5 519.2 261.3 519.7 260.5 520.2C259.6 520.8 258.0 521.8 257.2 522.4C256.4 523.0 255.5 523.9 255.0 524.6C254.6 525.2 254.1 526.9 254.0 527.3M254.0 527.2C254.2 527.6 254.9 528.9 255.6 529.4C256.4 529.9 259.1 530.1 259.4 530.6C259.6 531.1 257.6 532.0 257.5 532.8C257.4 533.5 257.9 535.0 258.8 535.6C259.6 536.2 261.9 536.6 263.1 536.9C264.4 537.1 267.3 537.2 267.5 537.5C267.7 537.8 265.2 538.6 264.4 539.0C263.6 539.4 262.1 539.9 261.9 540.6C261.7 541.3 262.5 542.9 263.1 543.8C263.8 544.6 265.2 546.1 266.2 546.9C267.3 547.6 269.4 548.6 270.6 549.0C271.9 549.4 274.2 550.0 275.0 549.8C275.8 549.5 276.2 548.2 276.2 547.5C276.2 546.8 274.9 544.9 275.0 544.8C275.1 544.6 276.2 545.6 276.9 546.2C277.6 546.9 279.4 549.0 280.0 549.4C280.6 549.7 281.3 549.6 281.2 548.8C281.2 547.9 279.8 544.8 279.4 543.1C278.9 541.4 277.9 537.1 278.1 536.9C278.3 536.6 279.9 539.9 280.6 541.2C281.3 542.6 282.5 545.1 283.1 546.2C283.8 547.4 284.6 549.4 285.0 549.4C285.4 549.4 286.0 547.4 286.2 546.2C286.5 545.1 286.8 542.5 286.9 541.2C286.9 540.0 286.3 537.9 286.5 537.5C286.7 537.1 287.7 538.3 288.1 538.8C288.5 539.2 289.0 540.9 289.4 540.6C289.7 540.4 290.5 537.9 290.6 536.9C290.7 535.8 290.2 534.3 290.0 533.1C289.8 532.0 289.3 530.1 289.4 528.8C289.5 527.4 290.4 523.8 290.6 523.8C290.9 523.7 291.1 526.8 291.2 528.1C291.4 529.5 291.6 532.7 291.9 533.1C292.1 533.6 292.7 532.0 293.1 531.2C293.6 530.5 294.6 528.7 295.0 528.1C295.4 527.6 296.1 527.4 296.2 527.2M322.8 528.0C322.6 528.2 322.5 528.9 321.9 529.4C321.2 529.8 319.1 531.0 318.1 531.0C317.1 531.0 316.0 529.8 315.0 529.4C314.0 529.0 312.3 528.4 311.2 528.1C310.2 527.8 308.6 527.2 307.5 527.2C306.4 527.3 304.8 528.4 303.8 528.8C302.7 529.1 301.0 529.6 300.0 530.0C299.0 530.4 297.5 531.1 296.9 531.9C296.2 532.7 296.0 534.6 295.6 535.6C295.2 536.7 294.4 538.3 294.0 539.4C293.6 540.4 293.2 542.1 293.1 543.1C293.1 544.2 293.6 546.0 293.5 546.9C293.4 547.8 292.3 548.8 292.5 549.4C292.7 549.9 294.1 550.6 295.0 550.6C295.9 550.6 297.9 549.9 298.8 549.4C299.6 548.8 300.3 547.7 300.6 546.9C301.0 546.1 301.1 543.7 301.2 543.8C301.4 543.8 301.9 546.4 301.9 547.5C301.8 548.6 300.7 550.8 301.0 551.2C301.3 551.7 303.0 551.0 303.8 550.6C304.5 550.3 305.6 549.5 306.2 548.8C306.9 548.0 307.8 546.5 308.1 545.6C308.4 544.7 308.4 543.4 308.5 542.5C308.6 541.6 308.7 539.3 308.8 539.4C308.8 539.5 309.0 542.1 309.0 543.1C309.0 544.2 308.1 546.1 308.5 546.9C308.9 547.7 311.8 548.4 311.9 548.8C312.0 549.1 310.0 548.9 309.4 549.4C308.8 549.8 308.0 551.2 307.5 551.9C307.0 552.6 306.1 553.7 305.6 554.4C305.2 555.1 304.5 556.1 304.4 556.9C304.3 557.7 304.7 559.1 305.0 560.0C305.3 560.9 306.1 562.2 306.2 563.1C306.4 564.0 305.9 565.6 306.2 566.2C306.6 566.9 308.0 567.5 308.8 567.5C309.5 567.5 310.6 566.2 311.2 566.2C311.9 566.3 312.5 568.0 313.1 568.1C313.8 568.2 315.0 567.5 315.6 566.9C316.2 566.2 317.0 564.7 317.5 563.8C318.0 562.8 318.8 561.2 319.4 560.0C319.9 558.8 320.9 555.8 321.2 555.0C321.6 554.2 322.0 553.8 321.9 554.4C321.8 555.0 321.2 557.9 320.6 559.4C320.1 560.9 318.8 563.6 318.1 565.0C317.4 566.4 316.4 568.5 315.6 569.4C314.8 570.3 313.5 571.0 312.5 571.2C311.5 571.5 309.7 571.5 308.8 571.2C307.8 571.0 306.4 570.1 305.6 569.4C304.8 568.7 303.8 567.2 303.1 566.2C302.5 565.3 301.8 563.5 301.2 562.5C300.7 561.5 300.0 560.1 299.4 559.4C298.8 558.7 297.7 557.8 296.9 557.5C296.1 557.2 294.6 557.2 293.8 557.2C292.9 557.3 291.8 557.6 291.2 558.1C290.7 558.6 289.9 559.8 289.8 560.6C289.6 561.4 289.8 562.9 290.0 563.8C290.2 564.6 290.9 566.0 291.2 566.9C291.6 567.8 292.0 569.2 292.5 570.0C293.0 570.8 294.4 571.8 295.0 572.5C295.6 573.2 296.9 574.4 296.9 575.0C296.9 575.6 295.8 576.5 295.0 576.9C294.2 577.2 292.2 577.3 291.2 577.5C290.3 577.7 288.9 577.7 288.1 578.1C287.3 578.6 286.3 579.8 285.6 580.6C284.9 581.4 283.8 582.9 283.1 583.8C282.4 584.6 281.1 585.4 280.6 586.2C280.2 587.1 280.0 588.4 280.0 589.4C280.0 590.4 280.1 592.4 280.6 593.1C281.2 593.8 282.9 594.1 283.8 594.4C284.6 594.6 286.4 595.4 286.9 595.0C287.4 594.6 287.2 592.3 287.2 591.2C287.2 590.2 286.8 587.5 286.9 587.5C286.9 587.5 287.6 590.1 287.8 591.2C287.9 592.4 287.5 594.9 288.1 595.6C288.7 596.3 291.2 596.7 291.9 596.2C292.5 595.8 292.3 592.5 292.5 592.5C292.7 592.5 292.7 595.8 293.1 596.2C293.6 596.7 295.0 596.1 295.6 595.6C296.2 595.2 297.0 593.6 297.5 593.1C298.0 592.7 298.8 592.2 299.4 592.5C299.9 592.8 300.6 594.3 301.2 595.0C301.9 595.7 302.9 597.0 303.8 597.5C304.6 598.0 306.5 598.7 307.5 598.8C308.5 598.8 309.9 598.5 310.6 598.1C311.3 597.8 312.2 597.1 312.5 596.2C312.8 595.4 312.5 593.5 312.5 592.5C312.5 591.5 312.3 589.3 312.5 589.4C312.7 589.5 313.4 592.2 313.8 593.1C314.1 594.0 314.3 595.3 315.0 595.6C315.7 596.0 317.7 595.7 318.8 595.6C319.8 595.5 321.8 595.5 322.5 595.0C323.2 594.5 323.8 592.8 323.8 591.9C323.8 590.9 322.3 588.7 322.5 588.5C322.7 588.3 324.4 590.0 325.0 590.6C325.6 591.3 326.2 592.7 326.9 593.1C327.5 593.6 328.7 593.5 329.4 593.8C330.1 594.0 331.4 594.3 331.9 595.0C332.3 595.7 332.6 597.8 332.5 598.8C332.4 599.7 331.2 601.4 331.2 601.9C331.3 602.3 332.4 602.1 333.1 601.9C333.8 601.7 335.3 601.1 336.2 600.6C337.2 600.2 339.0 599.4 340.0 598.8C341.0 598.1 342.3 597.0 343.1 596.2C343.9 595.5 345.0 594.6 345.6 593.8C346.3 592.9 347.3 591.6 347.8 590.6C348.2 589.6 348.8 587.9 348.8 586.9C348.8 585.8 348.1 583.8 347.8 583.1C347.4 582.4 346.7 581.8 346.2 581.9C345.8 582.0 344.9 583.7 344.4 583.8C343.8 583.8 342.9 583.2 342.5 582.5C342.1 581.8 341.9 579.6 341.5 578.8C341.1 577.9 340.6 576.7 340.0 576.2C339.4 575.8 338.0 575.4 337.5 575.6C337.0 575.8 336.7 577.4 336.2 577.5C335.8 577.6 335.0 576.7 334.4 576.2C333.8 575.8 332.7 574.7 331.9 574.4C331.1 574.1 329.7 573.9 328.8 574.0C327.8 574.1 325.4 575.1 325.0 575.0C324.6 574.9 325.6 573.5 326.2 573.1C326.9 572.7 328.9 572.7 329.4 572.2C329.9 571.8 330.0 570.7 329.8 570.0C329.5 569.3 327.6 567.6 327.5 567.5C327.4 567.4 328.8 568.8 329.4 569.4C330.0 570.0 331.1 571.3 331.9 571.9C332.7 572.4 334.0 572.9 335.0 573.1C336.0 573.3 337.6 573.2 338.8 573.1C339.9 573.0 342.1 572.9 343.1 572.5C344.2 572.1 345.5 571.3 346.2 570.6C347.0 569.9 347.8 568.5 348.1 567.5C348.5 566.5 348.7 564.8 348.8 563.8C348.8 562.7 348.5 561.1 348.5 560.0C348.5 558.9 348.4 556.9 349.0 556.2C349.6 555.6 351.5 555.7 352.5 555.6C353.5 555.5 355.1 555.8 356.2 555.6C357.4 555.4 359.8 555.0 360.6 554.4C361.4 553.8 361.5 552.1 361.9 551.2C362.2 550.4 362.7 549.1 363.1 548.1C363.5 547.1 364.8 545.2 364.8 544.4C364.7 543.6 363.2 543.0 362.5 542.5C361.8 542.0 360.6 541.1 360.0 540.6C359.4 540.2 357.9 539.6 358.1 539.4C358.4 539.1 360.8 539.0 361.9 538.8C362.9 538.5 364.6 538.0 365.6 537.5C366.6 537.0 368.2 535.7 368.8 535.0C369.3 534.3 369.9 533.2 369.8 532.5C369.6 531.8 368.3 530.6 367.5 530.0C366.7 529.4 365.2 528.7 364.4 528.1C363.6 527.6 362.5 526.8 361.9 526.2C361.2 525.7 360.8 524.7 360.0 524.4C359.2 524.1 357.3 523.9 356.2 524.0C355.2 524.1 353.5 524.7 352.5 525.0C351.5 525.3 350.2 526.3 349.4 526.2C348.6 526.2 347.4 524.9 346.9 524.4C346.3 523.8 345.2 522.7 345.6 522.5C346.1 522.3 348.7 523.1 350.0 523.1C351.3 523.1 353.6 522.7 355.0 522.5C356.4 522.3 358.8 521.4 360.0 521.5C361.2 521.6 362.7 522.8 363.8 523.1C364.8 523.4 366.8 524.0 367.5 523.8C368.2 523.5 368.8 522.1 369.0 521.2C369.2 520.4 369.2 518.5 368.8 518.1C368.3 517.8 366.5 518.9 365.6 518.8C364.7 518.6 363.4 517.5 362.5 516.9C361.6 516.2 360.1 515.2 359.4 514.4C358.7 513.6 358.1 512.1 357.5 511.2C356.9 510.4 354.8 508.9 355.0 508.8C355.2 508.6 357.6 509.6 358.8 510.0C359.9 510.4 361.9 511.7 363.1 511.9C364.4 512.1 366.2 511.4 367.5 511.2C368.8 511.1 370.7 511.0 371.9 510.6C373.0 510.3 374.9 509.5 375.6 508.8C376.3 508.0 376.8 506.5 376.9 505.6C377.0 504.7 376.6 503.3 376.2 502.5C375.9 501.7 375.3 500.8 374.4 500.0C373.5 499.2 370.6 497.4 370.0 497.0M240.0 534.4C240.4 534.6 241.7 535.5 242.5 536.2C243.3 537.0 244.7 538.6 245.6 539.4C246.5 540.2 248.2 541.1 248.8 541.9C249.3 542.7 249.8 544.1 249.8 545.0C249.7 545.9 248.2 547.2 248.1 548.1C248.1 549.0 249.5 550.4 249.4 551.2C249.3 552.1 248.2 553.6 247.5 554.4C246.8 555.2 245.4 556.3 244.4 556.9C243.3 557.4 240.6 557.9 240.0 558.1M241.9 562.5C242.3 561.8 243.4 560.9 244.4 560.6C245.4 560.3 247.4 560.3 248.8 560.2C250.1 560.2 252.4 560.1 253.8 560.2C255.1 560.4 257.3 560.6 258.1 561.0C259.0 561.4 259.7 562.4 259.8 563.1C259.8 563.9 259.2 565.4 258.8 566.2C258.3 567.1 257.8 568.3 256.9 568.8C256.0 569.2 253.8 569.4 252.5 569.4C251.2 569.4 248.8 568.9 247.5 568.8C246.2 568.6 244.0 568.6 243.1 568.1C242.3 567.7 241.7 566.4 241.5 565.6C241.3 564.8 241.5 563.2 241.9 562.5ZM271.5 566.2C271.8 565.6 272.8 564.3 273.5 564.0C274.2 563.7 275.5 563.7 276.2 564.0C277.0 564.3 278.1 565.4 278.8 566.2C279.4 567.1 280.4 568.9 280.6 570.0C280.8 571.1 280.4 572.9 280.0 573.8C279.6 574.6 278.2 575.8 277.5 575.9C276.8 576.0 275.5 575.0 274.8 574.4C274.0 573.7 272.8 572.1 272.2 571.2C271.8 570.4 271.4 569.2 271.2 568.5C271.1 567.8 271.2 566.9 271.5 566.2ZM240.0 580.0C240.5 579.9 242.7 578.9 243.8 579.0C244.8 579.1 246.3 580.1 247.5 580.6C248.7 581.1 250.6 582.1 251.9 582.5C253.1 582.9 255.2 583.1 256.2 583.8C257.3 584.4 258.8 585.9 259.4 586.9C259.9 587.9 260.1 589.6 260.0 590.6C259.9 591.7 259.1 593.7 258.8 594.4C258.4 595.1 257.2 596.0 257.5 595.6C257.8 595.3 259.6 592.6 260.6 591.9C261.7 591.2 263.8 591.0 265.0 590.6C266.2 590.3 268.2 589.4 269.4 589.4C270.5 589.4 272.3 590.1 273.1 590.6C273.9 591.2 275.2 592.7 275.0 593.1C274.8 593.6 272.6 593.5 271.9 593.8C271.1 594.0 269.5 594.5 269.8 594.8C270.0 595.0 272.6 595.3 273.8 595.6C274.9 595.9 277.0 596.5 278.1 596.9C279.3 597.2 281.2 597.7 281.9 598.1C282.6 598.6 283.3 599.5 283.1 600.0C282.9 600.5 281.6 601.2 280.6 601.5C279.6 601.8 277.4 601.9 276.2 601.9C275.1 601.8 273.6 601.4 272.8 601.2C271.9 601.1 269.9 600.4 270.0 600.6C270.1 600.9 272.1 602.4 273.1 603.1C274.1 603.8 275.9 604.8 276.9 605.6C277.9 606.4 279.1 607.9 280.0 608.8C280.9 609.6 282.8 610.4 283.1 611.2C283.5 612.1 282.9 613.6 282.5 614.4C282.1 615.2 280.4 616.2 280.6 616.9C280.8 617.5 283.0 618.9 283.8 618.8C284.5 618.6 285.0 615.8 285.6 615.6C286.2 615.4 287.3 617.3 288.1 617.5C288.9 617.7 290.4 617.1 291.2 616.9C292.1 616.6 292.9 615.4 293.8 615.6C294.6 615.8 296.0 617.4 296.9 618.1C297.8 618.8 299.2 620.4 300.0 620.6C300.8 620.8 302.2 619.8 302.5 619.4C302.8 618.9 301.5 617.9 301.9 617.5C302.2 617.1 304.0 616.7 305.0 616.2C306.0 615.8 307.8 614.9 308.8 614.4C309.7 613.8 311.0 613.0 311.9 612.5C312.8 612.0 314.0 610.7 315.0 610.6C316.0 610.5 317.7 611.9 318.8 611.9C319.8 611.9 321.4 610.8 322.5 610.6C323.6 610.4 325.3 610.4 326.2 610.6C327.2 610.9 328.7 612.0 329.4 612.5C330.1 613.0 330.5 614.0 331.2 614.4C332.0 614.7 333.6 614.6 334.4 615.0C335.2 615.4 336.2 616.8 336.9 617.5C337.5 618.2 338.3 619.2 338.8 620.0C339.2 620.8 339.7 622.4 339.8 623.1C339.8 623.8 339.4 624.7 339.4 625.0M240.0 589.4C240.4 589.7 241.8 591.3 242.5 591.9C243.2 592.4 244.8 592.6 245.0 593.1C245.2 593.7 243.6 594.9 243.8 595.6C243.9 596.3 245.5 597.5 246.2 598.1C247.0 598.8 247.9 599.8 248.8 600.0C249.6 600.2 251.4 599.8 252.5 599.8C253.6 599.7 255.3 599.7 256.2 599.4C257.2 599.1 258.8 597.4 259.4 597.5C260.0 597.6 260.3 599.2 260.6 600.0C261.0 600.8 261.4 602.1 261.9 603.1C262.3 604.1 263.2 605.8 263.8 606.9C264.3 607.9 265.3 609.6 265.6 610.6C266.0 611.7 266.3 613.3 266.2 614.4C266.2 615.4 265.4 617.1 265.0 618.1C264.6 619.2 263.8 620.9 263.8 621.9C263.7 622.9 264.3 624.6 264.4 625.0M249.8 607.5C249.9 606.7 251.4 606.0 251.9 606.2C252.3 606.5 252.8 608.5 252.9 609.4C253.0 610.2 252.8 611.8 252.5 612.1C252.2 612.5 251.0 612.5 250.6 611.9C250.2 611.2 249.6 608.3 249.8 607.5ZM275.6 586.2C275.9 585.6 277.5 585.2 278.1 585.2C278.8 585.3 279.7 586.1 280.0 586.9C280.3 587.6 280.3 589.6 280.2 590.6C280.2 591.6 279.8 593.4 279.4 593.8C278.9 594.1 277.7 593.7 277.2 593.1C276.8 592.6 276.2 591.0 276.0 590.0C275.8 589.0 275.3 586.9 275.6 586.2ZM338.8 608.8C338.8 608.0 339.5 606.5 340.0 605.6C340.5 604.8 341.7 603.1 342.2 602.8C342.8 602.4 343.6 602.9 343.8 603.5C343.9 604.1 343.4 605.9 343.1 606.9C342.8 607.8 342.0 609.5 341.5 610.0C341.0 610.5 339.8 610.8 339.4 610.6C339.0 610.4 338.7 609.5 338.8 608.8ZM219.6 488.8C220.1 488.0 221.9 487.6 222.8 487.5C223.7 487.4 225.4 487.4 226.0 488.0C226.6 488.6 227.2 490.6 227.3 492.0C227.4 493.4 227.0 496.2 226.8 497.6C226.6 499.0 226.1 501.3 225.7 501.6C225.2 501.9 224.2 500.8 223.6 500.0C223.0 499.2 221.8 497.0 221.2 496.0C220.6 495.0 219.5 493.8 219.3 492.8C219.1 491.8 219.1 489.6 219.6 488.8ZM187.9 516.0C188.6 515.0 191.1 514.3 192.4 513.9C193.7 513.6 195.9 513.3 197.2 513.6C198.5 513.9 200.3 515.0 201.2 516.0C202.1 517.0 203.1 519.2 203.6 520.8C204.1 522.4 204.1 526.7 204.4 527.2C204.7 527.7 205.3 524.7 206.0 524.0C206.7 523.3 208.2 522.3 209.2 522.4C210.2 522.5 212.1 523.8 212.9 524.8C213.6 525.8 213.7 528.3 214.5 529.6C215.2 530.9 217.0 532.3 218.0 533.6C219.0 534.9 220.7 536.9 221.2 538.4C221.7 539.9 221.2 542.6 221.5 544.0C221.9 545.4 223.0 546.7 223.6 548.0C224.2 549.3 225.6 551.4 225.7 552.8C225.8 554.2 225.1 556.6 224.4 557.6C223.7 558.6 221.9 559.7 220.9 559.7C219.9 559.7 218.0 558.6 217.2 557.6C216.4 556.6 215.8 554.1 215.1 552.8C214.4 551.5 213.4 549.7 212.4 548.8C211.4 547.9 209.5 546.9 208.4 546.4C207.3 545.9 205.4 545.5 204.4 545.6C203.4 545.7 201.8 546.5 201.2 547.2C200.6 547.9 200.3 550.6 200.4 550.4C200.5 550.2 202.1 546.5 202.0 545.6C201.9 544.7 200.4 544.0 199.6 544.0C198.8 544.0 197.3 545.8 196.4 545.9C195.5 546.0 194.0 545.4 193.2 544.8C192.4 544.2 191.0 542.5 190.8 541.6C190.6 540.7 190.9 538.9 191.6 538.4C192.3 537.9 194.5 538.3 195.6 537.9C196.7 537.6 199.2 536.8 199.6 536.0C200.0 535.2 199.1 532.8 198.5 532.0C197.9 531.2 196.5 530.7 195.6 530.4C194.7 530.1 192.7 530.2 192.4 529.6C192.1 529.0 192.6 526.7 193.2 526.4C193.8 526.1 196.3 527.4 196.4 527.2C196.5 527.0 194.8 525.3 194.0 524.8C193.2 524.3 191.4 524.6 190.5 524.0C189.6 523.4 188.0 521.9 187.6 520.8C187.2 519.7 187.2 517.0 187.9 516.0ZM229.5 532.8C230.0 531.8 232.1 530.6 233.2 530.4C234.3 530.2 236.2 530.8 237.2 531.5C238.2 532.2 239.5 534.2 240.4 535.2C241.3 536.2 242.6 537.6 243.6 538.4C244.6 539.2 246.7 539.9 247.6 540.8C248.5 541.7 249.6 543.5 249.7 544.8C249.8 546.1 248.5 548.3 248.4 549.6C248.3 550.9 249.7 552.7 249.2 553.6C248.7 554.5 246.3 555.4 245.2 556.0C244.1 556.6 242.2 557.6 241.2 558.1C240.2 558.5 238.8 559.6 238.0 559.2C237.2 558.8 236.3 556.2 235.6 555.2C234.9 554.2 233.2 552.9 233.2 552.0C233.2 551.1 235.9 549.6 235.9 548.8C235.9 548.0 233.8 547.3 233.2 546.4C232.6 545.5 232.1 543.7 231.6 542.4C231.1 541.1 230.3 539.0 230.0 537.6C229.7 536.2 229.1 533.8 229.5 532.8ZM205.5 559.2C205.8 558.6 207.2 557.3 208.1 557.1C208.9 556.9 210.8 557.2 211.6 557.6C212.4 558.0 214.0 559.3 214.0 560.0C214.0 560.7 212.7 561.9 211.9 562.4C211.1 562.9 209.2 563.3 208.4 563.2C207.6 563.1 206.4 562.2 206.0 561.6C205.6 561.0 205.2 559.8 205.5 559.2ZM184.4 561.9C184.7 561.5 186.1 560.4 186.8 560.8C187.5 561.2 188.5 563.5 189.2 564.8C189.9 566.1 190.9 568.3 191.6 569.6C192.3 570.9 193.8 572.5 194.0 573.6C194.2 574.7 193.7 577.1 193.2 577.6C192.7 578.1 191.2 577.9 190.5 577.3C189.7 576.7 188.6 574.9 187.9 573.6C187.3 572.3 186.5 569.4 186.0 568.0C185.5 566.6 184.9 564.9 184.7 564.0C184.5 563.1 184.1 562.4 184.4 561.9ZM221.2 590.4C222.3 590.4 224.2 592.2 225.2 592.0C226.2 591.8 227.0 589.1 227.9 589.1C228.8 589.1 230.8 590.8 231.6 592.0C232.4 593.2 232.9 595.8 233.2 597.6C233.5 599.4 233.9 602.9 234.0 604.8C234.1 606.7 233.6 609.6 233.7 611.2C233.8 612.8 234.5 614.7 234.8 616.0C235.1 617.3 235.8 619.0 235.6 620.0C235.4 621.0 233.8 622.1 233.2 623.2C232.6 624.3 232.4 627.1 231.6 628.0C230.8 628.9 228.9 629.5 227.6 629.6C226.3 629.7 224.2 629.0 222.8 628.8C221.4 628.6 218.8 629.1 218.0 628.5C217.2 627.9 217.1 625.8 217.2 624.8C217.3 623.8 219.0 622.2 218.8 621.6C218.6 621.0 216.3 621.4 216.1 620.8C215.9 620.2 216.5 618.3 217.2 617.6C217.9 616.9 220.2 616.6 221.2 616.0C222.2 615.4 224.6 613.8 224.4 613.6C224.2 613.4 221.2 614.4 219.6 614.7C218.0 615.1 214.9 615.6 213.2 616.0C211.5 616.4 208.9 617.1 207.6 617.3C206.3 617.5 204.1 617.7 203.9 617.3C203.7 616.9 205.4 615.4 206.0 614.4C206.6 613.4 207.6 610.7 208.4 610.4C209.2 610.1 211.2 612.1 211.9 612.0C212.6 611.9 213.5 610.4 213.2 609.6C212.9 608.8 210.7 607.4 210.0 606.4C209.3 605.4 208.5 603.7 208.4 602.4C208.3 601.1 208.7 598.5 209.2 597.6C209.7 596.7 211.2 595.8 211.9 596.0C212.6 596.2 213.4 598.2 214.0 599.2C214.6 600.2 215.7 602.2 216.4 603.2C217.1 604.2 218.1 606.4 218.8 606.4C219.5 606.4 221.3 604.1 221.2 603.2C221.1 602.3 218.8 601.0 218.0 600.0C217.2 599.0 215.7 597.1 215.6 596.0C215.5 594.9 216.4 592.8 217.2 592.0C218.0 591.2 220.1 590.4 221.2 590.4ZM193.2 590.4C193.7 589.9 195.5 589.3 196.4 589.6C197.3 589.9 198.8 591.9 199.6 592.8C200.4 593.7 201.8 595.2 202.0 596.0C202.2 596.8 200.9 597.8 201.2 598.4C201.5 599.0 203.7 599.1 204.4 600.0C205.1 600.9 205.6 603.4 206.0 604.8C206.4 606.2 207.3 608.5 207.1 609.6C206.9 610.7 205.2 612.6 204.4 612.8C203.6 613.0 202.0 611.9 201.2 611.2C200.4 610.5 199.3 608.7 198.5 608.0C197.7 607.3 196.2 607.2 195.6 606.4C195.0 605.6 193.9 603.4 194.0 602.4C194.1 601.4 196.4 600.1 196.4 599.2C196.4 598.3 194.5 596.9 194.0 596.0C193.5 595.1 192.8 593.6 192.7 592.8C192.6 592.0 192.7 590.9 193.2 590.4ZM210.8 591.2C211.0 590.7 212.6 589.3 213.5 588.8C214.4 588.3 216.6 587.5 217.2 587.5C217.8 587.5 218.3 588.3 218.0 588.8C217.7 589.3 215.7 590.7 214.8 591.2C213.9 591.7 212.5 592.5 211.9 592.5C211.3 592.5 210.6 591.7 210.8 591.2ZM238.0 618.4C238.0 617.7 239.7 616.4 240.4 616.0C241.1 615.6 242.4 615.4 242.8 615.7C243.2 616.0 243.6 617.2 243.3 617.9C242.9 618.7 241.2 620.7 240.4 620.8C239.6 620.9 238.0 619.1 238.0 618.4ZM250.0 607.2C250.2 606.5 251.5 606.1 251.9 606.4C252.4 606.7 253.1 608.7 253.2 609.6C253.3 610.5 252.8 612.2 252.4 612.5C252.0 612.8 250.8 612.3 250.5 611.5C250.1 610.8 249.8 607.9 250.0 607.2ZM239.9 580.0C239.7 580.5 238.8 582.3 238.5 583.2C238.2 584.1 237.5 585.6 237.7 586.4C237.8 587.2 239.3 588.7 239.6 589.1M173.2 605.6C173.4 605.9 174.2 607.4 174.8 608.0C175.4 608.6 177.0 609.2 177.7 609.9C178.3 610.6 178.8 613.1 179.3 612.8C179.7 612.5 180.2 609.1 180.9 608.0C181.6 606.9 183.2 605.2 184.1 605.1C184.9 605.0 186.3 606.1 186.8 607.2C187.3 608.3 187.9 611.1 187.9 612.8C187.9 614.5 187.2 617.5 186.8 619.2C186.4 620.9 185.9 623.4 185.2 624.8C184.5 626.2 183.0 627.9 182.0 628.8C181.0 629.7 179.2 631.0 178.0 631.2C176.8 631.4 174.2 630.2 173.5 630.1M192.1 622.4C192.4 621.5 193.3 619.9 194.0 619.5C194.7 619.1 196.5 619.0 197.2 619.5C197.9 620.0 198.8 622.1 198.8 623.2C198.8 624.3 198.2 626.7 197.5 627.5C196.9 628.3 195.1 629.0 194.3 628.8C193.5 628.6 192.4 626.8 192.1 625.9C191.8 625.0 191.8 623.3 192.1 622.4ZM239.4 628.8C239.4 628.0 240.2 626.4 240.6 625.6C241.1 624.8 242.1 623.9 242.5 623.1C242.9 622.3 242.7 620.8 243.1 620.0C243.6 619.2 244.6 618.3 245.6 617.8C246.6 617.2 248.8 616.3 250.0 616.2C251.2 616.2 252.9 616.9 253.8 617.5C254.6 618.1 255.7 619.6 256.2 620.6C256.8 621.7 257.4 623.7 257.8 625.0C258.1 626.3 258.5 628.5 258.5 630.0C258.5 631.5 258.0 634.5 257.5 635.6C257.0 636.8 256.0 637.9 255.0 638.1C254.0 638.4 251.7 637.9 250.6 637.5C249.6 637.1 248.5 635.7 247.5 635.0C246.5 634.3 244.7 633.1 243.8 632.5C242.8 631.9 241.2 631.2 240.6 630.6C240.0 630.1 239.4 629.5 239.4 628.8ZM232.9 640.0C233.1 639.5 234.0 638.1 234.4 637.9C234.8 637.7 235.6 638.3 235.6 638.8C235.7 639.2 235.1 640.6 234.8 641.0C234.4 641.4 233.4 641.6 233.1 641.5C232.9 641.4 232.7 640.5 232.9 640.0ZM244.0 638.1C244.2 637.7 245.5 637.0 246.0 637.1C246.5 637.2 247.6 638.2 247.8 638.8C247.9 639.3 247.3 640.6 246.9 640.9C246.4 641.1 245.2 640.8 244.8 640.4C244.3 640.0 243.8 638.6 244.0 638.1ZM264.4 625.0C264.6 625.5 265.3 627.5 265.6 628.8C266.0 630.0 266.4 632.6 266.9 633.8C267.3 634.9 268.1 636.3 268.8 636.9C269.4 637.4 270.6 637.8 271.2 637.5C271.9 637.2 272.6 635.1 273.1 635.0C273.7 634.9 274.4 636.3 275.0 636.9C275.6 637.4 276.7 638.4 277.5 638.8C278.3 639.1 279.8 639.6 280.6 639.4C281.4 639.1 282.5 637.5 283.1 636.9C283.7 636.2 284.2 635.4 284.8 635.0C285.3 634.6 286.5 633.5 286.9 633.8C287.3 634.0 287.5 635.9 287.5 636.9C287.5 637.9 286.5 639.9 286.9 640.6C287.2 641.3 288.8 641.8 290.0 641.9C291.2 642.0 293.8 641.5 295.0 641.2C296.2 641.0 297.9 640.1 298.8 640.0C299.6 639.9 300.4 640.7 301.2 640.6C302.1 640.5 303.5 639.5 304.4 639.4C305.3 639.3 306.6 640.1 307.5 640.0C308.4 639.9 309.7 638.8 310.6 638.8C311.5 638.7 312.9 639.6 313.8 639.4C314.6 639.2 315.8 638.3 316.2 637.5C316.7 636.7 316.6 634.5 316.9 633.8C317.1 633.0 317.7 632.1 318.1 632.5C318.6 632.9 319.7 636.2 320.0 636.9M220.6 656.2C219.6 655.9 218.8 654.9 218.1 654.8C217.4 654.6 216.2 654.8 215.6 655.0C215.0 655.2 213.8 655.8 213.8 656.2C213.8 656.7 215.2 657.4 215.6 658.1C216.1 658.8 217.1 661.0 216.9 661.2C216.7 661.5 215.1 660.1 214.4 660.0C213.7 659.9 212.3 660.3 211.9 660.6C211.4 661.0 211.1 662.0 211.2 662.5C211.4 663.0 212.5 663.9 213.1 664.4C213.8 664.8 214.9 665.4 215.6 665.6C216.3 665.9 217.5 665.9 218.1 666.2C218.8 666.6 219.8 667.4 220.0 668.1C220.2 668.8 219.6 670.4 219.4 671.2C219.1 672.1 218.6 673.6 218.1 674.4C217.7 675.2 216.9 676.4 216.2 676.9C215.6 677.3 214.4 677.7 213.8 677.5C213.1 677.3 212.4 676.3 211.9 675.6C211.3 674.9 210.5 673.2 210.0 672.5C209.5 671.8 208.8 670.8 208.1 670.6C207.5 670.4 206.2 670.8 205.6 671.2C205.0 671.7 204.2 672.9 204.0 673.8C203.8 674.6 204.1 676.0 204.4 676.9C204.7 677.8 205.7 679.1 206.2 680.0C206.8 680.9 207.5 682.3 208.1 683.1C208.8 683.9 209.9 685.2 210.6 685.6C211.3 686.1 212.4 685.9 213.1 686.2C213.8 686.6 215.0 687.5 215.6 688.1C216.2 688.8 217.0 689.8 217.5 690.6C218.0 691.4 218.8 692.9 219.4 693.8C219.9 694.6 220.8 696.0 221.2 696.9C221.7 697.8 222.1 699.1 222.5 700.0C222.9 700.9 223.2 702.4 223.8 703.1C224.3 703.8 225.5 704.7 226.2 704.8C227.0 704.8 228.2 704.2 228.8 703.8C229.3 703.2 230.1 702.1 230.0 701.2C229.9 700.4 228.2 698.5 228.1 697.5C228.1 696.5 229.6 694.5 229.8 694.4C229.9 694.3 229.1 696.3 229.4 696.9C229.7 697.5 231.1 698.4 231.9 698.5C232.7 698.6 234.1 697.9 235.0 697.5C235.9 697.1 237.5 696.3 238.1 695.6C238.8 694.9 239.3 693.5 239.4 692.5C239.4 691.5 238.5 689.8 238.5 688.8C238.5 687.7 239.1 686.1 239.4 685.0C239.7 683.9 240.6 682.1 240.6 681.2C240.6 680.4 240.0 679.3 239.4 678.8C238.8 678.2 236.8 678.1 236.2 677.5C235.7 676.9 236.0 675.2 235.6 674.4C235.3 673.6 234.4 672.2 233.8 671.9C233.1 671.5 232.0 671.7 231.2 671.9C230.5 672.1 229.0 673.2 228.8 673.1C228.5 673.0 229.0 672.0 229.4 671.2C229.7 670.5 230.7 669.0 231.2 668.1C231.8 667.2 232.5 665.7 233.1 665.0C233.8 664.3 235.4 663.7 235.6 663.1C235.9 662.6 234.8 661.9 235.0 661.2C235.2 660.6 236.5 659.6 236.9 658.8C237.2 657.9 237.8 656.2 237.5 655.6C237.2 655.0 235.7 654.5 235.0 654.4C234.3 654.3 233.4 654.6 232.5 655.0C231.6 655.4 229.8 656.5 228.8 656.9C227.7 657.2 226.2 657.6 225.0 657.5C223.8 657.4 221.6 656.6 220.6 656.2ZM221.9 655.0C222.0 654.4 224.0 653.1 225.0 652.5C226.0 651.9 227.7 651.1 228.8 650.6C229.8 650.2 231.8 649.4 232.5 649.4C233.2 649.4 233.9 650.0 233.8 650.6C233.6 651.2 232.1 653.0 231.2 653.8C230.4 654.5 228.5 655.2 227.5 655.6C226.5 656.1 225.2 657.0 224.4 656.9C223.6 656.8 221.8 655.6 221.9 655.0ZM236.5 670.0C236.8 669.5 237.7 668.4 238.1 668.4C238.6 668.4 239.6 669.4 239.8 670.0C239.9 670.6 239.7 672.2 239.4 672.8C239.1 673.3 237.9 673.9 237.5 673.8C237.1 673.6 236.4 672.4 236.2 671.9C236.1 671.3 236.2 670.5 236.5 670.0ZM248.1 652.5C248.3 651.6 249.2 650.6 250.0 650.0C250.8 649.4 252.6 648.8 253.8 648.5C254.9 648.2 257.0 647.6 258.1 647.8C259.3 647.9 260.9 648.8 261.9 649.4C262.9 650.0 264.0 651.6 265.0 651.9C266.0 652.1 267.6 651.2 268.8 651.2C269.9 651.2 272.1 651.5 273.1 651.9C274.2 652.2 275.9 653.1 276.2 653.8C276.6 654.4 276.0 655.4 275.6 656.2C275.3 657.1 274.3 658.8 273.8 660.0C273.2 661.2 272.4 663.2 271.9 664.4C271.3 665.5 270.4 667.0 270.0 668.1C269.6 669.3 269.3 671.3 268.8 672.5C268.2 673.7 267.1 675.5 266.2 676.2C265.4 677.0 263.7 677.5 262.5 677.5C261.3 677.5 259.2 676.3 258.1 676.2C257.1 676.2 255.5 676.5 255.0 676.9C254.5 677.2 254.1 678.2 254.4 678.8C254.6 679.3 256.4 679.9 256.9 680.6C257.3 681.3 257.6 682.8 257.5 683.8C257.4 684.7 256.6 686.5 256.2 687.5C255.9 688.5 255.7 690.1 255.0 690.6C254.3 691.2 252.2 691.1 251.2 691.2C250.3 691.4 248.7 692.0 248.1 691.5C247.6 691.0 247.7 688.8 247.5 687.5C247.3 686.2 247.1 683.9 246.9 682.5C246.7 681.1 246.4 678.9 246.2 677.5C246.1 676.1 245.8 673.9 245.6 672.5C245.5 671.1 245.4 668.9 245.4 667.5C245.3 666.1 245.2 663.8 245.2 662.5C245.2 661.2 245.1 658.8 245.4 658.1C245.7 657.4 246.8 657.4 247.5 657.5C248.2 657.6 249.8 658.9 250.0 658.8C250.2 658.6 249.0 657.1 248.8 656.2C248.5 655.4 247.9 653.4 248.1 652.5ZM250.0 691.9C249.6 692.2 248.2 693.5 247.5 694.4C246.8 695.3 245.5 697.1 245.0 698.1C244.5 699.1 243.6 700.9 243.8 701.2C243.9 701.6 246.0 700.3 246.2 700.6C246.5 701.0 246.1 703.4 245.6 703.8C245.2 704.1 243.8 702.9 243.1 703.1C242.4 703.4 241.1 704.6 240.6 705.6C240.1 706.6 239.8 708.8 239.8 710.0C239.7 711.2 239.7 712.9 240.0 713.8C240.3 714.6 241.3 715.7 241.9 716.2C242.4 716.8 243.8 717.1 243.8 717.5C243.8 717.9 242.4 718.2 241.9 718.8C241.3 719.3 240.4 720.4 240.0 721.2C239.6 722.1 239.3 723.9 239.4 725.0C239.5 726.1 240.1 727.8 240.6 728.8C241.2 729.7 242.3 731.2 243.1 731.9C243.9 732.6 245.4 733.3 246.2 733.8C247.1 734.2 248.6 734.9 249.4 735.0C250.2 735.1 251.2 734.1 251.9 734.4C252.6 734.6 253.7 736.2 254.4 736.9C255.1 737.5 256.5 738.5 256.9 738.8M251.2 691.5C251.5 692.0 252.5 694.3 253.1 695.0C253.8 695.7 255.0 695.7 255.6 696.2C256.2 696.8 257.0 698.0 257.5 698.8C258.0 699.5 258.8 700.4 259.4 701.2C259.9 702.1 260.9 703.9 261.2 705.0C261.6 706.1 261.9 707.7 261.9 708.8C261.9 709.8 261.1 711.6 261.2 712.5C261.4 713.4 262.6 714.2 263.1 715.0C263.7 715.8 264.6 717.2 265.0 718.1C265.4 719.0 265.9 720.5 266.2 721.2C266.6 722.0 267.1 722.9 267.2 723.1M265.6 726.6C265.5 727.0 265.4 728.7 265.0 729.4C264.6 730.0 263.6 730.7 263.1 731.2C262.7 731.8 261.6 732.8 261.9 733.1C262.1 733.5 264.0 733.5 265.0 733.8C266.0 734.0 267.9 734.7 268.8 735.0C269.6 735.3 270.5 735.4 271.2 735.6C272.0 735.9 273.0 736.5 273.8 736.9C274.5 737.2 275.9 737.9 276.2 738.1M264.0 724.4C264.1 723.8 265.4 722.9 266.0 722.8C266.6 722.6 268.2 723.1 268.5 723.5C268.8 723.9 268.5 725.2 268.1 725.6C267.7 726.1 266.2 726.8 265.6 726.6C265.0 726.4 263.9 724.9 264.0 724.4ZM307.5 655.6C306.8 655.5 303.9 654.8 302.5 654.8C301.1 654.7 298.8 654.7 297.5 655.0C296.2 655.3 294.4 656.2 293.1 656.9C291.9 657.6 289.8 659.0 288.8 660.0C287.7 661.0 286.4 662.6 285.6 663.8C284.8 664.9 283.7 666.8 283.1 668.1C282.6 669.5 282.2 671.7 281.9 673.1C281.5 674.6 280.9 676.7 280.6 678.1C280.4 679.6 280.1 681.6 280.0 683.1C279.9 684.6 280.0 687.4 279.8 688.8C279.5 690.1 278.6 691.2 278.5 692.5C278.4 693.8 278.5 696.2 278.8 697.5C279.0 698.8 279.5 700.9 280.0 701.9C280.5 702.9 281.5 703.8 282.5 704.4C283.5 704.9 285.7 705.3 286.9 705.6C288.0 706.0 289.6 706.5 290.6 706.9C291.6 707.2 293.1 707.7 293.8 708.1C294.4 708.6 295.2 709.6 295.0 710.0C294.8 710.4 293.5 711.2 292.5 711.2C291.5 711.3 289.3 710.9 288.1 710.6C287.0 710.4 285.3 709.5 284.4 709.4C283.5 709.3 282.1 709.4 281.9 710.0C281.6 710.6 282.1 712.7 282.5 713.8C282.9 714.8 283.7 716.5 284.4 717.5C285.1 718.5 286.6 719.8 287.5 720.6C288.4 721.4 289.7 722.9 290.6 723.1C291.5 723.3 292.9 722.1 293.8 721.9C294.6 721.6 295.5 721.5 296.2 721.2C297.0 721.0 298.3 719.7 298.8 720.0C299.2 720.3 299.0 722.4 299.4 723.1C299.7 723.8 300.4 724.6 301.2 725.0C302.1 725.4 303.9 725.4 305.0 725.6C306.1 725.8 307.5 726.1 308.8 726.2C310.0 726.4 312.1 726.7 313.8 726.9C315.4 727.1 319.1 727.4 320.0 727.5M307.5 655.6C307.2 656.3 306.3 659.3 305.6 660.6C304.9 662.0 303.3 663.7 302.5 665.0C301.7 666.3 300.6 668.5 300.0 670.0C299.4 671.5 298.3 674.0 298.1 675.6C297.9 677.2 298.5 679.7 298.8 681.2C299.0 682.8 299.7 684.8 300.0 686.2C300.3 687.7 300.3 690.0 300.6 691.2C301.0 692.5 301.9 693.9 302.5 695.0C303.1 696.1 304.3 697.7 305.0 698.8C305.7 699.8 307.0 701.4 307.5 702.5C308.0 703.6 308.7 705.2 308.8 706.2C308.8 707.3 308.4 709.8 308.1 710.0C307.9 710.2 307.5 707.9 306.9 707.5C306.2 707.1 304.7 706.7 303.8 706.9C302.8 707.1 300.8 708.3 300.0 708.8C299.2 709.2 298.4 710.0 298.1 710.2M320.0 657.5C319.3 657.9 316.4 659.2 315.0 660.0C313.6 660.8 311.2 662.2 310.0 663.1C308.8 664.0 307.6 665.2 306.9 666.2C306.2 667.3 305.4 669.4 305.0 670.6C304.6 671.9 304.5 673.7 304.4 675.0C304.3 676.3 304.2 678.8 304.4 680.0C304.6 681.2 305.1 682.9 305.6 683.8C306.2 684.6 307.2 685.3 308.1 686.2C309.0 687.2 311.8 690.4 311.9 690.6C312.0 690.9 309.6 688.4 308.8 688.1C307.9 687.9 306.4 688.3 305.6 688.8C304.8 689.2 303.2 690.4 303.1 691.2C303.0 692.1 304.4 694.0 305.0 695.0C305.6 696.0 306.9 697.2 307.5 698.1C308.1 699.0 309.2 700.3 309.4 701.2C309.6 702.2 309.2 703.8 309.0 705.0C308.8 706.2 308.2 709.3 308.1 710.0M306.9 671.9L311.9 676.2M293.8 725.6C293.9 725.2 295.5 724.8 296.2 724.8C297.0 724.8 298.5 725.2 298.8 725.6C299.0 726.0 298.7 727.2 298.1 727.5C297.6 727.8 295.6 727.8 295.0 727.5C294.4 727.2 293.6 726.0 293.8 725.6ZM179.4 660.6C179.6 659.7 180.4 658.7 181.2 658.1C182.1 657.5 183.8 656.8 185.0 656.5C186.2 656.2 188.3 655.9 189.4 656.2C190.4 656.6 191.9 657.8 192.5 658.8C193.1 659.7 193.8 661.8 193.8 663.1C193.8 664.5 193.0 666.8 192.5 668.1C192.0 669.5 190.7 671.7 190.0 672.5C189.3 673.3 188.2 674.0 187.5 673.8C186.8 673.5 185.7 671.5 185.0 670.6C184.3 669.7 183.2 668.4 182.5 667.5C181.8 666.6 180.4 665.4 180.0 664.4C179.6 663.4 179.2 661.5 179.4 660.6ZM173.5 665.0C174.0 665.2 176.1 665.8 176.9 666.2C177.6 666.7 178.0 667.8 178.8 668.1C179.5 668.5 181.1 668.3 181.9 668.8C182.7 669.2 183.7 670.5 184.4 671.2C185.1 672.0 186.3 672.9 186.9 673.8C187.4 674.6 187.9 676.2 188.1 677.5C188.4 678.8 188.5 681.1 188.8 682.5C189.0 683.9 189.6 686.1 190.0 687.5C190.4 688.9 190.8 691.2 191.2 692.5C191.7 693.8 192.7 695.6 193.1 696.9C193.6 698.1 194.3 700.1 194.4 701.2C194.5 702.4 194.0 704.0 193.8 705.0C193.5 706.0 192.4 707.3 192.5 708.1C192.6 708.9 193.8 709.8 194.4 710.6C194.9 711.4 195.6 712.9 196.2 713.8C196.9 714.6 197.9 715.7 198.8 716.2C199.6 716.8 201.1 717.0 201.9 717.5C202.7 718.0 203.6 719.3 204.4 720.0C205.2 720.7 206.7 722.0 207.5 722.5C208.3 723.0 209.4 723.3 210.0 723.8C210.6 724.2 211.3 725.4 211.9 725.6C212.4 725.8 213.4 724.6 213.8 725.0C214.1 725.4 214.4 727.7 214.4 728.8C214.4 729.8 214.0 731.6 213.8 732.5C213.5 733.4 212.7 734.6 212.5 735.0M173.5 682.5C173.7 682.9 174.6 684.1 175.0 685.0C175.4 685.9 175.7 687.5 176.0 688.8C176.3 690.0 177.0 692.7 176.9 693.8C176.7 694.8 175.5 695.7 175.0 696.2C174.5 696.8 173.7 697.3 173.5 697.5M215.2 716.9C215.4 716.4 216.4 715.6 216.9 715.6C217.3 715.7 218.4 716.7 218.5 717.2C218.6 717.8 217.9 719.2 217.5 719.4C217.1 719.6 215.9 719.1 215.6 718.8C215.3 718.4 215.1 717.3 215.2 716.9ZM339.4 625.0C339.2 625.3 338.6 626.4 338.1 626.9C337.7 627.3 336.1 627.8 336.2 628.1C336.4 628.5 338.8 628.9 339.4 629.4C340.0 629.8 340.8 630.8 340.6 631.2C340.4 631.7 338.8 632.6 338.1 632.8C337.4 632.9 336.0 631.8 335.6 632.2C335.3 632.8 335.7 635.2 335.6 636.2C335.5 637.3 335.6 638.9 335.0 639.4C334.4 639.9 332.2 639.6 331.2 639.8C330.3 639.9 328.9 640.4 328.1 640.6C327.3 640.9 326.4 641.5 325.6 641.5C324.8 641.5 323.3 641.2 322.5 640.6C321.7 640.0 320.4 637.7 320.0 637.2M331.9 657.5C332.2 656.7 333.6 656.2 334.4 656.2C335.2 656.2 336.5 657.2 337.5 657.5C338.5 657.8 340.1 658.4 341.2 658.5C342.4 658.6 344.5 658.0 345.6 658.1C346.8 658.2 348.4 658.9 349.4 659.4C350.4 659.8 351.7 660.5 352.5 661.2C353.3 662.0 354.4 663.4 355.0 664.4C355.6 665.4 356.3 667.1 356.9 668.1C357.4 669.2 358.3 670.9 358.8 671.9C359.2 672.9 360.0 674.5 359.8 675.0C359.5 675.5 357.9 675.7 356.9 675.6C355.8 675.6 353.8 674.9 352.5 674.8C351.2 674.6 349.3 674.2 348.1 674.4C347.0 674.5 345.4 675.2 344.4 675.6C343.3 676.0 341.5 677.2 340.6 677.2C339.7 677.3 338.7 676.8 338.1 676.2C337.5 675.8 336.8 674.6 336.5 673.8C336.2 672.9 336.5 671.0 336.2 670.0C336.0 669.0 335.4 667.6 335.0 666.9C334.6 666.2 333.6 665.7 333.1 665.0C332.7 664.3 332.1 662.9 331.9 661.9C331.7 660.8 331.5 658.3 331.9 657.5ZM320.0 657.5C320.4 657.4 321.6 657.1 322.5 657.1C323.4 657.2 325.4 657.3 326.2 657.8C327.1 658.2 328.2 659.1 328.8 660.0C329.2 660.9 329.5 662.7 329.8 663.8C330.0 664.8 330.1 666.7 330.6 667.5C331.1 668.3 332.7 668.7 333.1 669.4C333.6 670.1 333.5 671.5 333.8 672.5C334.0 673.5 334.6 675.4 334.8 676.2C334.9 677.1 335.2 677.4 335.0 678.1C334.8 678.8 333.7 680.4 333.1 681.2C332.6 682.1 331.5 683.7 331.0 684.4C330.5 685.1 329.2 686.2 329.4 686.2C329.5 686.3 331.2 685.5 331.9 685.0C332.5 684.5 333.5 682.3 333.8 682.5C334.0 682.7 333.8 685.2 333.5 686.2C333.2 687.3 332.2 689.0 331.9 690.0C331.6 691.0 331.1 693.3 331.2 693.5C331.4 693.7 332.6 692.0 333.1 691.2C333.7 690.5 334.5 688.8 335.0 688.1C335.5 687.5 336.7 687.5 336.9 686.9C337.1 686.2 336.3 683.9 336.5 683.8C336.7 683.6 337.5 685.5 338.1 685.6C338.7 685.7 339.9 684.3 340.6 684.4C341.3 684.5 342.9 685.5 343.1 686.2C343.4 687.0 342.4 688.4 342.5 689.4C342.6 690.4 343.6 692.5 344.0 693.1C344.4 693.8 345.6 694.1 345.6 693.8C345.7 693.4 344.6 691.5 344.4 690.6C344.1 689.7 343.7 688.2 344.0 687.5C344.3 686.8 345.5 685.7 346.2 685.6C347.0 685.5 348.6 686.5 349.4 686.9C350.1 687.3 351.6 688.6 351.5 688.5C351.4 688.4 349.5 686.8 348.8 686.2C348.0 685.8 346.8 685.5 346.2 685.0C345.7 684.5 345.0 683.2 345.0 682.5C345.0 681.8 345.6 680.6 346.2 680.0C346.9 679.4 348.4 678.5 349.4 678.1C350.4 677.8 352.1 677.4 353.1 677.5C354.2 677.6 355.9 678.3 356.9 678.8C357.9 679.2 359.1 680.3 360.0 680.6C360.9 681.0 362.3 680.8 363.1 681.2C363.9 681.7 365.2 682.9 365.6 683.8C366.0 684.6 366.2 686.1 366.0 686.9C365.8 687.7 364.9 688.5 364.4 689.4C363.9 690.3 363.0 692.1 362.5 693.1C362.0 694.2 360.9 696.8 361.0 696.9C361.1 697.0 362.6 694.6 363.1 693.8C363.7 692.9 364.4 691.2 365.0 690.6C365.6 690.1 366.8 689.6 367.5 689.8C368.2 689.9 369.6 691.1 370.0 691.9C370.4 692.6 370.3 694.1 370.0 695.0C369.7 695.9 368.6 697.1 368.1 698.1C367.7 699.1 367.1 700.7 366.9 701.9C366.6 703.0 366.2 706.2 366.2 706.2C366.3 706.3 367.1 703.5 367.5 702.5C367.9 701.5 368.8 700.2 369.4 699.4C370.0 698.6 371.3 696.8 371.9 696.9C372.4 697.0 372.7 699.2 373.1 700.0C373.6 700.8 374.5 701.8 375.0 702.5C375.5 703.2 376.8 704.9 376.9 704.8C377.0 704.6 375.7 702.2 375.6 701.2C375.5 700.3 375.7 698.6 376.2 698.1C376.8 697.7 378.4 697.9 379.4 698.1C380.4 698.3 382.1 698.9 383.1 699.4C384.1 699.8 385.5 700.5 386.2 701.2C387.0 702.0 388.3 703.5 388.5 704.4C388.7 705.3 388.1 706.7 387.5 707.5C386.9 708.3 385.2 709.4 384.4 710.0C383.6 710.6 382.5 711.4 381.9 711.9C381.3 712.4 380.1 713.5 380.2 713.5C380.4 713.5 382.3 712.4 383.1 711.9C384.0 711.4 385.4 710.4 386.2 710.0C387.1 709.6 388.7 708.7 389.4 708.8C390.1 708.8 391.1 709.9 391.2 710.6C391.4 711.3 391.0 712.9 390.6 713.8C390.3 714.6 389.3 716.1 388.8 716.9C388.2 717.7 387.4 718.8 386.9 719.4C386.4 720.0 385.2 720.9 385.2 721.0C385.3 721.1 387.0 719.7 387.5 720.0C388.0 720.3 388.4 723.0 388.8 723.1C389.1 723.2 389.4 721.5 389.8 720.6C390.1 719.7 390.7 717.9 391.2 716.9C391.8 715.9 392.9 714.3 393.8 713.8C394.6 713.2 395.8 713.0 396.9 713.1C397.9 713.2 400.2 713.8 401.2 714.4C402.3 714.9 403.8 716.1 404.4 716.9C404.9 717.7 405.3 719.2 405.0 720.0C404.7 720.8 403.4 721.9 402.5 722.5C401.6 723.1 399.3 724.1 398.8 724.4M343.1 725.0C342.9 724.7 341.7 723.8 341.2 723.1C340.8 722.4 339.9 720.8 340.0 720.0C340.1 719.2 341.3 717.7 341.9 717.5C342.4 717.3 343.3 718.1 343.8 718.8C344.2 719.4 344.5 721.2 345.0 721.9C345.5 722.6 346.7 723.3 347.5 723.8C348.3 724.2 350.2 724.8 350.6 725.0M396.0 726.7L398.1 727.0L399.1 724.7L401.4 725.3L402.7 723.9L404.7 724.0L406.0 722.5L408.1 722.4L409.3 724.2L410.9 725.5L412.1 727.2L412.4 729.1L411.0 730.6L410.4 732.0L408.7 732.1L406.5 732.1L404.6 733.0L402.3 733.2L400.6 734.7L402.5 735.6L403.9 733.7L406.0 734.3L408.0 735.0L409.6 735.8L411.4 736.0L412.7 737.5L414.3 738.6L414.5 741.4L411.9 741.6L409.8 741.3L408.1 743.3L406.3 743.4L404.7 742.2L402.0 744.0L401.3 745.7L399.8 746.8L402.7 747.2L404.6 748.3L406.0 746.5L408.2 745.6L407.6 747.0L407.1 748.6L405.3 750.0L406.9 750.9L408.6 751.6L410.6 751.4L412.1 752.4L413.9 752.8L415.3 754.2L416.8 756.6L415.3 758.6L416.8 757.2L418.6 757.7L420.5 760.2L418.7 761.6L420.4 761.4L422.0 762.0L424.8 760.4L426.0 761.9L428.1 762.5L428.4 764.5L430.1 765.2L432.0 767.3L430.2 769.5L427.4 770.8L429.0 771.0L430.7 771.4L432.4 769.8L434.6 769.8L435.7 771.4L437.2 772.1L435.7 772.8L435.3 774.6L434.6 776.6L432.5 777.2L434.5 777.9L436.1 777.0L437.6 775.3L439.2 773.8L441.2 775.5L443.4 777.2L445.4 778.0L446.1 780.2L446.2 782.7L444.9 783.1L444.0 784.7L441.4 783.7L441.7 785.8L443.5 786.5L442.9 788.7L441.2 789.9L440.1 791.2L438.6 791.9L436.0 790.7L434.9 793.4L433.4 790.6L432.2 793.4L433.3 794.4L434.5 795.5L434.2 797.3L434.2 799.3L433.5 801.3L433.8 803.3L431.8 805.2L430.9 804.1L429.9 802.7L428.1 801.8L427.5 799.3L425.3 797.3L424.3 795.8L424.0 794.0L422.9 791.9L424.1 789.2L426.0 788.4L426.6 786.6L427.9 785.2L426.4 786.2L425.8 787.9L424.6 789.1L423.8 790.5L421.3 790.3L418.8 788.4L417.3 787.6L416.9 785.8L415.4 784.9L414.5 783.5L413.6 781.2L410.8 782.5L408.1 783.1L410.2 785.2L410.8 786.8L411.7 788.2L410.3 788.8L409.9 790.6L409.2 788.9L407.3 788.7L405.5 787.1L402.7 786.9L404.6 787.4L405.3 789.4L406.8 790.3L407.1 792.1L406.6 794.6L408.5 796.9L410.6 796.9L411.2 798.8L411.2 800.6L412.8 801.9L414.3 803.3L415.0 805.1L416.7 806.7L418.5 807.7L421.4 808.5L423.4 810.6L424.9 812.0L425.0 813.9L424.0 816.7L426.8 817.2L427.8 819.2L427.8 821.4L428.9 823.3L428.0 825.3L427.5 827.1L426.5 828.6L425.7 830.0L424.9 831.5L423.6 833.5M340.7 718.0C341.0 717.9 342.1 716.8 342.7 717.1C343.2 717.4 344.1 719.1 344.7 720.0C345.2 720.9 345.9 722.8 346.7 723.3C347.4 723.9 349.4 723.4 350.0 724.0C350.6 724.6 350.3 726.5 350.7 727.3C351.0 728.2 351.9 729.3 352.7 730.0C353.4 730.7 355.1 731.4 356.0 732.0C356.9 732.6 358.1 733.2 358.7 734.0C359.2 734.8 359.5 736.5 360.0 737.3C360.5 738.2 361.9 739.2 362.0 740.0C362.1 740.8 361.2 741.9 360.7 742.7C360.1 743.4 358.6 744.6 358.0 745.3C357.4 746.1 356.3 747.4 356.4 748.0C356.5 748.6 357.9 749.5 358.7 749.3C359.5 749.1 361.1 747.4 362.0 746.7C362.9 745.9 363.9 744.3 364.7 744.0C365.4 743.7 366.9 744.1 367.3 744.7C367.8 745.2 367.2 747.2 367.6 748.0C368.0 748.8 369.3 749.5 370.0 750.0C370.7 750.5 372.0 750.7 372.7 751.3C373.3 752.0 374.1 753.8 374.7 754.7C375.2 755.5 376.1 756.4 376.7 757.3C377.2 758.3 378.1 760.1 378.7 761.3C379.2 762.6 380.1 764.5 380.7 766.0C381.2 767.5 382.8 770.8 382.7 772.0C382.6 773.2 380.8 773.8 380.0 774.7C379.2 775.5 378.1 777.0 377.3 778.0C376.6 779.0 375.5 781.0 374.7 782.0C373.8 783.0 372.1 784.5 371.3 785.3C370.6 786.2 369.3 787.2 369.3 788.0C369.3 788.8 370.8 789.9 371.3 790.7C371.9 791.4 372.9 792.7 373.3 793.3C373.8 794.0 374.8 794.8 374.7 795.3C374.6 795.9 373.4 796.9 372.7 797.3C371.9 797.8 370.3 798.3 369.3 798.7C368.4 799.0 367.0 799.4 366.0 799.7C365.0 800.0 363.3 800.3 362.7 800.7C362.0 801.0 361.8 802.2 361.3 802.0C360.9 801.8 360.1 799.8 359.3 799.3C358.6 798.8 357.0 798.5 356.0 798.4C355.0 798.3 353.3 798.4 352.4 798.9C351.5 799.4 350.6 801.1 350.0 802.0C349.4 802.9 348.4 804.4 348.0 805.3C347.6 806.3 347.2 807.7 347.3 808.7C347.4 809.6 348.0 811.2 348.7 812.0C349.3 812.8 351.0 813.7 352.0 814.0C353.0 814.3 354.9 814.6 356.0 814.4C357.1 814.2 359.0 813.2 360.0 812.7C361.0 812.2 362.5 811.4 363.3 810.9C364.2 810.4 365.2 809.3 366.0 809.1C366.8 808.9 367.8 809.4 368.7 809.6C369.5 809.8 371.0 810.4 372.0 810.7C373.0 810.9 374.6 810.8 375.3 811.3C376.1 811.9 376.7 813.7 377.3 814.7C378.0 815.6 379.2 817.0 380.0 818.0C380.8 819.0 381.9 820.5 382.7 821.3C383.4 822.2 384.7 823.2 385.3 824.0C386.0 824.8 386.8 825.8 387.3 826.7C387.9 827.5 388.7 829.1 389.3 830.0C390.0 830.9 391.6 832.6 392.0 833.1M362.7 800.7C362.8 801.0 363.1 802.6 363.3 803.3C363.5 804.1 363.4 805.5 364.0 806.0C364.6 806.5 366.7 806.2 367.3 806.7C368.0 807.2 368.5 809.2 368.7 809.6M340.7 718.0C340.8 718.5 341.0 720.5 341.3 721.3C341.7 722.2 343.2 723.1 343.3 724.0C343.4 724.9 342.7 726.7 342.0 727.3C341.3 728.0 339.6 728.7 338.7 728.7C337.7 728.7 336.4 727.7 335.3 727.3C334.3 727.0 332.5 726.3 331.3 726.0C330.2 725.7 327.5 725.0 327.3 725.3C327.1 725.6 329.1 727.2 330.0 728.0C330.9 728.8 332.4 729.9 333.3 730.9C334.3 731.9 336.0 734.8 336.7 734.9C337.3 735.1 337.5 732.5 338.0 732.0C338.5 731.5 340.1 731.4 340.4 731.3M310.0 727.3C310.7 727.4 313.4 727.8 314.7 728.0C315.9 728.2 317.5 728.4 318.7 728.7C319.8 729.0 321.6 730.0 322.7 730.0C323.7 730.0 325.2 728.7 326.0 728.7C326.8 728.6 328.2 729.2 328.0 729.6C327.8 730.0 325.5 730.8 324.7 731.3C323.8 731.9 322.2 732.6 322.0 733.3C321.8 734.1 322.6 735.9 323.3 736.7C324.1 737.4 326.4 737.9 327.3 738.7C328.2 739.4 329.6 741.1 329.7 742.0C329.8 742.9 328.5 744.4 328.0 744.7C327.5 745.0 326.0 743.6 326.0 744.0C326.0 744.4 327.5 746.5 328.0 747.3C328.5 748.2 329.8 749.3 329.7 750.0C329.6 750.7 328.2 751.5 327.3 752.0C326.5 752.5 324.7 752.8 324.0 753.3C323.3 753.9 322.6 755.3 322.7 756.0C322.8 756.7 324.2 757.2 324.7 758.0C325.1 758.8 325.5 760.4 326.0 761.3C326.5 762.3 327.4 763.6 328.0 764.7C328.6 765.7 329.8 767.5 330.0 768.7C330.2 769.8 329.7 771.7 329.3 772.7C329.0 773.6 328.1 774.6 327.3 775.3C326.6 776.1 324.9 777.2 324.0 778.0C323.1 778.8 322.1 780.0 321.3 780.7C320.6 781.3 319.4 782.2 318.7 782.7C317.9 783.1 316.1 783.5 316.0 784.0C315.9 784.5 317.6 785.5 318.0 786.0C318.4 786.5 319.3 787.6 319.1 787.7C318.9 787.8 317.4 787.3 316.7 786.7C315.9 786.0 314.7 784.3 314.0 783.3C313.3 782.4 312.6 780.9 312.0 780.0C311.4 779.1 310.3 777.7 310.0 777.3M310.0 785.3C310.4 785.7 311.9 787.2 312.7 788.0C313.4 788.8 314.7 789.7 315.3 790.7C316.0 791.6 317.2 794.0 317.3 794.7C317.4 795.3 316.6 795.5 316.0 795.3C315.4 795.1 314.2 793.8 313.3 793.3C312.5 792.9 310.5 792.2 310.0 792.0M310.0 798.7C310.5 799.0 312.3 800.5 313.3 801.3C314.4 802.2 316.2 803.8 317.3 804.7C318.5 805.5 320.3 806.5 321.3 807.3C322.4 808.2 323.9 809.7 324.7 810.7C325.4 811.6 326.3 813.0 326.7 814.0C327.0 815.0 326.6 817.0 327.3 817.3C328.1 817.7 330.9 816.3 332.0 816.7C333.1 817.0 335.1 819.1 335.3 820.0C335.5 820.9 334.0 821.9 333.3 822.7C332.7 823.4 331.5 825.2 330.7 825.3C329.8 825.4 328.4 823.9 327.3 823.3C326.3 822.8 324.1 822.0 323.3 821.3C322.6 820.7 322.7 819.4 322.0 818.7C321.3 817.9 319.5 816.2 318.7 816.0C317.8 815.8 316.7 816.8 316.0 817.3C315.3 817.9 314.6 819.0 314.0 820.0C313.4 821.0 312.6 823.0 312.0 824.0C311.4 825.0 310.3 826.3 310.0 826.7M340.7 746.0C340.8 745.3 341.5 743.6 342.0 742.7C342.5 741.7 343.3 739.9 344.0 739.3C344.7 738.8 346.2 738.5 346.7 738.7C347.1 738.9 347.5 739.9 347.3 740.7C347.1 741.4 345.9 743.1 345.3 744.0C344.7 744.9 343.6 746.5 343.1 746.9C342.5 747.4 341.7 747.5 341.3 747.3C341.0 747.2 340.6 746.7 340.7 746.0ZM344.0 735.7C344.2 735.2 345.2 733.8 345.7 733.3C346.3 732.9 347.6 732.3 348.0 732.4C348.4 732.5 348.9 733.5 348.7 734.0C348.5 734.5 347.2 735.6 346.7 736.0C346.1 736.4 345.0 737.1 344.7 737.1C344.3 737.0 343.8 736.3 344.0 735.7ZM352.7 738.0C353.0 737.4 354.8 737.1 355.3 737.3C355.9 737.5 356.7 738.6 356.7 739.3C356.7 740.1 355.8 742.1 355.3 742.4C354.9 742.7 353.7 742.0 353.3 741.3C353.0 740.7 352.4 738.6 352.7 738.0ZM363.6 750.7C363.7 749.9 365.2 749.2 365.7 749.3C366.3 749.4 367.4 750.7 367.6 751.3C367.8 752.0 367.4 753.5 367.1 754.0C366.7 754.5 365.4 755.1 364.9 754.7C364.4 754.2 363.5 751.4 363.6 750.7ZM356.0 756.7C357.0 755.8 358.9 755.1 360.0 754.9C361.1 754.8 363.2 755.1 364.0 755.7C364.8 756.4 365.5 758.1 365.7 759.3C366.0 760.6 365.9 763.3 365.7 764.7C365.6 766.0 365.3 767.7 364.7 768.7C364.0 769.6 362.5 770.8 361.3 771.3C360.2 771.9 357.8 772.8 356.7 772.7C355.6 772.6 354.3 771.6 353.7 770.7C353.1 769.7 352.5 767.3 352.4 766.0C352.3 764.7 352.4 762.7 352.9 761.3C353.4 760.0 355.0 757.6 356.0 756.7ZM368.0 759.7C368.4 759.1 370.3 758.9 371.3 758.9C372.4 759.0 374.7 759.5 375.3 760.0C375.9 760.5 376.0 762.1 375.6 762.7C375.2 763.3 373.7 764.2 372.7 764.3C371.7 764.4 369.3 764.0 368.7 763.3C368.0 762.7 367.6 760.4 368.0 759.7ZM341.6 755.3C341.7 755.0 342.7 754.9 342.9 755.1C343.2 755.2 343.5 756.1 343.3 756.4C343.2 756.7 342.2 757.2 342.0 757.1C341.8 756.9 341.5 755.6 341.6 755.3ZM345.7 825.3C345.9 824.8 347.3 824.2 348.0 824.3C348.7 824.4 350.2 825.4 350.7 826.0C351.2 826.6 351.8 828.1 351.6 828.7C351.4 829.2 350.0 830.1 349.3 830.0C348.6 829.9 347.2 828.9 346.7 828.3C346.2 827.6 345.5 825.9 345.7 825.3ZM352.7 823.3C352.8 822.8 354.1 821.9 354.7 822.0C355.2 822.1 356.5 823.1 356.7 823.7C356.9 824.4 356.4 826.1 356.0 826.4C355.6 826.7 354.2 826.4 353.7 826.0C353.3 825.6 352.5 823.9 352.7 823.3ZM349.1 817.6C349.2 817.4 349.9 817.2 350.1 817.3C350.3 817.4 350.5 818.2 350.4 818.4C350.3 818.6 349.5 818.8 349.3 818.7C349.1 818.6 349.0 817.8 349.1 817.6ZM212.5 735.0C212.5 734.6 212.8 733.0 212.5 732.5C212.2 732.0 211.3 731.5 210.6 731.2C209.9 731.0 208.2 730.5 207.5 730.6C206.8 730.7 206.3 731.5 205.6 731.9C204.9 732.2 203.3 732.9 202.5 733.1C201.7 733.4 199.9 733.5 199.8 733.8C199.6 734.0 200.8 734.6 201.2 735.0C201.7 735.4 203.0 735.8 203.1 736.2C203.2 736.7 202.0 737.5 201.9 738.1C201.8 738.8 202.1 740.6 202.5 740.6C202.9 740.6 203.8 738.7 204.4 738.1C205.0 737.6 206.2 736.8 206.9 736.9C207.5 737.0 208.6 738.0 209.0 738.8C209.4 739.5 209.9 741.1 209.8 741.9C209.6 742.7 208.8 743.8 208.1 744.4C207.4 745.0 206.0 745.8 205.0 746.2C204.0 746.7 202.3 747.4 201.2 747.5C200.2 747.6 198.5 747.5 197.5 747.2C196.5 747.0 195.3 745.9 194.4 745.6C193.5 745.3 192.0 745.4 191.2 745.0C190.5 744.6 190.1 743.6 189.4 743.1C188.7 742.7 187.1 742.1 186.2 741.9C185.4 741.6 183.7 741.8 183.1 741.2C182.6 740.7 182.9 738.7 182.5 738.1C182.1 737.6 181.2 737.2 180.6 737.5C180.1 737.8 179.4 739.1 178.8 740.0C178.1 740.9 177.0 743.0 176.2 743.8C175.5 744.5 173.9 744.8 173.5 745.0M213.8 725.0C213.8 725.3 214.4 726.2 214.4 726.9C214.4 727.6 214.0 729.2 213.8 730.0C213.5 730.8 212.7 732.1 212.5 732.5M212.2 736.2C212.4 736.1 213.3 736.1 213.5 736.2C213.7 736.4 213.7 737.3 213.5 737.5C213.3 737.7 212.4 737.7 212.2 737.5C212.1 737.3 212.1 736.4 212.2 736.2ZM231.2 730.2C231.9 730.0 233.0 730.1 233.8 730.6C234.5 731.1 235.4 732.9 236.2 733.8C237.1 734.6 238.6 736.0 239.4 736.9C240.2 737.8 241.2 739.0 241.9 740.0C242.5 741.0 243.3 742.8 243.8 743.8C244.2 744.7 244.5 746.3 245.0 746.9C245.5 747.4 247.2 747.1 247.5 747.5C247.8 747.9 247.4 748.7 246.9 749.4C246.3 750.1 244.6 752.0 243.8 752.5C242.9 753.0 241.4 753.2 240.6 753.1C239.8 753.0 239.0 752.1 238.1 751.9C237.2 751.6 235.4 751.5 234.4 751.2C233.4 751.0 232.1 750.4 231.2 750.0C230.4 749.6 228.9 748.7 228.1 748.1C227.3 747.6 226.3 746.7 225.6 746.2C224.9 745.8 223.6 745.6 223.1 745.0C222.7 744.4 222.1 742.5 222.5 741.9C222.9 741.2 224.8 741.1 225.6 740.6C226.4 740.2 227.5 739.5 228.1 738.8C228.7 738.0 229.6 736.5 229.8 735.6C229.9 734.7 229.2 733.3 229.4 732.5C229.6 731.7 230.6 730.5 231.2 730.2ZM229.8 761.2C230.1 760.7 231.7 760.0 232.5 760.0C233.3 760.0 235.0 760.7 235.6 761.2C236.2 761.8 236.9 763.1 236.9 763.8C236.8 764.4 235.9 765.7 235.2 766.0C234.6 766.3 233.0 766.3 232.2 766.0C231.5 765.7 230.6 764.7 230.2 764.0C229.9 763.3 229.4 761.8 229.8 761.2ZM173.5 749.4C174.1 749.1 176.3 748.0 177.5 747.5C178.7 747.0 180.8 745.9 181.9 745.6C182.9 745.4 184.3 745.3 185.0 745.6C185.7 746.0 186.5 747.2 186.9 748.1C187.2 749.0 187.1 750.9 187.5 751.9C187.9 752.9 189.2 754.1 190.0 755.0C190.8 755.9 192.2 757.5 193.1 758.1C194.0 758.8 195.4 759.3 196.2 759.4C197.1 759.5 198.6 758.5 199.4 758.8C200.2 759.0 201.1 760.5 201.9 761.2C202.7 762.0 203.9 763.2 205.0 763.8C206.1 764.3 208.1 765.0 209.4 765.0C210.6 765.0 212.5 764.1 213.8 763.8C215.0 763.4 217.0 762.6 218.1 762.5C219.3 762.4 220.9 762.9 221.9 763.1C222.9 763.4 224.1 764.4 225.0 764.4C225.9 764.4 227.5 763.7 228.1 763.1C228.8 762.6 229.5 761.2 229.4 760.6C229.3 760.0 227.6 759.5 227.5 758.8C227.4 758.0 228.0 756.2 228.5 755.6C229.0 755.0 230.5 754.8 231.2 754.4C232.0 754.0 232.9 752.8 233.8 752.8C234.6 752.8 236.2 753.8 236.9 754.4C237.6 755.0 238.0 756.2 238.5 756.9C239.0 757.5 240.1 757.9 240.6 758.8C241.1 759.6 241.8 761.4 241.9 762.5C242.0 763.6 241.2 765.2 241.2 766.2C241.2 767.3 241.5 769.0 241.9 770.0C242.2 771.0 243.9 772.4 243.8 773.1C243.6 773.8 240.7 774.5 240.6 775.0C240.5 775.5 242.5 776.0 243.1 776.9C243.7 777.8 244.4 781.2 244.8 781.2C245.1 781.2 245.2 777.9 245.6 776.9C246.0 775.9 247.2 775.4 247.5 774.4C247.8 773.4 247.7 771.2 247.5 770.0C247.3 768.8 246.6 767.2 246.2 766.2C245.9 765.3 244.9 764.0 245.0 763.1C245.1 762.2 246.2 760.6 246.9 760.0C247.6 759.4 249.2 759.3 250.0 758.8C250.8 758.2 251.8 757.0 252.5 756.2C253.2 755.5 254.3 754.5 255.0 753.8C255.7 753.0 257.2 752.1 257.5 751.2C257.8 750.4 257.1 748.5 256.9 747.5C256.6 746.5 256.2 744.6 255.6 744.4C255.1 744.2 253.8 745.7 253.1 746.2C252.5 746.8 251.3 748.2 251.2 748.1C251.2 748.0 252.0 746.2 252.5 745.6C253.0 745.0 254.5 744.5 255.0 743.8C255.5 743.0 256.1 741.4 256.2 740.6C256.4 739.8 256.2 738.5 256.2 738.1M173.5 754.0C174.1 753.7 176.3 752.4 177.5 751.9C178.7 751.3 180.8 750.3 181.9 750.0C183.0 749.7 184.6 749.3 185.2 749.5C185.9 749.7 186.6 750.9 186.2 751.5C185.9 752.1 184.1 753.3 183.1 754.0C182.1 754.7 180.4 755.6 179.4 756.2C178.3 756.9 176.5 757.9 175.6 758.2C174.8 758.6 173.8 758.9 173.5 759.0M173.8 762.5C173.9 763.2 174.6 766.2 175.0 767.5C175.4 768.8 176.5 770.6 176.9 771.9C177.3 773.1 177.9 775.4 177.8 776.2C177.6 777.1 176.1 777.0 175.6 777.5C175.2 778.0 174.5 779.0 174.8 780.0C175.0 781.0 177.1 783.8 177.5 784.4M190.6 751.9C190.8 751.4 191.8 750.8 192.2 750.9C192.7 750.9 193.6 751.8 193.8 752.2C193.9 752.7 193.5 753.9 193.1 754.1C192.8 754.4 191.6 754.3 191.2 754.0C190.9 753.7 190.5 752.3 190.6 751.9ZM206.5 748.8C206.6 748.2 207.6 747.5 208.1 747.5C208.6 747.5 209.8 748.3 210.0 748.8C210.2 749.2 209.8 750.6 209.4 750.9C209.0 751.2 207.7 751.3 207.2 751.0C206.8 750.7 206.4 749.2 206.5 748.8ZM216.5 743.8C216.8 743.2 217.7 742.4 218.1 742.5C218.5 742.6 219.3 743.7 219.4 744.4C219.5 745.1 219.1 746.9 218.8 747.5C218.4 748.1 217.6 748.9 217.2 748.8C216.9 748.6 216.1 747.2 216.0 746.5C215.9 745.8 216.2 744.3 216.5 743.8ZM243.5 735.6C243.6 735.0 244.6 734.3 245.0 734.4C245.4 734.4 246.4 735.5 246.6 736.0C246.8 736.5 246.6 737.7 246.2 738.1C245.9 738.5 244.8 739.1 244.4 738.8C244.0 738.4 243.4 736.2 243.5 735.6ZM276.2 738.1C276.1 738.4 275.5 739.6 275.0 740.0C274.5 740.4 272.6 740.2 272.5 740.6C272.4 741.1 273.9 742.2 274.4 743.1C274.8 744.0 275.5 745.7 275.6 746.9C275.7 748.0 274.9 750.2 275.0 751.2C275.1 752.3 275.7 753.7 276.0 754.4C276.3 755.1 276.9 756.2 277.2 756.0C277.6 755.8 278.4 754.2 278.8 753.1C279.1 752.1 279.2 750.0 279.4 748.8C279.6 747.5 279.6 745.4 280.0 744.4C280.4 743.3 281.3 741.9 281.9 741.2C282.4 740.6 283.2 739.9 283.8 740.0C284.3 740.1 285.0 741.2 285.6 741.9C286.2 742.6 287.5 744.1 288.1 745.0C288.8 745.9 289.6 747.1 290.0 748.1C290.4 749.1 290.9 750.9 291.0 751.9C291.1 752.9 291.0 754.4 290.6 755.0C290.2 755.6 288.6 755.5 288.1 756.2C287.7 757.0 287.4 758.9 287.5 760.0C287.6 761.1 288.3 762.8 288.8 763.8C289.2 764.7 290.1 766.0 290.6 766.9C291.2 767.8 292.0 769.2 292.5 770.0C293.0 770.8 293.5 772.4 294.0 772.5C294.5 772.6 295.6 771.2 296.2 770.6C296.9 770.1 298.4 769.6 298.8 768.8C299.1 767.9 298.6 766.1 298.8 765.0C298.9 763.9 299.6 762.3 300.0 761.2C300.4 760.2 301.5 758.7 301.9 757.5C302.2 756.3 302.2 754.3 302.5 753.1C302.8 752.0 303.2 750.1 303.8 749.4C304.3 748.7 305.5 748.4 306.2 748.1C307.0 747.9 308.5 748.1 308.8 747.5C309.0 746.9 308.5 744.6 308.1 743.8C307.8 742.9 306.6 742.2 306.2 741.2C305.9 740.3 305.8 738.1 305.6 736.9C305.4 735.6 304.8 733.4 304.8 732.5C304.8 731.6 304.9 730.9 305.6 730.6C306.4 730.4 308.7 730.4 310.0 730.6C311.3 730.8 313.6 731.6 315.0 731.9C316.4 732.2 319.3 732.6 320.0 732.8M296.5 758.1C296.7 757.1 297.6 755.6 298.1 755.4C298.6 755.2 299.8 756.1 300.0 756.9C300.2 757.6 300.0 759.6 299.8 760.6C299.5 761.6 298.6 763.7 298.1 764.0C297.7 764.3 296.7 763.3 296.5 762.5C296.3 761.7 296.3 759.1 296.5 758.1ZM320.0 786.2C319.6 786.1 318.2 785.5 317.5 785.0C316.8 784.5 315.7 783.4 315.0 782.5C314.3 781.6 313.2 779.6 312.5 778.8C311.8 777.9 310.7 776.7 310.0 776.2C309.3 775.8 307.8 775.4 307.5 775.6C307.2 775.8 307.7 776.9 308.1 777.5C308.6 778.1 310.0 779.2 310.6 780.0C311.2 780.8 312.1 782.2 312.5 783.1C312.9 784.0 313.8 785.4 313.8 786.2C313.7 787.1 312.5 788.7 311.9 788.8C311.2 788.8 310.1 787.5 309.4 786.9C308.7 786.2 307.6 785.0 306.9 784.4C306.2 783.7 305.4 782.5 304.4 782.2C303.3 782.0 300.4 782.3 299.4 782.5C298.4 782.7 297.4 783.2 297.5 783.8C297.6 784.3 299.3 785.7 300.0 786.2C300.7 786.8 302.3 786.9 302.5 787.5C302.7 788.1 301.8 789.6 301.2 790.6C300.7 791.6 299.5 793.3 298.8 794.4C298.0 795.4 296.9 797.3 296.2 798.1C295.6 798.9 295.3 799.8 294.4 800.0C293.5 800.2 291.2 799.8 290.0 799.4C288.8 798.9 287.3 797.7 286.2 796.9C285.2 796.1 283.6 794.6 282.5 793.8C281.4 792.9 280.0 791.7 278.8 791.2C277.5 790.8 275.0 790.7 273.8 790.6C272.5 790.5 270.2 790.4 270.0 790.6C269.8 790.9 271.4 792.3 272.5 792.5C273.6 792.7 276.3 791.9 277.5 792.2C278.7 792.6 279.7 794.2 280.6 795.0C281.5 795.8 282.8 797.4 283.8 798.1C284.7 798.8 286.3 799.6 287.5 800.0C288.7 800.4 290.8 800.4 291.9 800.6C292.9 800.8 294.5 800.8 295.0 801.2C295.5 801.7 295.8 802.9 295.6 803.8C295.4 804.6 294.4 806.3 293.8 807.5C293.1 808.7 292.0 810.7 291.2 811.9C290.5 813.0 289.6 814.7 288.8 815.6C287.9 816.5 286.5 817.8 285.6 818.1C284.7 818.5 283.4 818.4 282.5 818.1C281.6 817.9 280.1 816.2 279.4 816.2C278.7 816.3 277.9 817.9 277.5 818.8C277.1 819.6 276.9 821.2 276.2 821.9C275.6 822.5 274.0 823.0 273.1 823.1C272.2 823.2 270.9 822.8 270.0 822.5C269.1 822.2 267.8 821.6 266.9 821.2C266.0 820.9 264.7 820.2 263.8 819.8C262.8 819.3 261.1 818.6 260.0 818.1C258.9 817.6 256.3 816.1 256.2 816.2C256.2 816.4 258.3 818.6 259.4 819.4C260.4 820.2 262.4 821.2 263.8 821.9C265.1 822.5 267.5 823.3 268.8 823.8C270.0 824.2 271.6 824.5 272.5 825.0C273.4 825.5 274.6 826.6 274.8 827.5C274.9 828.4 274.3 830.4 273.8 831.2C273.2 832.1 271.6 832.8 270.6 833.1C269.6 833.5 267.7 833.3 266.9 833.8C266.1 834.2 265.5 835.4 265.0 836.2C264.5 837.1 263.8 838.5 263.1 839.4C262.5 840.3 261.2 841.6 260.6 842.5C260.0 843.4 259.4 844.7 258.8 845.6C258.1 846.5 256.8 848.1 256.2 848.8C255.7 849.4 255.2 849.8 255.0 850.0M320.0 805.0C319.6 804.7 318.4 803.8 317.5 803.1C316.6 802.4 314.7 800.8 313.8 800.0C312.8 799.2 311.4 797.7 310.6 797.5C309.8 797.3 308.7 799.2 308.1 798.8C307.6 798.3 307.3 795.4 306.9 794.4C306.4 793.4 305.6 792.1 305.0 791.9C304.4 791.6 303.0 791.9 302.5 792.5C302.0 793.1 301.5 795.0 301.2 796.2C301.0 797.5 300.8 799.8 300.6 801.2C300.4 802.7 300.1 804.8 300.0 806.2C299.9 807.7 299.8 810.0 299.8 811.2C299.8 812.5 300.3 814.1 300.0 815.0C299.7 815.9 298.2 816.8 297.5 817.5C296.8 818.2 295.4 819.2 295.0 820.0C294.6 820.8 294.6 822.8 295.0 823.1C295.4 823.5 297.1 822.7 298.1 822.5C299.1 822.3 301.0 821.6 301.9 821.9C302.8 822.1 303.9 823.5 304.4 824.4C304.8 825.3 304.6 827.5 305.0 828.1C305.4 828.8 306.7 829.0 307.5 828.8C308.3 828.5 309.8 827.1 310.6 826.2C311.4 825.4 312.5 824.1 313.1 823.1C313.8 822.1 314.5 820.3 315.0 819.4C315.5 818.5 316.2 817.4 316.9 816.9C317.6 816.3 319.6 815.8 320.0 815.6M306.2 790.0C306.6 789.7 308.5 791.2 308.8 791.9C309.0 792.6 308.5 794.7 308.1 795.0C307.8 795.3 306.5 794.5 306.2 793.8C306.0 793.0 305.9 790.3 306.2 790.0ZM307.5 775.6C307.7 775.5 308.5 774.8 309.0 775.0C309.5 775.2 310.9 776.6 311.2 776.9M254.9 850.0L254.0 851.4L255.4 853.4L253.3 854.5L253.3 856.2L252.1 857.9L251.8 859.9L251.4 861.9L250.7 863.7L250.9 865.7L250.6 867.5L250.7 869.4L249.2 871.2L250.2 873.2L250.2 874.9L249.4 876.5L249.4 878.1L250.3 880.3L251.8 881.8L251.9 883.5L254.1 884.7L253.4 886.6L253.9 884.6L254.1 882.4L255.7 881.9L257.4 882.3L259.0 882.1L259.4 884.2L260.2 886.0L260.4 888.2L261.8 890.1M315.0 836.4C315.4 835.5 315.6 833.5 316.4 832.8C317.2 832.1 319.4 831.7 320.7 831.4C321.9 831.2 324.4 830.8 325.2 831.1C326.0 831.4 326.3 832.7 326.0 833.5C325.8 834.4 324.4 836.1 323.5 837.1C322.6 838.1 321.1 840.0 319.9 840.6C318.8 841.3 316.6 842.0 315.7 841.8C314.8 841.6 314.0 840.0 313.9 839.2C313.8 838.4 314.6 837.3 315.0 836.4ZM335.5 840.6C335.8 839.6 336.7 838.5 337.4 838.2C338.0 837.9 339.7 838.0 340.2 838.5C340.7 839.0 341.3 840.9 341.2 842.0C341.1 843.2 340.3 845.4 339.8 846.3C339.3 847.2 338.3 848.5 337.6 848.4C337.0 848.3 335.8 846.7 335.5 845.6C335.2 844.5 335.3 841.7 335.5 840.6ZM335.1 872.2L336.2 870.1M352.5 890.2L351.7 888.2L349.3 887.7L348.9 885.8L347.6 884.8L346.3 883.7L345.5 881.0L345.9 878.9L347.7 877.5L348.5 875.6L349.6 873.8L351.7 871.7L353.3 870.1L351.9 868.2L351.2 866.2L351.2 864.0L351.7 861.8L350.9 859.7L348.3 858.6L346.4 858.2L344.8 859.5L346.8 858.1L349.0 857.7L349.7 855.5L349.9 853.3L350.3 851.3L350.4 849.1L349.7 847.4L348.5 846.1L348.5 844.0L346.8 842.1L347.2 840.1L348.4 838.5L349.7 837.5L351.0 836.3L353.3 836.1L355.4 836.7L356.7 838.5L358.9 838.4L360.3 840.1L362.4 840.6L364.3 840.8L366.0 839.9L368.8 841.4L370.7 840.6L371.6 838.7L374.4 837.6L376.1 838.5L377.2 840.0L379.0 841.0L380.1 842.8L381.9 844.1L382.4 846.2L383.3 847.8L385.1 848.4L386.1 850.1L386.5 852.0L387.6 853.4L389.3 854.2L391.2 854.5L392.8 855.7L394.7 855.5L396.4 856.2L398.7 858.2L398.3 860.5L397.4 862.6L397.2 864.8L397.3 867.1L395.5 867.9L393.8 867.0L392.2 867.4L393.8 868.3L395.5 868.0L397.2 867.8L396.9 870.3L397.7 872.5L397.9 874.8L399.3 876.7L399.2 878.8L397.7 880.2L396.6 881.6L395.1 882.6M368.1 835.0L372.4 835.9M310.0 826.7C309.9 826.8 309.7 827.4 309.0 827.7C308.3 828.1 306.2 829.8 305.2 829.2C304.3 828.7 303.0 825.0 302.2 824.0C301.5 823.0 300.3 822.7 300.0 822.5M391.9 833.0L392.7 835.4L395.8 833.9L397.1 836.2L398.9 836.8L399.9 838.7L401.9 839.4L404.1 839.1L405.7 840.7L407.7 840.6L409.5 841.1L411.2 841.5L411.7 844.3L414.1 843.3L416.1 843.8L417.7 845.1L419.2 842.9L418.8 840.7L417.2 839.6L416.6 838.0L413.3 838.6L413.9 836.1L413.2 834.6L412.1 833.4L410.8 832.4L410.1 830.9L408.9 829.8L408.1 828.4L408.1 826.4L406.7 825.4L404.5 825.1L403.0 823.8L402.1 821.6L405.0 821.3L406.8 821.8L408.1 823.1L409.8 824.4L410.7 826.5L412.5 827.0L413.0 828.9L414.7 829.3L416.3 831.0L418.5 831.5L420.3 832.8L422.1 834.0L423.2 833.1M389.7 833.3C389.9 832.8 391.2 832.1 391.8 832.2C392.4 832.4 393.6 833.6 393.7 834.2C393.9 834.8 393.2 836.5 392.7 836.7C392.2 837.0 390.7 836.5 390.3 836.0C389.9 835.5 389.5 833.8 389.7 833.3ZM345.7 826.2C346.0 825.6 347.2 824.4 348.0 824.3C348.7 824.2 350.5 824.9 351.0 825.5C351.5 826.1 352.0 827.7 351.7 828.2C351.5 828.7 349.9 829.2 349.2 829.2C348.4 829.3 347.0 828.9 346.5 828.5C346.0 828.1 345.5 826.8 345.7 826.2ZM352.5 823.2C352.7 822.8 354.1 822.1 354.7 822.2C355.4 822.3 356.8 823.4 357.0 824.0C357.1 824.6 356.3 826.0 355.8 826.2C355.3 826.5 353.7 825.9 353.2 825.5C352.8 825.1 352.3 823.7 352.5 823.2ZM349.2 817.4C349.4 817.2 350.2 817.2 350.4 817.4C350.6 817.6 350.6 818.4 350.4 818.6C350.2 818.8 349.4 818.8 349.2 818.6C349.0 818.4 349.0 817.6 349.2 817.4ZM424.8 836.7C425.1 836.4 426.3 835.9 426.7 836.0C427.2 836.1 428.2 837.0 428.2 837.5C428.2 838.0 427.2 839.1 426.7 839.3C426.3 839.5 425.2 839.1 424.9 838.7C424.7 838.3 424.5 837.1 424.8 836.7ZM422.7 846.5C422.9 845.6 423.9 844.2 424.5 844.2C425.1 844.2 426.4 845.7 426.7 846.5C427.1 847.2 427.4 848.7 427.2 849.5C427.0 850.2 425.8 851.6 425.2 851.7C424.6 851.9 423.4 851.0 423.0 850.2C422.6 849.5 422.5 847.4 422.7 846.5ZM405.0 863.0C405.2 862.4 406.3 860.9 406.8 860.7C407.3 860.6 408.6 861.2 408.7 861.8C408.9 862.4 408.2 864.3 407.7 864.8C407.2 865.3 405.8 865.5 405.4 865.2C405.1 865.0 404.8 863.6 405.0 863.0ZM394.9 882.3L397.2 882.5L398.8 880.5L400.9 881.7L402.7 881.1L403.2 883.0L404.9 884.0L406.1 886.1L405.6 888.5L408.0 886.9L409.6 885.4L411.7 884.6L414.4 885.0L415.4 882.3L416.8 881.3L418.6 881.1L420.0 879.9L420.2 878.1L421.7 876.5L422.4 874.4L421.2 871.4L423.7 869.7L424.7 868.0L425.3 866.0L425.1 863.9L426.3 862.3L427.4 863.7L428.1 865.3L427.4 867.4L428.8 869.0L431.3 869.7L431.1 871.7L431.1 873.6L431.9 875.4L432.9 877.2L434.4 878.8L435.1 880.9L435.2 883.4L437.3 884.7L437.3 886.6L438.7 887.8L436.4 889.9M368.2 834.8L372.0 836.0M334.8 872.0L336.0 869.3M761.8 842.5C761.9 842.2 763.0 841.4 763.5 841.0C764.0 840.6 764.5 839.7 765.0 839.5C765.5 839.3 766.8 839.3 767.2 839.5C767.6 839.7 767.9 840.6 767.8 841.0C767.7 841.4 766.5 842.0 766.2 842.5C765.9 843.0 765.5 843.9 765.5 844.5C765.5 845.1 766.6 846.4 766.5 846.5C766.4 846.6 765.4 845.9 765.0 845.5C764.6 845.1 764.4 843.8 764.0 843.5C763.6 843.2 762.8 843.3 762.5 843.2C762.2 843.1 761.7 842.8 761.8 842.5ZM764.5 848.8L766.2 850.8M764.0 840.5L766.2 841.8M795.5 864.0C795.5 863.5 796.7 862.1 797.2 861.5C797.7 860.9 798.5 860.0 799.0 859.5C799.5 859.0 800.5 857.8 800.7 858.0C800.9 858.2 800.4 860.1 800.2 861.0C800.0 861.9 799.4 863.1 799.2 864.0C799.0 864.9 798.7 866.6 798.5 867.0C798.3 867.4 797.7 866.8 797.5 866.5C797.3 866.2 797.3 865.4 797.0 865.0C796.7 864.6 795.5 864.5 795.5 864.0ZM797.8 867.0L797.5 869.2M796.5 863.0L799.0 864.0M785.5 879.0C785.7 878.6 786.1 877.9 786.5 877.5C786.9 877.1 787.5 876.3 788.0 876.0C788.5 875.7 789.5 875.2 790.0 875.2C790.5 875.2 791.2 875.7 791.2 876.0C791.2 876.3 790.3 877.0 790.0 877.5C789.7 878.0 789.3 878.9 789.0 879.5C788.7 880.1 788.4 881.2 788.0 881.5C787.6 881.8 786.6 881.9 786.2 881.8C785.8 881.7 785.3 880.9 785.2 880.5C785.1 880.1 785.3 879.4 785.5 879.0ZM787.0 877.0L789.0 879.0M773.5 890.0C773.7 889.6 774.7 887.9 775.0 887.0C775.3 886.1 775.2 884.4 775.8 884.0C776.4 883.6 778.0 884.1 779.0 884.0C780.0 883.9 781.9 883.6 783.0 883.5C784.1 883.4 785.8 882.9 786.5 883.0C787.2 883.1 787.7 883.5 787.8 884.0C787.9 884.5 787.4 885.9 787.0 886.5C786.6 887.1 785.6 888.0 785.0 888.5C784.4 889.0 783.3 889.8 783.0 890.0M763.2 890.0C763.4 889.7 764.0 888.5 764.5 888.0C765.0 887.5 765.9 886.6 766.5 886.2C767.1 885.8 768.4 885.0 768.8 885.0C769.2 885.0 769.3 886.0 769.2 886.5C769.1 887.0 768.1 888.0 768.0 888.5C767.9 889.0 768.4 889.8 768.5 890.0M752.2 713.0C752.2 712.7 754.2 711.1 755.0 710.3C755.8 709.5 757.0 707.8 757.5 707.5C758.0 707.2 758.8 707.9 758.8 708.3C758.8 708.7 758.1 709.7 757.5 710.3C756.9 710.9 755.4 712.1 754.7 712.5C753.9 712.9 752.1 713.3 752.2 713.0ZM915.3 641.7C915.4 641.2 916.2 640.5 916.7 640.5C917.1 640.5 918.2 641.2 918.3 641.7C918.5 642.1 918.2 643.5 917.8 643.8C917.5 644.1 916.4 644.1 916.0 643.8C915.6 643.5 915.2 642.1 915.3 641.7ZM911.0 734.8C911.1 734.3 912.4 733.4 912.9 732.8C913.3 732.2 913.9 731.3 914.2 730.8C914.5 730.3 914.6 729.3 914.9 729.1C915.2 729.0 916.1 729.4 916.2 729.8C916.3 730.2 915.5 731.7 915.5 732.2C915.6 732.6 916.8 732.4 916.9 732.8C917.0 733.2 916.6 734.4 916.2 734.8C915.9 735.3 915.0 735.6 914.5 735.8C914.1 736.0 912.9 735.8 912.9 736.2C912.8 736.6 913.8 738.1 914.2 738.5C914.6 738.9 915.8 738.7 915.9 738.8C916.0 739.0 915.3 739.6 914.9 739.5C914.5 739.5 913.6 738.9 913.2 738.5C912.8 738.1 912.2 737.0 911.9 736.5C911.5 736.0 910.8 735.4 911.0 734.8ZM919.6 723.1C919.6 722.9 920.3 722.5 920.6 722.8C920.9 723.0 921.4 724.3 921.6 724.8C921.8 725.3 922.0 726.3 921.9 726.5C921.8 726.6 921.2 726.1 920.9 725.8C920.6 725.5 920.3 724.8 920.1 724.4C919.9 724.1 919.5 723.3 919.6 723.1ZM916.9 732.8C917.1 732.7 917.8 732.1 918.2 731.8C918.7 731.6 919.4 731.1 919.9 731.1C920.4 731.2 921.4 731.6 921.6 732.2C921.8 732.7 921.4 734.1 921.2 734.8C921.1 735.6 920.7 737.1 920.6 737.5M896.7 743.5C896.7 743.0 897.2 741.8 897.5 741.2C897.7 740.6 898.3 739.4 898.7 739.2C899.0 738.9 899.7 739.1 899.8 739.5C899.9 739.9 899.6 741.2 899.5 741.9C899.3 742.5 898.9 743.5 898.8 744.2C898.7 744.9 898.4 746.2 898.5 746.9C898.5 747.6 899.4 748.6 899.3 749.2C899.3 749.9 898.4 750.9 898.1 751.2C897.8 751.6 897.3 751.8 897.3 751.6C897.3 751.3 898.0 750.2 898.0 749.6C898.0 748.9 897.7 747.6 897.6 746.9C897.5 746.2 897.3 745.4 897.1 744.9C897.0 744.4 896.6 744.1 896.7 743.5ZM902.8 752.9C903.2 753.0 904.7 753.5 905.5 753.6C906.3 753.6 907.8 753.3 908.2 753.2M939.0 722.1C939.1 722.4 939.7 723.5 940.0 724.1C940.3 724.7 940.7 726.0 941.0 726.5C941.3 726.9 942.1 727.3 942.3 727.5"/>
<g class="grid"><line x1="220.5" y1="321.5" x2="220.5" y2="890.5"/><line x1="337.5" y1="321.5" x2="337.5" y2="890.5"/><line x1="454.5" y1="321.5" x2="454.5" y2="890.5"/><line x1="571.5" y1="321.5" x2="571.5" y2="890.5"/><line x1="688.5" y1="321.5" x2="688.5" y2="890.5"/><line x1="805.5" y1="321.5" x2="805.5" y2="890.5"/><line x1="922.5" y1="321.5" x2="922.5" y2="890.5"/><line x1="1039.5" y1="321.5" x2="1039.5" y2="890.5"/><line x1="173.5" y1="868.5" x2="1057.5" y2="868.5"/><line x1="173.5" y1="804.5" x2="1057.5" y2="804.5"/><line x1="173.5" y1="728.5" x2="1057.5" y2="728.5"/><line x1="173.5" y1="630.5" x2="1057.5" y2="630.5"/><line x1="173.5" y1="493.5" x2="1057.5" y2="493.5"/></g>
<g class="volc" fill="none" stroke="#000" stroke-linecap="butt">
<path d="M696.2 792.2L698.6 799L708.6 799L711 792.2M703.5 792.2L703.5 799M698.6 799L694.7 810.4M708.6 799L712.5 810.4" stroke-width="1.6"/>
<path d="M694.4 810.6L701.2 810.6M706 810.6L712.8 810.6" stroke-width="2.8"/>
</g>
</g>
<rect x="173.5" y="321.5" width="884.0" height="569.0" fill="none" stroke="#000" stroke-width="1.1"/>
<text x="59.9" y="975" font-size="13.9">© Met Office Crown Copyright</text>
</svg>
</body></html>
